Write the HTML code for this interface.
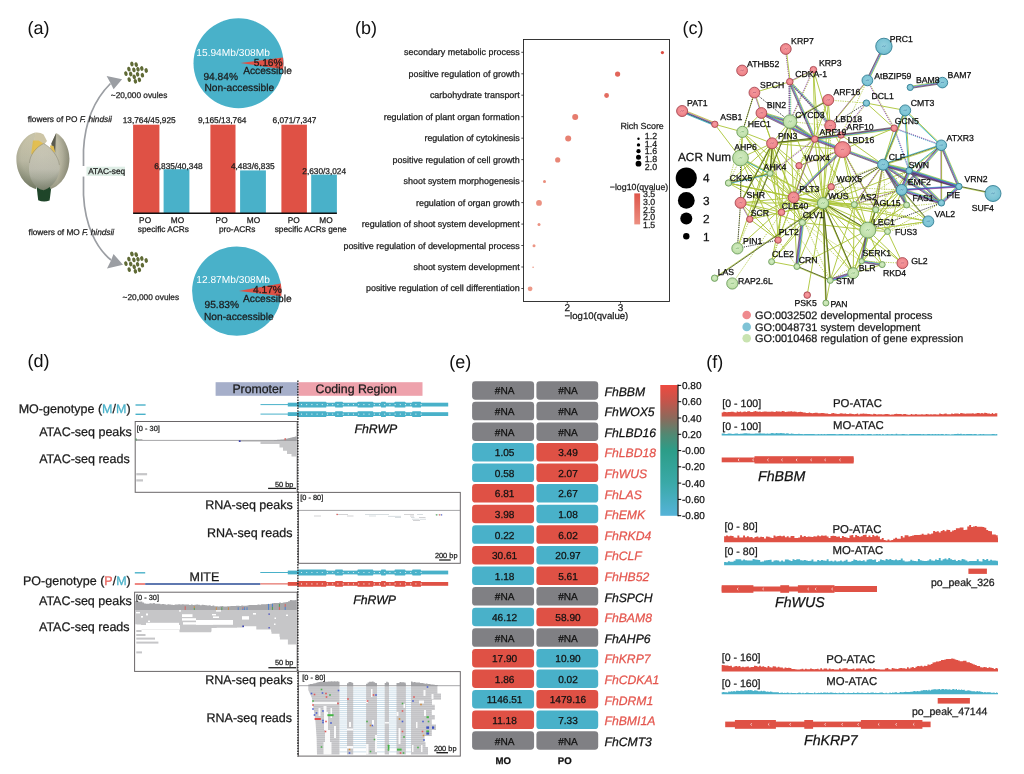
<!DOCTYPE html>
<html lang="en">
<head>
<meta charset="utf-8">
<title>Figure: ATAC-seq accessible chromatin regions</title>
<style>
html,body{margin:0;padding:0;background:#fff;}
body{width:1024px;height:774px;overflow:hidden;}
svg{display:block;will-change:transform;font-family:'Liberation Sans', sans-serif;}
svg text{font-family:"Liberation Sans",sans-serif;text-rendering:geometricPrecision;}
</style>
</head>
<body>
<svg width="1024" height="774" viewBox="0 0 1024 774">
<rect x="0" y="0" width="1024" height="774" fill="#ffffff"/>
<g id="panel-a">
<text x="27.5" y="33.9" font-size="18" fill="#111">(a)</text>
<path d="M110.5 83.5 C96 98 85 120 83.5 150 L83.5 195 C85 225 96 248 111 260" fill="none" stroke="#9b9ea3" stroke-width="1.7"/>
<path d="M122.1 79.3 L106.6 76.1 L110.6 83.2 L113.6 89.2 Z" fill="#9b9ea3"/>
<path d="M123 264.8 L107 268.5 L111 260.5 L113.5 254 Z" fill="#9b9ea3"/>
<ellipse cx="131.9" cy="64.0" rx="1.7" ry="2.4" fill="#5f6a35" transform="rotate(-15 131.9 64.0)"/>
<ellipse cx="136.2" cy="64.6" rx="1.7" ry="2.4" fill="#5f6a35" transform="rotate(-15 136.2 64.6)"/>
<ellipse cx="128.9" cy="69.1" rx="1.7" ry="2.4" fill="#5f6a35" transform="rotate(-15 128.9 69.1)"/>
<ellipse cx="133.9" cy="69.9" rx="1.7" ry="2.4" fill="#5f6a35" transform="rotate(-15 133.9 69.9)"/>
<ellipse cx="138.0" cy="69.3" rx="1.7" ry="2.4" fill="#5f6a35" transform="rotate(-15 138.0 69.3)"/>
<ellipse cx="141.8" cy="68.5" rx="1.7" ry="2.4" fill="#5f6a35" transform="rotate(-15 141.8 68.5)"/>
<ellipse cx="146.2" cy="70.5" rx="1.7" ry="2.4" fill="#5f6a35" transform="rotate(-15 146.2 70.5)"/>
<ellipse cx="125.9" cy="73.6" rx="1.7" ry="2.4" fill="#5f6a35" transform="rotate(-15 125.9 73.6)"/>
<ellipse cx="130.7" cy="74.0" rx="1.7" ry="2.4" fill="#5f6a35" transform="rotate(-15 130.7 74.0)"/>
<ellipse cx="137.6" cy="74.3" rx="1.7" ry="2.4" fill="#5f6a35" transform="rotate(-15 137.6 74.3)"/>
<ellipse cx="142.4" cy="75.2" rx="1.7" ry="2.4" fill="#5f6a35" transform="rotate(-15 142.4 75.2)"/>
<ellipse cx="134.2" cy="76.9" rx="1.7" ry="2.4" fill="#5f6a35" transform="rotate(-15 134.2 76.9)"/>
<ellipse cx="129.2" cy="79.6" rx="1.7" ry="2.4" fill="#5f6a35" transform="rotate(-15 129.2 79.6)"/>
<ellipse cx="139.4" cy="79.8" rx="1.7" ry="2.4" fill="#5f6a35" transform="rotate(-15 139.4 79.8)"/>
<ellipse cx="135.4" cy="81.3" rx="1.7" ry="2.4" fill="#5f6a35" transform="rotate(-15 135.4 81.3)"/>
<ellipse cx="131.9" cy="254.0" rx="1.7" ry="2.4" fill="#5f6a35" transform="rotate(-15 131.9 254.0)"/>
<ellipse cx="136.2" cy="254.6" rx="1.7" ry="2.4" fill="#5f6a35" transform="rotate(-15 136.2 254.6)"/>
<ellipse cx="128.9" cy="259.1" rx="1.7" ry="2.4" fill="#5f6a35" transform="rotate(-15 128.9 259.1)"/>
<ellipse cx="133.9" cy="259.9" rx="1.7" ry="2.4" fill="#5f6a35" transform="rotate(-15 133.9 259.9)"/>
<ellipse cx="138.0" cy="259.3" rx="1.7" ry="2.4" fill="#5f6a35" transform="rotate(-15 138.0 259.3)"/>
<ellipse cx="141.8" cy="258.5" rx="1.7" ry="2.4" fill="#5f6a35" transform="rotate(-15 141.8 258.5)"/>
<ellipse cx="146.2" cy="260.5" rx="1.7" ry="2.4" fill="#5f6a35" transform="rotate(-15 146.2 260.5)"/>
<ellipse cx="125.9" cy="263.6" rx="1.7" ry="2.4" fill="#5f6a35" transform="rotate(-15 125.9 263.6)"/>
<ellipse cx="130.7" cy="264.0" rx="1.7" ry="2.4" fill="#5f6a35" transform="rotate(-15 130.7 264.0)"/>
<ellipse cx="137.6" cy="264.3" rx="1.7" ry="2.4" fill="#5f6a35" transform="rotate(-15 137.6 264.3)"/>
<ellipse cx="142.4" cy="265.2" rx="1.7" ry="2.4" fill="#5f6a35" transform="rotate(-15 142.4 265.2)"/>
<ellipse cx="134.2" cy="266.9" rx="1.7" ry="2.4" fill="#5f6a35" transform="rotate(-15 134.2 266.9)"/>
<ellipse cx="129.2" cy="269.6" rx="1.7" ry="2.4" fill="#5f6a35" transform="rotate(-15 129.2 269.6)"/>
<ellipse cx="139.4" cy="269.8" rx="1.7" ry="2.4" fill="#5f6a35" transform="rotate(-15 139.4 269.8)"/>
<ellipse cx="135.4" cy="271.3" rx="1.7" ry="2.4" fill="#5f6a35" transform="rotate(-15 135.4 271.3)"/>
<text x="110.8" y="97.8" font-size="8.3" fill="#222" stroke="#222" stroke-width="0.25">~20,000 ovules</text>
<text x="122.6" y="300.1" font-size="8.3" fill="#222" stroke="#222" stroke-width="0.25">~20,000 ovules</text>
<text x="27.7" y="121.5" font-size="8.3" fill="#222" stroke="#222" stroke-width="0.25">flowers of PO <tspan font-style="italic">F. hindsii</tspan></text>
<text x="28.6" y="234.5" font-size="8.3" fill="#222" stroke="#222" stroke-width="0.25">flowers of MO <tspan font-style="italic">F. hindsii</tspan></text>
<rect x="81.8" y="166.0" width="44.0" height="10.6" fill="#ffffff"/>
<rect x="86.5" y="166.7" width="38.5" height="9.2" fill="#dfeee6"/>
<text x="88.2" y="174.3" font-size="8.3" fill="#222" stroke="#222" stroke-width="0.25">ATAC-seq</text>
<g id="flower">
<defs><linearGradient id="fl1" x1="0" y1="0" x2="0" y2="1"><stop offset="0" stop-color="#cfcaae"/><stop offset="0.5" stop-color="#bdbba6"/><stop offset="1" stop-color="#838a74"/></linearGradient><linearGradient id="fl2" x1="0" y1="0" x2="0" y2="1"><stop offset="0" stop-color="#cbc8b5"/><stop offset="0.55" stop-color="#c0bfb1"/><stop offset="1" stop-color="#8f9583"/></linearGradient><linearGradient id="fl3" x1="0" y1="0" x2="1" y2="0"><stop offset="0" stop-color="#b2b09c"/><stop offset="0.5" stop-color="#c2bfaa"/><stop offset="1" stop-color="#9c9b88"/></linearGradient></defs>
<path d="M36.6 186.5 L38.2 200.2 Q43.5 202.6 49.6 200.6 L51.4 186.5 Z" fill="#1f4529"/>
<path d="M35.3 132.6 C26 134.5 16.8 146 16.4 158.5 C16.2 173 24 185.5 36 189 L40 170 L34 150 Z" fill="url(#fl1)"/>
<path d="M35.3 132.6 C38.5 132.2 41.5 133 43.6 134.6 L47 141 L43 146 L33 150 Z" fill="#cdc5a6"/>
<path d="M56.3 133.0 C63 136 69.2 147 69.4 158.5 C69.4 173 61.5 185.5 50.5 189 L46 170 L51.3 143.8 Z" fill="url(#fl3)"/>
<path d="M56.0 133.2 L51.3 143.6 L55.2 152.5 C55.4 146 55.8 139 56.0 133.2 Z" fill="#5b5b4f"/>
<path d="M33.0 140.6 L38.6 140.4 L43.0 143.2 L41.0 149.5 L34.5 156.0 L31.2 153.5 Z" fill="#e3bf52"/>
<path d="M49.8 145.4 L53.6 146.0 L55.2 152.6 L51.6 151.2 Z" fill="#e3bf52"/>
<path d="M43.6 143.6 C50 146.5 58.5 156 59.6 167 C60 177 53 187.5 43.6 190.2 C34 188.5 28.4 178 29.0 167 C29.6 156 36.5 147 43.6 143.6 Z" fill="url(#fl2)"/>
<defs><clipPath id="budclip"><path d="M35.3 132.6 C26 134.5 16.8 146 16.4 158.5 C16.2 173 24 185.5 36 189 L40 170 L34 150 Z"/><path d="M56.3 133.0 C63 136 69.2 147 69.4 158.5 C69.4 173 61.5 185.5 50.5 189 L46 170 L51.3 143.8 Z"/><path d="M43.6 143.6 C50 146.5 58.5 156 59.6 167 C60 177 53 187.5 43.6 190.2 C34 188.5 28.4 178 29.0 167 C29.6 156 36.5 147 43.6 143.6 Z"/></clipPath><radialGradient id="budshade" cx="0.48" cy="0.42" r="0.62"><stop offset="0" stop-color="#50553f" stop-opacity="0"/><stop offset="0.6" stop-color="#50553f" stop-opacity="0.04"/><stop offset="0.85" stop-color="#50553f" stop-opacity="0.28"/><stop offset="1" stop-color="#3c4230" stop-opacity="0.6"/></radialGradient></defs>
<ellipse cx="43" cy="161" rx="28" ry="31" fill="url(#budshade)" clip-path="url(#budclip)"/>
<path d="M29.4 163 C30 154 36.5 147 43.6 143.6" fill="none" stroke="#8d8c7a" stroke-width="0.7" stroke-opacity="0.8"/>
<path d="M43.6 143.6 C50 146.5 58.5 156 59.4 165" fill="none" stroke="#8d8c7a" stroke-width="0.7" stroke-opacity="0.8"/>
</g>
<circle cx="238.5" cy="63.2" r="45.0" fill="#49b1c9"/>
<path d="M240.4 62.9 L283.0 57.5 A45 45 0 0 1 283.1 69.2 Z" fill="#df5145"/>
<circle cx="236.8" cy="291.1" r="44.7" fill="#49b1c9"/>
<path d="M239.0 290.9 L280.8 283.4 A44.7 44.7 0 0 1 281.2 296.2 Z" fill="#df5145"/>
<text x="196.3" y="56.3" font-size="10.2" fill="#fff">15.94Mb/308Mb</text>
<text x="253.7" y="65.6" font-size="10.2" fill="#1a1a1a" stroke="#1a1a1a" stroke-width="0.25">5.16%</text>
<text x="243.2" y="74.1" font-size="10.2" fill="#1a1a1a" stroke="#1a1a1a" stroke-width="0.25">Accessible</text>
<text x="203.4" y="79.8" font-size="10.2" fill="#1a1a1a" stroke="#1a1a1a" stroke-width="0.25">94.84%</text>
<text x="204.5" y="90.8" font-size="10.2" fill="#1a1a1a" stroke="#1a1a1a" stroke-width="0.25">Non-accessible</text>
<text x="196.3" y="283.0" font-size="10.2" fill="#fff">12.87Mb/308Mb</text>
<text x="253.0" y="292.5" font-size="10.2" fill="#1a1a1a" stroke="#1a1a1a" stroke-width="0.25">4.17%</text>
<text x="243.0" y="302.0" font-size="10.2" fill="#1a1a1a" stroke="#1a1a1a" stroke-width="0.25">Accessible</text>
<text x="204.5" y="307.6" font-size="10.2" fill="#1a1a1a" stroke="#1a1a1a" stroke-width="0.25">95.83%</text>
<text x="204.0" y="319.5" font-size="10.2" fill="#1a1a1a" stroke="#1a1a1a" stroke-width="0.25">Non-accessible</text>
<rect x="133.1" y="124.7" width="26.3" height="88.3" fill="#df5145"/>
<rect x="163.6" y="169.2" width="25.8" height="43.8" fill="#49b1c9"/>
<rect x="210.4" y="124.7" width="25.1" height="88.3" fill="#df5145"/>
<rect x="240.1" y="170.4" width="25.8" height="42.6" fill="#49b1c9"/>
<rect x="281.4" y="124.7" width="25.5" height="88.3" fill="#df5145"/>
<rect x="311.2" y="174.6" width="25.7" height="38.4" fill="#49b1c9"/>
<line x1="133.1" y1="213.3" x2="336.9" y2="213.3" stroke="#111" stroke-width="1.4"/>
<text x="149.2" y="122.9" font-size="8.3" fill="#1a1a1a" text-anchor="middle" stroke="#1a1a1a" stroke-width="0.25">13,764/45,925</text>
<text x="178.4" y="168.6" font-size="8.3" fill="#1a1a1a" text-anchor="middle" stroke="#1a1a1a" stroke-width="0.25">6,835/40,348</text>
<text x="222.2" y="122.9" font-size="8.3" fill="#1a1a1a" text-anchor="middle" stroke="#1a1a1a" stroke-width="0.25">9,165/13,764</text>
<text x="252.8" y="168.8" font-size="8.3" fill="#1a1a1a" text-anchor="middle" stroke="#1a1a1a" stroke-width="0.25">4,483/6,835</text>
<text x="294.5" y="122.9" font-size="8.3" fill="#1a1a1a" text-anchor="middle" stroke="#1a1a1a" stroke-width="0.25">6,071/7,347</text>
<text x="324.2" y="173.5" font-size="8.3" fill="#1a1a1a" text-anchor="middle" stroke="#1a1a1a" stroke-width="0.25">2,630/3,024</text>
<text x="145.1" y="223.2" font-size="8.3" fill="#1a1a1a" text-anchor="middle" stroke="#1a1a1a" stroke-width="0.25">PO</text>
<text x="177.5" y="223.2" font-size="8.3" fill="#1a1a1a" text-anchor="middle" stroke="#1a1a1a" stroke-width="0.25">MO</text>
<text x="221.6" y="223.2" font-size="8.3" fill="#1a1a1a" text-anchor="middle" stroke="#1a1a1a" stroke-width="0.25">PO</text>
<text x="253.5" y="223.2" font-size="8.3" fill="#1a1a1a" text-anchor="middle" stroke="#1a1a1a" stroke-width="0.25">MO</text>
<text x="293.8" y="223.2" font-size="8.3" fill="#1a1a1a" text-anchor="middle" stroke="#1a1a1a" stroke-width="0.25">PO</text>
<text x="326.0" y="223.2" font-size="8.3" fill="#1a1a1a" text-anchor="middle" stroke="#1a1a1a" stroke-width="0.25">MO</text>
<text x="163.4" y="232.1" font-size="8.3" fill="#1a1a1a" text-anchor="middle" stroke="#1a1a1a" stroke-width="0.25">specific ACRs</text>
<text x="237.1" y="232.1" font-size="8.3" fill="#1a1a1a" text-anchor="middle" stroke="#1a1a1a" stroke-width="0.25">pro-ACRs</text>
<text x="310.7" y="232.1" font-size="8.3" fill="#1a1a1a" text-anchor="middle" stroke="#1a1a1a" stroke-width="0.25">specific ACRs gene</text>
</g>
<g id="panel-b">
<text x="355.0" y="33.9" font-size="18" fill="#111">(b)</text>
<rect x="523.5" y="39.5" width="146" height="262" fill="#fff" stroke="#222" stroke-width="0.9"/>
<text x="519.8" y="55.3" font-size="8.95" fill="#1a1a1a" text-anchor="end" stroke="#1a1a1a" stroke-width="0.25">secondary metabolic process</text>
<line x1="521.3" y1="52.3" x2="523.5" y2="52.3" stroke="#222" stroke-width="0.8"/>
<circle cx="662.4" cy="52.6" r="1.6" fill="#dc4b40"/>
<text x="519.8" y="76.7" font-size="8.95" fill="#1a1a1a" text-anchor="end" stroke="#1a1a1a" stroke-width="0.25">positive regulation of growth</text>
<line x1="521.3" y1="73.8" x2="523.5" y2="73.8" stroke="#222" stroke-width="0.8"/>
<circle cx="617.6" cy="74.1" r="2.6" fill="#e2655a"/>
<text x="519.8" y="98.2" font-size="8.95" fill="#1a1a1a" text-anchor="end" stroke="#1a1a1a" stroke-width="0.25">carbohydrate transport</text>
<line x1="521.3" y1="95.2" x2="523.5" y2="95.2" stroke="#222" stroke-width="0.8"/>
<circle cx="606.6" cy="95.5" r="2.4" fill="#e36c60"/>
<text x="519.8" y="119.7" font-size="8.95" fill="#1a1a1a" text-anchor="end" stroke="#1a1a1a" stroke-width="0.25">regulation of plant organ formation</text>
<line x1="521.3" y1="116.7" x2="523.5" y2="116.7" stroke="#222" stroke-width="0.8"/>
<circle cx="575.2" cy="117.0" r="3.0" fill="#e67c6e"/>
<text x="519.8" y="141.2" font-size="8.95" fill="#1a1a1a" text-anchor="end" stroke="#1a1a1a" stroke-width="0.25">regulation of cytokinesis</text>
<line x1="521.3" y1="138.2" x2="523.5" y2="138.2" stroke="#222" stroke-width="0.8"/>
<circle cx="568.2" cy="138.5" r="3.0" fill="#e78172"/>
<text x="519.8" y="162.6" font-size="8.95" fill="#1a1a1a" text-anchor="end" stroke="#1a1a1a" stroke-width="0.25">positive regulation of cell growth</text>
<line x1="521.3" y1="159.6" x2="523.5" y2="159.6" stroke="#222" stroke-width="0.8"/>
<circle cx="557.7" cy="159.9" r="2.6" fill="#e88676"/>
<text x="519.8" y="184.1" font-size="8.95" fill="#1a1a1a" text-anchor="end" stroke="#1a1a1a" stroke-width="0.25">shoot system morphogenesis</text>
<line x1="521.3" y1="181.1" x2="523.5" y2="181.1" stroke="#222" stroke-width="0.8"/>
<circle cx="544.5" cy="181.4" r="1.5" fill="#ea8d7c"/>
<text x="519.8" y="205.6" font-size="8.95" fill="#1a1a1a" text-anchor="end" stroke="#1a1a1a" stroke-width="0.25">regulation of organ growth</text>
<line x1="521.3" y1="202.6" x2="523.5" y2="202.6" stroke="#222" stroke-width="0.8"/>
<circle cx="539.0" cy="202.9" r="2.9" fill="#eb9181"/>
<text x="519.8" y="227.0" font-size="8.95" fill="#1a1a1a" text-anchor="end" stroke="#1a1a1a" stroke-width="0.25">regulation of shoot system development</text>
<line x1="521.3" y1="224.1" x2="523.5" y2="224.1" stroke="#222" stroke-width="0.8"/>
<circle cx="539.0" cy="224.4" r="1.5" fill="#eb9181"/>
<text x="519.8" y="248.5" font-size="8.95" fill="#1a1a1a" text-anchor="end" stroke="#1a1a1a" stroke-width="0.25">positive regulation of developmental process</text>
<line x1="521.3" y1="245.5" x2="523.5" y2="245.5" stroke="#222" stroke-width="0.8"/>
<circle cx="534.0" cy="245.8" r="1.5" fill="#ec9685"/>
<text x="519.8" y="270.0" font-size="8.95" fill="#1a1a1a" text-anchor="end" stroke="#1a1a1a" stroke-width="0.25">shoot system development</text>
<line x1="521.3" y1="267.0" x2="523.5" y2="267.0" stroke="#222" stroke-width="0.8"/>
<circle cx="533.1" cy="267.3" r="0.8" fill="#ec9685"/>
<text x="519.8" y="291.4" font-size="8.95" fill="#1a1a1a" text-anchor="end" stroke="#1a1a1a" stroke-width="0.25">positive regulation of cell differentiation</text>
<line x1="521.3" y1="288.5" x2="523.5" y2="288.5" stroke="#222" stroke-width="0.8"/>
<circle cx="530.1" cy="288.8" r="2.4" fill="#ed9988"/>
<line x1="567.3" y1="301.5" x2="567.3" y2="303.5" stroke="#222" stroke-width="0.8"/>
<text x="567.3" y="310.8" font-size="10.0" fill="#1a1a1a" text-anchor="middle" stroke="#1a1a1a" stroke-width="0.25">2</text>
<line x1="620.5" y1="301.5" x2="620.5" y2="303.5" stroke="#222" stroke-width="0.8"/>
<text x="620.5" y="310.8" font-size="10.0" fill="#1a1a1a" text-anchor="middle" stroke="#1a1a1a" stroke-width="0.25">3</text>
<text x="596.4" y="319.2" font-size="9.6" fill="#1a1a1a" text-anchor="middle" stroke="#1a1a1a" stroke-width="0.25">−log10(qvalue)</text>
<text x="642.1" y="129.4" font-size="8.9" fill="#1a1a1a" text-anchor="middle" stroke="#1a1a1a" stroke-width="0.25">Rich Score</text>
<circle cx="638.5" cy="138.8" r="1.2" fill="#000"/>
<text x="644.8" y="139.1" font-size="8.8" fill="#1a1a1a" stroke="#1a1a1a" stroke-width="0.25">1.2</text>
<circle cx="638.5" cy="144.9" r="1.7" fill="#000"/>
<text x="644.8" y="146.8" font-size="8.8" fill="#1a1a1a" stroke="#1a1a1a" stroke-width="0.25">1.4</text>
<circle cx="638.5" cy="151.2" r="2.1" fill="#000"/>
<text x="644.8" y="154.3" font-size="8.8" fill="#1a1a1a" stroke="#1a1a1a" stroke-width="0.25">1.6</text>
<circle cx="638.5" cy="157.3" r="2.5" fill="#000"/>
<text x="644.8" y="162.3" font-size="8.8" fill="#1a1a1a" stroke="#1a1a1a" stroke-width="0.25">1.8</text>
<circle cx="638.5" cy="163.7" r="2.9" fill="#000"/>
<text x="644.8" y="170.3" font-size="8.8" fill="#1a1a1a" stroke="#1a1a1a" stroke-width="0.25">2.0</text>
<text x="639.0" y="189.5" font-size="8.8" fill="#1a1a1a" text-anchor="middle" stroke="#1a1a1a" stroke-width="0.25">−log10(qvalue)</text>
<defs><linearGradient id="gb" x1="0" y1="0" x2="0" y2="1"><stop offset="0" stop-color="#de554a"/><stop offset="1" stop-color="#ec8f81"/></linearGradient></defs>
<rect x="634.3" y="193.4" width="5.8" height="31.0" fill="url(#gb)"/>
<text x="643.0" y="197.0" font-size="8.8" fill="#1a1a1a" stroke="#1a1a1a" stroke-width="0.25">3.5</text>
<text x="643.0" y="204.7" font-size="8.8" fill="#1a1a1a" stroke="#1a1a1a" stroke-width="0.25">3.0</text>
<text x="643.0" y="212.5" font-size="8.8" fill="#1a1a1a" stroke="#1a1a1a" stroke-width="0.25">2.5</text>
<text x="643.0" y="220.0" font-size="8.8" fill="#1a1a1a" stroke="#1a1a1a" stroke-width="0.25">2.0</text>
<text x="643.0" y="228.2" font-size="8.8" fill="#1a1a1a" stroke="#1a1a1a" stroke-width="0.25">1.5</text>
</g>
<g id="panel-c">
<text x="682.6" y="33.9" font-size="18" fill="#111">(c)</text>
<line x1="823.0" y1="203.2" x2="772.1" y2="143.3" stroke="#adc63a" stroke-width="1.0" stroke-opacity="0.92"/>
<line x1="823.0" y1="203.2" x2="793.6" y2="197.4" stroke="#adc63a" stroke-width="1.0" stroke-opacity="0.92"/>
<line x1="823.0" y1="203.2" x2="781.5" y2="212.3" stroke="#adc63a" stroke-width="1.0" stroke-opacity="0.92"/>
<line x1="823.0" y1="203.2" x2="802.3" y2="222.6" stroke="#adc63a" stroke-width="1.0" stroke-opacity="0.92"/>
<line x1="823.0" y1="203.2" x2="778.1" y2="240.1" stroke="#adc63a" stroke-width="1.0" stroke-opacity="0.92"/>
<line x1="823.0" y1="203.2" x2="796.9" y2="266.5" stroke="#adc63a" stroke-width="1.0" stroke-opacity="0.92"/>
<line x1="823.0" y1="203.2" x2="830.2" y2="280.4" stroke="#adc63a" stroke-width="1.0" stroke-opacity="0.92"/>
<line x1="823.0" y1="203.2" x2="825.9" y2="303.0" stroke="#adc63a" stroke-width="1.0" stroke-opacity="0.92"/>
<line x1="823.0" y1="203.2" x2="807.2" y2="295.1" stroke="#adc63a" stroke-width="1.0" stroke-opacity="0.92"/>
<line x1="823.0" y1="203.2" x2="853.2" y2="273.2" stroke="#adc63a" stroke-width="1.0" stroke-opacity="0.92"/>
<line x1="823.0" y1="203.2" x2="861.6" y2="261.3" stroke="#adc63a" stroke-width="1.0" stroke-opacity="0.92"/>
<line x1="823.0" y1="203.2" x2="867.8" y2="230.1" stroke="#adc63a" stroke-width="1.0" stroke-opacity="0.92"/>
<line x1="823.0" y1="203.2" x2="875.7" y2="209.7" stroke="#adc63a" stroke-width="1.0" stroke-opacity="0.92"/>
<line x1="823.0" y1="203.2" x2="854.3" y2="204.6" stroke="#adc63a" stroke-width="1.0" stroke-opacity="0.92"/>
<line x1="823.0" y1="203.2" x2="887.5" y2="231.5" stroke="#adc63a" stroke-width="1.0" stroke-opacity="0.92"/>
<line x1="823.0" y1="203.2" x2="831.2" y2="186.8" stroke="#adc63a" stroke-width="1.0" stroke-opacity="0.92"/>
<line x1="823.0" y1="203.2" x2="799.0" y2="165.7" stroke="#adc63a" stroke-width="1.0" stroke-opacity="0.92"/>
<line x1="823.0" y1="203.2" x2="842.5" y2="149.6" stroke="#adc63a" stroke-width="1.0" stroke-opacity="0.92"/>
<line x1="823.0" y1="203.2" x2="814.7" y2="139.1" stroke="#adc63a" stroke-width="1.0" stroke-opacity="0.92"/>
<line x1="823.0" y1="203.2" x2="830.2" y2="125.7" stroke="#adc63a" stroke-width="1.0" stroke-opacity="0.92"/>
<line x1="823.0" y1="203.2" x2="770.1" y2="173.4" stroke="#adc63a" stroke-width="1.0" stroke-opacity="0.92"/>
<line x1="823.0" y1="203.2" x2="740.6" y2="202.8" stroke="#adc63a" stroke-width="1.0" stroke-opacity="0.92"/>
<line x1="823.0" y1="203.2" x2="749.8" y2="219.2" stroke="#adc63a" stroke-width="1.0" stroke-opacity="0.92"/>
<line x1="823.0" y1="203.2" x2="771.6" y2="261.7" stroke="#adc63a" stroke-width="1.0" stroke-opacity="0.92"/>
<line x1="823.0" y1="203.2" x2="882.2" y2="264.6" stroke="#adc63a" stroke-width="1.0" stroke-opacity="0.92"/>
<line x1="823.0" y1="203.2" x2="906.6" y2="205.0" stroke="#adc63a" stroke-width="1.0" stroke-opacity="0.92"/>
<line x1="823.0" y1="203.2" x2="901.7" y2="189.9" stroke="#adc63a" stroke-width="1.0" stroke-opacity="0.92"/>
<line x1="823.0" y1="203.2" x2="883.1" y2="164.7" stroke="#adc63a" stroke-width="1.0" stroke-opacity="0.92"/>
<line x1="823.0" y1="203.2" x2="790.0" y2="121.6" stroke="#adc63a" stroke-width="1.0" stroke-opacity="0.92"/>
<line x1="823.0" y1="203.2" x2="740.5" y2="158.0" stroke="#adc63a" stroke-width="1.0" stroke-opacity="0.92"/>
<line x1="823.0" y1="203.2" x2="841.1" y2="135.0" stroke="#adc63a" stroke-width="1.0" stroke-opacity="0.92"/>
<line x1="823.0" y1="203.2" x2="728.5" y2="183.0" stroke="#adc63a" stroke-width="1.0" stroke-opacity="0.92"/>
<line x1="823.0" y1="203.2" x2="742.4" y2="131.9" stroke="#adc63a" stroke-width="1.0" stroke-opacity="0.92"/>
<line x1="823.0" y1="203.2" x2="928.3" y2="221.4" stroke="#adc63a" stroke-width="1.0" stroke-opacity="0.92"/>
<line x1="823.0" y1="203.2" x2="902.4" y2="263.1" stroke="#adc63a" stroke-width="1.0" stroke-opacity="0.92"/>
<line x1="823.0" y1="203.2" x2="828.2" y2="100.0" stroke="#adc63a" stroke-width="1.0" stroke-opacity="0.92"/>
<line x1="823.0" y1="203.2" x2="813.4" y2="69.7" stroke="#adc63a" stroke-width="1.0" stroke-opacity="0.92"/>
<line x1="823.0" y1="203.2" x2="909.2" y2="170.6" stroke="#adc63a" stroke-width="1.0" stroke-opacity="0.92"/>
<line x1="793.6" y1="197.4" x2="772.1" y2="143.3" stroke="#adc63a" stroke-width="1.0" stroke-opacity="0.92"/>
<line x1="793.6" y1="197.4" x2="781.5" y2="212.3" stroke="#adc63a" stroke-width="1.0" stroke-opacity="0.92"/>
<line x1="793.6" y1="197.4" x2="802.3" y2="222.6" stroke="#adc63a" stroke-width="1.0" stroke-opacity="0.92"/>
<line x1="793.6" y1="197.4" x2="778.1" y2="240.1" stroke="#adc63a" stroke-width="1.0" stroke-opacity="0.92"/>
<line x1="793.6" y1="197.4" x2="740.6" y2="202.8" stroke="#adc63a" stroke-width="1.0" stroke-opacity="0.92"/>
<line x1="793.6" y1="197.4" x2="749.8" y2="219.2" stroke="#adc63a" stroke-width="1.0" stroke-opacity="0.92"/>
<line x1="793.6" y1="197.4" x2="799.0" y2="165.7" stroke="#adc63a" stroke-width="1.0" stroke-opacity="0.92"/>
<line x1="793.6" y1="197.4" x2="770.1" y2="173.4" stroke="#adc63a" stroke-width="1.0" stroke-opacity="0.92"/>
<line x1="793.6" y1="197.4" x2="740.5" y2="158.0" stroke="#adc63a" stroke-width="1.0" stroke-opacity="0.92"/>
<line x1="793.6" y1="197.4" x2="790.0" y2="121.6" stroke="#adc63a" stroke-width="1.0" stroke-opacity="0.92"/>
<line x1="793.6" y1="197.4" x2="742.4" y2="131.9" stroke="#adc63a" stroke-width="1.0" stroke-opacity="0.92"/>
<line x1="793.6" y1="197.4" x2="728.5" y2="183.0" stroke="#adc63a" stroke-width="1.0" stroke-opacity="0.92"/>
<line x1="793.6" y1="197.4" x2="867.8" y2="230.1" stroke="#adc63a" stroke-width="1.0" stroke-opacity="0.92"/>
<line x1="793.6" y1="197.4" x2="854.3" y2="204.6" stroke="#adc63a" stroke-width="1.0" stroke-opacity="0.92"/>
<line x1="793.6" y1="197.4" x2="875.7" y2="209.7" stroke="#adc63a" stroke-width="1.0" stroke-opacity="0.92"/>
<line x1="793.6" y1="197.4" x2="831.2" y2="186.8" stroke="#adc63a" stroke-width="1.0" stroke-opacity="0.92"/>
<line x1="793.6" y1="197.4" x2="814.7" y2="139.1" stroke="#adc63a" stroke-width="1.0" stroke-opacity="0.92"/>
<line x1="793.6" y1="197.4" x2="737.4" y2="248.4" stroke="#adc63a" stroke-width="1.0" stroke-opacity="0.92"/>
<line x1="793.6" y1="197.4" x2="796.9" y2="266.5" stroke="#adc63a" stroke-width="1.0" stroke-opacity="0.92"/>
<line x1="793.6" y1="197.4" x2="853.2" y2="273.2" stroke="#adc63a" stroke-width="1.0" stroke-opacity="0.92"/>
<line x1="867.8" y1="230.1" x2="854.3" y2="204.6" stroke="#adc63a" stroke-width="1.0" stroke-opacity="0.92"/>
<line x1="867.8" y1="230.1" x2="875.7" y2="209.7" stroke="#adc63a" stroke-width="1.0" stroke-opacity="0.92"/>
<line x1="867.8" y1="230.1" x2="887.5" y2="231.5" stroke="#adc63a" stroke-width="1.0" stroke-opacity="0.92"/>
<line x1="867.8" y1="230.1" x2="861.6" y2="261.3" stroke="#adc63a" stroke-width="1.0" stroke-opacity="0.92"/>
<line x1="867.8" y1="230.1" x2="853.2" y2="273.2" stroke="#adc63a" stroke-width="1.0" stroke-opacity="0.92"/>
<line x1="867.8" y1="230.1" x2="882.2" y2="264.6" stroke="#adc63a" stroke-width="1.0" stroke-opacity="0.92"/>
<line x1="867.8" y1="230.1" x2="902.4" y2="263.1" stroke="#adc63a" stroke-width="1.0" stroke-opacity="0.92"/>
<line x1="867.8" y1="230.1" x2="906.6" y2="205.0" stroke="#adc63a" stroke-width="1.0" stroke-opacity="0.92"/>
<line x1="867.8" y1="230.1" x2="901.7" y2="189.9" stroke="#adc63a" stroke-width="1.0" stroke-opacity="0.92"/>
<line x1="867.8" y1="230.1" x2="883.1" y2="164.7" stroke="#adc63a" stroke-width="1.0" stroke-opacity="0.92"/>
<line x1="867.8" y1="230.1" x2="831.2" y2="186.8" stroke="#adc63a" stroke-width="1.0" stroke-opacity="0.92"/>
<line x1="867.8" y1="230.1" x2="842.5" y2="149.6" stroke="#adc63a" stroke-width="1.0" stroke-opacity="0.92"/>
<line x1="867.8" y1="230.1" x2="830.2" y2="280.4" stroke="#adc63a" stroke-width="1.0" stroke-opacity="0.92"/>
<line x1="867.8" y1="230.1" x2="802.3" y2="222.6" stroke="#adc63a" stroke-width="1.0" stroke-opacity="0.92"/>
<line x1="867.8" y1="230.1" x2="793.6" y2="197.4" stroke="#adc63a" stroke-width="1.0" stroke-opacity="0.92"/>
<line x1="867.8" y1="230.1" x2="796.9" y2="266.5" stroke="#adc63a" stroke-width="1.0" stroke-opacity="0.92"/>
<line x1="867.8" y1="230.1" x2="928.3" y2="221.4" stroke="#adc63a" stroke-width="1.0" stroke-opacity="0.92"/>
<line x1="867.8" y1="230.1" x2="909.2" y2="170.6" stroke="#adc63a" stroke-width="1.0" stroke-opacity="0.92"/>
<line x1="867.8" y1="230.1" x2="814.7" y2="139.1" stroke="#adc63a" stroke-width="1.0" stroke-opacity="0.92"/>
<line x1="772.1" y1="143.3" x2="740.5" y2="158.0" stroke="#adc63a" stroke-width="1.0" stroke-opacity="0.92"/>
<line x1="772.1" y1="143.3" x2="770.1" y2="173.4" stroke="#adc63a" stroke-width="1.0" stroke-opacity="0.92"/>
<line x1="772.1" y1="143.3" x2="742.4" y2="131.9" stroke="#adc63a" stroke-width="1.0" stroke-opacity="0.92"/>
<line x1="772.1" y1="143.3" x2="740.6" y2="202.8" stroke="#adc63a" stroke-width="1.0" stroke-opacity="0.92"/>
<line x1="772.1" y1="143.3" x2="749.8" y2="219.2" stroke="#adc63a" stroke-width="1.0" stroke-opacity="0.92"/>
<line x1="772.1" y1="143.3" x2="778.1" y2="240.1" stroke="#adc63a" stroke-width="1.0" stroke-opacity="0.92"/>
<line x1="772.1" y1="143.3" x2="781.5" y2="212.3" stroke="#adc63a" stroke-width="1.0" stroke-opacity="0.92"/>
<line x1="772.1" y1="143.3" x2="802.3" y2="222.6" stroke="#adc63a" stroke-width="1.0" stroke-opacity="0.92"/>
<line x1="772.1" y1="143.3" x2="790.0" y2="121.6" stroke="#adc63a" stroke-width="1.0" stroke-opacity="0.92"/>
<line x1="772.1" y1="143.3" x2="799.0" y2="165.7" stroke="#adc63a" stroke-width="1.0" stroke-opacity="0.92"/>
<line x1="772.1" y1="143.3" x2="761.4" y2="113.0" stroke="#adc63a" stroke-width="1.0" stroke-opacity="0.92"/>
<line x1="772.1" y1="143.3" x2="842.5" y2="149.6" stroke="#adc63a" stroke-width="1.0" stroke-opacity="0.92"/>
<line x1="772.1" y1="143.3" x2="737.4" y2="248.4" stroke="#adc63a" stroke-width="1.0" stroke-opacity="0.92"/>
<line x1="772.1" y1="143.3" x2="728.5" y2="183.0" stroke="#adc63a" stroke-width="1.0" stroke-opacity="0.92"/>
<line x1="740.5" y1="158.0" x2="781.5" y2="212.3" stroke="#adc63a" stroke-width="1.0" stroke-opacity="0.92"/>
<line x1="740.5" y1="158.0" x2="778.1" y2="240.1" stroke="#adc63a" stroke-width="1.0" stroke-opacity="0.92"/>
<line x1="740.5" y1="158.0" x2="802.3" y2="222.6" stroke="#adc63a" stroke-width="1.0" stroke-opacity="0.92"/>
<line x1="770.1" y1="173.4" x2="802.3" y2="222.6" stroke="#adc63a" stroke-width="1.0" stroke-opacity="0.92"/>
<line x1="770.1" y1="173.4" x2="781.5" y2="212.3" stroke="#adc63a" stroke-width="1.0" stroke-opacity="0.92"/>
<line x1="728.5" y1="183.0" x2="781.5" y2="212.3" stroke="#adc63a" stroke-width="1.0" stroke-opacity="0.92"/>
<line x1="728.5" y1="183.0" x2="793.6" y2="197.4" stroke="#adc63a" stroke-width="1.0" stroke-opacity="0.92"/>
<line x1="740.6" y1="202.8" x2="778.1" y2="240.1" stroke="#adc63a" stroke-width="1.0" stroke-opacity="0.92"/>
<line x1="749.8" y1="219.2" x2="778.1" y2="240.1" stroke="#adc63a" stroke-width="1.0" stroke-opacity="0.92"/>
<line x1="740.6" y1="202.8" x2="781.5" y2="212.3" stroke="#adc63a" stroke-width="1.0" stroke-opacity="0.92"/>
<line x1="740.6" y1="202.8" x2="802.3" y2="222.6" stroke="#adc63a" stroke-width="1.0" stroke-opacity="0.92"/>
<line x1="742.4" y1="131.9" x2="740.5" y2="158.0" stroke="#adc63a" stroke-width="1.0" stroke-opacity="0.92"/>
<line x1="742.4" y1="131.9" x2="740.6" y2="202.8" stroke="#adc63a" stroke-width="1.0" stroke-opacity="0.92"/>
<line x1="742.4" y1="131.9" x2="770.1" y2="173.4" stroke="#adc63a" stroke-width="1.0" stroke-opacity="0.92"/>
<line x1="802.3" y1="222.6" x2="771.6" y2="261.7" stroke="#adc63a" stroke-width="1.0" stroke-opacity="0.92"/>
<line x1="771.6" y1="261.7" x2="796.9" y2="266.5" stroke="#adc63a" stroke-width="1.0" stroke-opacity="0.92"/>
<line x1="830.2" y1="280.4" x2="825.9" y2="303.0" stroke="#adc63a" stroke-width="1.0" stroke-opacity="0.92"/>
<line x1="887.5" y1="231.5" x2="902.4" y2="263.1" stroke="#adc63a" stroke-width="1.0" stroke-opacity="0.92"/>
<line x1="887.5" y1="231.5" x2="861.6" y2="261.3" stroke="#adc63a" stroke-width="1.0" stroke-opacity="0.92"/>
<line x1="887.5" y1="231.5" x2="853.2" y2="273.2" stroke="#adc63a" stroke-width="1.0" stroke-opacity="0.92"/>
<line x1="887.5" y1="231.5" x2="875.7" y2="209.7" stroke="#adc63a" stroke-width="1.0" stroke-opacity="0.92"/>
<line x1="875.7" y1="209.7" x2="861.6" y2="261.3" stroke="#adc63a" stroke-width="1.0" stroke-opacity="0.92"/>
<line x1="854.3" y1="204.6" x2="853.2" y2="273.2" stroke="#adc63a" stroke-width="1.0" stroke-opacity="0.92"/>
<line x1="854.3" y1="204.6" x2="830.2" y2="280.4" stroke="#adc63a" stroke-width="1.0" stroke-opacity="0.92"/>
<line x1="714.8" y1="124.3" x2="742.4" y2="131.9" stroke="#adc63a" stroke-width="1.0" stroke-opacity="0.92"/>
<line x1="714.8" y1="124.3" x2="740.5" y2="158.0" stroke="#adc63a" stroke-width="1.0" stroke-opacity="0.92"/>
<line x1="754.4" y1="92.6" x2="789.8" y2="81.7" stroke="#adc63a" stroke-width="1.0" stroke-opacity="0.92"/>
<line x1="828.2" y1="100.0" x2="830.2" y2="125.7" stroke="#adc63a" stroke-width="1.0" stroke-opacity="0.92"/>
<line x1="828.2" y1="100.0" x2="814.7" y2="139.1" stroke="#adc63a" stroke-width="1.0" stroke-opacity="0.92"/>
<line x1="830.2" y1="125.7" x2="842.5" y2="149.6" stroke="#adc63a" stroke-width="1.0" stroke-opacity="0.92"/>
<line x1="814.7" y1="139.1" x2="799.0" y2="165.7" stroke="#adc63a" stroke-width="1.0" stroke-opacity="0.92"/>
<line x1="842.5" y1="149.6" x2="831.2" y2="186.8" stroke="#adc63a" stroke-width="1.0" stroke-opacity="0.92"/>
<line x1="842.5" y1="149.6" x2="799.0" y2="165.7" stroke="#adc63a" stroke-width="1.0" stroke-opacity="0.92"/>
<line x1="790.0" y1="121.6" x2="814.7" y2="139.1" stroke="#adc63a" stroke-width="1.0" stroke-opacity="0.92"/>
<line x1="790.0" y1="121.6" x2="778.1" y2="240.1" stroke="#adc63a" stroke-width="1.0" stroke-opacity="0.92"/>
<line x1="761.4" y1="113.0" x2="742.4" y2="131.9" stroke="#adc63a" stroke-width="1.0" stroke-opacity="0.92"/>
<line x1="761.4" y1="113.0" x2="772.1" y2="143.3" stroke="#adc63a" stroke-width="1.0" stroke-opacity="0.92"/>
<line x1="866.4" y1="103.1" x2="905.2" y2="110.4" stroke="#adc63a" stroke-width="1.0" stroke-opacity="0.92"/>
<line x1="866.4" y1="103.1" x2="894.2" y2="128.2" stroke="#adc63a" stroke-width="1.0" stroke-opacity="0.92"/>
<line x1="894.2" y1="128.2" x2="842.5" y2="149.6" stroke="#adc63a" stroke-width="1.0" stroke-opacity="0.92"/>
<line x1="894.2" y1="128.2" x2="841.1" y2="135.0" stroke="#adc63a" stroke-width="1.0" stroke-opacity="0.92"/>
<line x1="894.2" y1="128.2" x2="883.1" y2="164.7" stroke="#adc63a" stroke-width="1.0" stroke-opacity="0.92"/>
<line x1="883.1" y1="164.7" x2="854.3" y2="204.6" stroke="#adc63a" stroke-width="1.0" stroke-opacity="0.92"/>
<line x1="883.1" y1="164.7" x2="875.7" y2="209.7" stroke="#adc63a" stroke-width="1.0" stroke-opacity="0.92"/>
<line x1="901.7" y1="189.9" x2="875.7" y2="209.7" stroke="#adc63a" stroke-width="1.0" stroke-opacity="0.92"/>
<line x1="901.7" y1="189.9" x2="887.5" y2="231.5" stroke="#adc63a" stroke-width="1.0" stroke-opacity="0.92"/>
<line x1="813.4" y1="69.7" x2="830.2" y2="125.7" stroke="#adc63a" stroke-width="1.0" stroke-opacity="0.92"/>
<line x1="813.4" y1="69.7" x2="814.7" y2="139.1" stroke="#adc63a" stroke-width="1.0" stroke-opacity="0.92"/>
<line x1="861.6" y1="261.3" x2="853.2" y2="273.2" stroke="#adc63a" stroke-width="1.0" stroke-opacity="0.92"/>
<line x1="882.2" y1="264.6" x2="853.2" y2="273.2" stroke="#adc63a" stroke-width="1.0" stroke-opacity="0.92"/>
<line x1="781.5" y1="212.3" x2="771.6" y2="261.7" stroke="#adc63a" stroke-width="1.0" stroke-opacity="0.92"/>
<line x1="814.7" y1="139.1" x2="830.2" y2="125.7" stroke="#adc63a" stroke-width="1.0" stroke-opacity="0.92"/>
<line x1="814.7" y1="139.1" x2="841.1" y2="135.0" stroke="#adc63a" stroke-width="1.0" stroke-opacity="0.92"/>
<line x1="906.6" y1="205.0" x2="883.1" y2="164.7" stroke="#adc63a" stroke-width="1.0" stroke-opacity="0.92"/>
<line x1="906.6" y1="205.0" x2="928.3" y2="221.4" stroke="#adc63a" stroke-width="1.0" stroke-opacity="0.92"/>
<line x1="875.7" y1="209.7" x2="853.2" y2="273.2" stroke="#adc63a" stroke-width="1.0" stroke-opacity="0.92"/>
<line x1="842.5" y1="149.6" x2="854.3" y2="204.6" stroke="#adc63a" stroke-width="1.0" stroke-opacity="0.92"/>
<line x1="842.5" y1="149.6" x2="875.7" y2="209.7" stroke="#adc63a" stroke-width="1.0" stroke-opacity="0.92"/>
<line x1="841.1" y1="135.0" x2="883.1" y2="164.7" stroke="#adc63a" stroke-width="1.0" stroke-opacity="0.92"/>
<line x1="941.3" y1="145.3" x2="941.4" y2="202.9" stroke="#adc63a" stroke-width="1.0" stroke-opacity="0.92"/>
<line x1="749.8" y1="219.2" x2="737.4" y2="248.4" stroke="#adc63a" stroke-width="0.9" stroke-dasharray="1.3 1.1" stroke-opacity="0.9"/>
<line x1="781.5" y1="212.3" x2="778.1" y2="240.1" stroke="#adc63a" stroke-width="0.9" stroke-dasharray="1.3 1.1" stroke-opacity="0.9"/>
<line x1="781.5" y1="212.3" x2="732.3" y2="283.5" stroke="#adc63a" stroke-width="0.9" stroke-dasharray="1.3 1.1" stroke-opacity="0.9"/>
<line x1="778.1" y1="240.1" x2="771.6" y2="261.7" stroke="#adc63a" stroke-width="0.9" stroke-dasharray="1.3 1.1" stroke-opacity="0.9"/>
<line x1="778.1" y1="240.1" x2="796.9" y2="266.5" stroke="#adc63a" stroke-width="0.9" stroke-dasharray="1.3 1.1" stroke-opacity="0.9"/>
<line x1="928.3" y1="221.4" x2="867.8" y2="230.1" stroke="#adc63a" stroke-width="0.9" stroke-dasharray="1.3 1.1" stroke-opacity="0.9"/>
<line x1="928.3" y1="221.4" x2="887.5" y2="231.5" stroke="#adc63a" stroke-width="0.9" stroke-dasharray="1.3 1.1" stroke-opacity="0.9"/>
<line x1="928.3" y1="221.4" x2="875.7" y2="209.7" stroke="#adc63a" stroke-width="0.9" stroke-dasharray="1.3 1.1" stroke-opacity="0.9"/>
<line x1="928.3" y1="221.4" x2="854.3" y2="204.6" stroke="#adc63a" stroke-width="0.9" stroke-dasharray="1.3 1.1" stroke-opacity="0.9"/>
<line x1="941.4" y1="202.9" x2="875.7" y2="209.7" stroke="#adc63a" stroke-width="0.9" stroke-dasharray="1.3 1.1" stroke-opacity="0.9"/>
<line x1="941.4" y1="202.9" x2="887.5" y2="231.5" stroke="#adc63a" stroke-width="0.9" stroke-dasharray="1.3 1.1" stroke-opacity="0.9"/>
<line x1="828.2" y1="100.0" x2="866.4" y2="103.1" stroke="#adc63a" stroke-width="0.9" stroke-dasharray="1.3 1.1" stroke-opacity="0.9"/>
<line x1="867.4" y1="80.4" x2="841.1" y2="135.0" stroke="#adc63a" stroke-width="0.9" stroke-dasharray="1.3 1.1" stroke-opacity="0.9"/>
<line x1="867.4" y1="80.4" x2="830.2" y2="125.7" stroke="#adc63a" stroke-width="0.9" stroke-dasharray="1.3 1.1" stroke-opacity="0.9"/>
<line x1="883.1" y1="164.7" x2="831.2" y2="186.8" stroke="#adc63a" stroke-width="0.9" stroke-dasharray="1.3 1.1" stroke-opacity="0.9"/>
<line x1="883.1" y1="164.7" x2="802.3" y2="222.6" stroke="#adc63a" stroke-width="0.9" stroke-dasharray="1.3 1.1" stroke-opacity="0.9"/>
<line x1="883.1" y1="164.7" x2="793.6" y2="197.4" stroke="#adc63a" stroke-width="0.9" stroke-dasharray="1.3 1.1" stroke-opacity="0.9"/>
<line x1="883.1" y1="164.7" x2="867.8" y2="230.1" stroke="#adc63a" stroke-width="0.9" stroke-dasharray="1.3 1.1" stroke-opacity="0.9"/>
<line x1="883.1" y1="164.7" x2="887.5" y2="231.5" stroke="#adc63a" stroke-width="0.9" stroke-dasharray="1.3 1.1" stroke-opacity="0.9"/>
<line x1="901.7" y1="189.9" x2="854.3" y2="204.6" stroke="#adc63a" stroke-width="0.9" stroke-dasharray="1.3 1.1" stroke-opacity="0.9"/>
<line x1="901.7" y1="189.9" x2="867.8" y2="230.1" stroke="#adc63a" stroke-width="0.9" stroke-dasharray="1.3 1.1" stroke-opacity="0.9"/>
<line x1="901.7" y1="189.9" x2="831.2" y2="186.8" stroke="#adc63a" stroke-width="0.9" stroke-dasharray="1.3 1.1" stroke-opacity="0.9"/>
<line x1="909.2" y1="170.6" x2="854.3" y2="204.6" stroke="#adc63a" stroke-width="0.9" stroke-dasharray="1.3 1.1" stroke-opacity="0.9"/>
<line x1="909.2" y1="170.6" x2="875.7" y2="209.7" stroke="#adc63a" stroke-width="0.9" stroke-dasharray="1.3 1.1" stroke-opacity="0.9"/>
<line x1="909.2" y1="170.6" x2="867.8" y2="230.1" stroke="#adc63a" stroke-width="0.9" stroke-dasharray="1.3 1.1" stroke-opacity="0.9"/>
<line x1="742.4" y1="131.9" x2="728.5" y2="183.0" stroke="#adc63a" stroke-width="0.9" stroke-dasharray="1.3 1.1" stroke-opacity="0.9"/>
<line x1="740.5" y1="158.0" x2="728.5" y2="183.0" stroke="#adc63a" stroke-width="0.9" stroke-dasharray="1.3 1.1" stroke-opacity="0.9"/>
<line x1="740.5" y1="158.0" x2="793.6" y2="197.4" stroke="#adc63a" stroke-width="0.9" stroke-dasharray="1.3 1.1" stroke-opacity="0.9"/>
<line x1="790.0" y1="121.6" x2="830.2" y2="125.7" stroke="#adc63a" stroke-width="0.9" stroke-dasharray="1.3 1.1" stroke-opacity="0.9"/>
<line x1="830.2" y1="125.7" x2="799.0" y2="165.7" stroke="#adc63a" stroke-width="0.9" stroke-dasharray="1.3 1.1" stroke-opacity="0.9"/>
<line x1="740.6" y1="202.8" x2="737.4" y2="248.4" stroke="#adc63a" stroke-width="0.9" stroke-dasharray="1.3 1.1" stroke-opacity="0.9"/>
<line x1="771.6" y1="261.7" x2="793.6" y2="197.4" stroke="#adc63a" stroke-width="0.9" stroke-dasharray="1.3 1.1" stroke-opacity="0.9"/>
<line x1="906.6" y1="205.0" x2="867.8" y2="230.1" stroke="#adc63a" stroke-width="0.9" stroke-dasharray="1.3 1.1" stroke-opacity="0.9"/>
<line x1="906.6" y1="205.0" x2="875.7" y2="209.7" stroke="#adc63a" stroke-width="0.9" stroke-dasharray="1.3 1.1" stroke-opacity="0.9"/>
<line x1="906.6" y1="205.0" x2="887.5" y2="231.5" stroke="#adc63a" stroke-width="0.9" stroke-dasharray="1.3 1.1" stroke-opacity="0.9"/>
<line x1="831.2" y1="186.8" x2="854.3" y2="204.6" stroke="#adc63a" stroke-width="0.9" stroke-dasharray="1.3 1.1" stroke-opacity="0.9"/>
<line x1="831.2" y1="186.8" x2="875.7" y2="209.7" stroke="#adc63a" stroke-width="0.9" stroke-dasharray="1.3 1.1" stroke-opacity="0.9"/>
<line x1="799.0" y1="165.7" x2="781.5" y2="212.3" stroke="#adc63a" stroke-width="0.9" stroke-dasharray="1.3 1.1" stroke-opacity="0.9"/>
<line x1="799.0" y1="165.7" x2="802.3" y2="222.6" stroke="#adc63a" stroke-width="0.9" stroke-dasharray="1.3 1.1" stroke-opacity="0.9"/>
<line x1="828.2" y1="100.0" x2="799.0" y2="165.7" stroke="#adc63a" stroke-width="0.9" stroke-dasharray="1.3 1.1" stroke-opacity="0.9"/>
<line x1="830.2" y1="125.7" x2="831.2" y2="186.8" stroke="#adc63a" stroke-width="0.9" stroke-dasharray="1.3 1.1" stroke-opacity="0.9"/>
<line x1="793.6" y1="197.4" x2="830.2" y2="280.4" stroke="#adc63a" stroke-width="0.9" stroke-dasharray="1.3 1.1" stroke-opacity="0.9"/>
<line x1="781.5" y1="212.3" x2="830.2" y2="280.4" stroke="#adc63a" stroke-width="0.9" stroke-dasharray="1.3 1.1" stroke-opacity="0.9"/>
<line x1="802.3" y1="222.6" x2="853.2" y2="273.2" stroke="#adc63a" stroke-width="0.9" stroke-dasharray="1.3 1.1" stroke-opacity="0.9"/>
<line x1="802.3" y1="222.6" x2="861.6" y2="261.3" stroke="#adc63a" stroke-width="0.9" stroke-dasharray="1.3 1.1" stroke-opacity="0.9"/>
<line x1="861.6" y1="261.3" x2="902.4" y2="263.1" stroke="#adc63a" stroke-width="0.9" stroke-dasharray="1.3 1.1" stroke-opacity="0.9"/>
<line x1="861.6" y1="261.3" x2="830.2" y2="280.4" stroke="#adc63a" stroke-width="0.9" stroke-dasharray="1.3 1.1" stroke-opacity="0.9"/>
<line x1="785.4" y1="49.0" x2="789.4" y2="81.7" stroke="#8436a0" stroke-width="0.95" stroke-dasharray="1.2 1.0"/>
<line x1="786.2" y1="49.0" x2="790.2" y2="81.7" stroke="#adc63a" stroke-width="0.9"/>
<line x1="754.4" y1="92.6" x2="742.4" y2="131.9" stroke="#adc63a" stroke-width="1.0" stroke-opacity="0.92"/>
<line x1="842.2" y1="149.8" x2="875.4" y2="209.9" stroke="#8436a0" stroke-width="0.95" stroke-dasharray="1.2 1.0"/>
<line x1="842.9" y1="149.4" x2="876.1" y2="209.5" stroke="#adc63a" stroke-width="0.7" stroke-dasharray="1.2 1.0"/>
<line x1="813.1" y1="69.6" x2="789.7" y2="121.5" stroke="#8436a0" stroke-width="0.95" stroke-dasharray="1.2 1.0"/>
<line x1="813.8" y1="69.9" x2="790.4" y2="121.8" stroke="#adc63a" stroke-width="0.7" stroke-dasharray="1.2 1.0"/>
<line x1="867.1" y1="80.6" x2="893.9" y2="128.4" stroke="#8436a0" stroke-width="0.95" stroke-dasharray="1.2 1.0"/>
<line x1="867.8" y1="80.2" x2="894.6" y2="128.0" stroke="#adc63a" stroke-width="0.7" stroke-dasharray="1.2 1.0"/>
<line x1="866.1" y1="102.9" x2="840.8" y2="134.8" stroke="#8436a0" stroke-width="0.95" stroke-dasharray="1.2 1.0"/>
<line x1="866.8" y1="103.4" x2="841.5" y2="135.3" stroke="#adc63a" stroke-width="0.7" stroke-dasharray="1.2 1.0"/>
<line x1="901.6" y1="189.6" x2="854.2" y2="204.3" stroke="#8436a0" stroke-width="0.95" stroke-dasharray="1.2 1.0"/>
<line x1="901.8" y1="190.3" x2="854.4" y2="205.0" stroke="#adc63a" stroke-width="0.7" stroke-dasharray="1.2 1.0"/>
<line x1="882.8" y1="164.6" x2="875.4" y2="209.6" stroke="#8436a0" stroke-width="0.95" stroke-dasharray="1.2 1.0"/>
<line x1="883.5" y1="164.8" x2="876.1" y2="209.8" stroke="#adc63a" stroke-width="0.7" stroke-dasharray="1.2 1.0"/>
<line x1="799.1" y1="166.0" x2="842.6" y2="149.9" stroke="#8436a0" stroke-width="0.95" stroke-dasharray="1.2 1.0"/>
<line x1="798.8" y1="165.3" x2="842.3" y2="149.2" stroke="#adc63a" stroke-width="0.7" stroke-dasharray="1.2 1.0"/>
<line x1="770.3" y1="173.7" x2="814.9" y2="139.4" stroke="#8436a0" stroke-width="0.95" stroke-dasharray="1.2 1.0"/>
<line x1="769.8" y1="173.0" x2="814.4" y2="138.7" stroke="#adc63a" stroke-width="0.7" stroke-dasharray="1.2 1.0"/>
<line x1="882.8" y1="164.5" x2="854.0" y2="204.4" stroke="#8436a0" stroke-width="0.95" stroke-dasharray="1.2 1.0"/>
<line x1="883.5" y1="165.0" x2="854.7" y2="204.9" stroke="#adc63a" stroke-width="0.7" stroke-dasharray="1.2 1.0"/>
<line x1="813.3" y1="69.4" x2="789.7" y2="81.4" stroke="#8436a0" stroke-width="0.7"/>
<line x1="813.5" y1="70.0" x2="789.9" y2="82.0" stroke="#adc63a" stroke-width="0.7"/>
<line x1="754.1" y1="92.7" x2="761.1" y2="113.1" stroke="#8436a0" stroke-width="0.7"/>
<line x1="754.7" y1="92.5" x2="761.7" y2="112.9" stroke="#adc63a" stroke-width="0.7"/>
<line x1="740.3" y1="202.9" x2="749.5" y2="219.3" stroke="#8436a0" stroke-width="0.7"/>
<line x1="740.9" y1="202.7" x2="750.1" y2="219.1" stroke="#adc63a" stroke-width="0.7"/>
<line x1="867.2" y1="80.2" x2="830.0" y2="125.5" stroke="#8436a0" stroke-width="0.7"/>
<line x1="867.6" y1="80.6" x2="830.4" y2="125.9" stroke="#adc63a" stroke-width="0.7"/>
<line x1="793.9" y1="197.5" x2="815.0" y2="139.2" stroke="#8436a0" stroke-width="0.7"/>
<line x1="793.3" y1="197.3" x2="814.4" y2="139.0" stroke="#adc63a" stroke-width="0.7"/>
<line x1="740.3" y1="158.4" x2="769.9" y2="173.8" stroke="#2aa9c2" stroke-width="0.9"/>
<line x1="740.7" y1="157.6" x2="770.3" y2="173.0" stroke="#adc63a" stroke-width="0.9"/>
<line x1="904.9" y1="110.8" x2="941.0" y2="145.7" stroke="#2aa9c2" stroke-width="0.9"/>
<line x1="905.5" y1="110.1" x2="941.6" y2="145.0" stroke="#adc63a" stroke-width="0.9"/>
<line x1="904.7" y1="110.4" x2="908.7" y2="170.6" stroke="#2aa9c2" stroke-width="0.9"/>
<line x1="905.6" y1="110.4" x2="909.6" y2="170.6" stroke="#adc63a" stroke-width="0.9"/>
<line x1="941.0" y1="144.9" x2="908.9" y2="170.2" stroke="#2aa9c2" stroke-width="0.9"/>
<line x1="941.5" y1="145.6" x2="909.4" y2="170.9" stroke="#adc63a" stroke-width="0.9"/>
<line x1="942.3" y1="144.9" x2="959.9" y2="186.1" stroke="#adc63a" stroke-width="0.8"/>
<line x1="941.7" y1="145.1" x2="959.3" y2="186.3" stroke="#2aa9c2" stroke-width="0.8"/>
<line x1="941.0" y1="145.4" x2="958.6" y2="186.6" stroke="#8436a0" stroke-width="0.8"/>
<line x1="940.3" y1="145.7" x2="957.9" y2="186.9" stroke="#2e2e30" stroke-width="0.6"/>
<line x1="942.1" y1="146.0" x2="902.5" y2="190.6" stroke="#adc63a" stroke-width="0.8"/>
<line x1="941.6" y1="145.6" x2="902.0" y2="190.2" stroke="#2aa9c2" stroke-width="0.8"/>
<line x1="941.0" y1="145.1" x2="901.4" y2="189.7" stroke="#8436a0" stroke-width="0.8"/>
<line x1="940.5" y1="144.6" x2="900.9" y2="189.2" stroke="#2e2e30" stroke-width="0.6"/>
<line x1="894.1" y1="128.5" x2="941.2" y2="145.6" stroke="#2aa9c2" stroke-width="0.9" stroke-dasharray="1.2 1.0"/>
<line x1="894.3" y1="127.9" x2="941.4" y2="145.0" stroke="#8436a0" stroke-width="0.8" stroke-dasharray="1.2 1.0"/>
<line x1="893.9" y1="128.3" x2="908.9" y2="170.7" stroke="#2aa9c2" stroke-width="0.9" stroke-dasharray="1.2 1.0"/>
<line x1="894.5" y1="128.1" x2="909.5" y2="170.5" stroke="#8436a0" stroke-width="0.8" stroke-dasharray="1.2 1.0"/>
<line x1="728.7" y1="183.7" x2="770.3" y2="174.1" stroke="#2aa9c2" stroke-width="0.8"/>
<line x1="728.5" y1="183.0" x2="770.1" y2="173.4" stroke="#4f5d22" stroke-width="0.8"/>
<line x1="728.3" y1="182.3" x2="769.9" y2="172.7" stroke="#adc63a" stroke-width="0.8"/>
<line x1="904.6" y1="110.1" x2="882.5" y2="164.4" stroke="#2aa9c2" stroke-width="0.8"/>
<line x1="905.2" y1="110.4" x2="883.1" y2="164.7" stroke="#4f5d22" stroke-width="0.8"/>
<line x1="905.8" y1="110.7" x2="883.7" y2="165.0" stroke="#adc63a" stroke-width="0.8"/>
<line x1="941.1" y1="144.6" x2="882.9" y2="164.0" stroke="#2aa9c2" stroke-width="0.8"/>
<line x1="941.3" y1="145.3" x2="883.1" y2="164.7" stroke="#4f5d22" stroke-width="0.8"/>
<line x1="941.5" y1="146.0" x2="883.3" y2="165.4" stroke="#adc63a" stroke-width="0.8"/>
<line x1="941.0" y1="145.3" x2="941.1" y2="202.9" stroke="#8436a0" stroke-width="0.7"/>
<line x1="941.6" y1="145.3" x2="941.7" y2="202.9" stroke="#adc63a" stroke-width="0.7"/>
<line x1="754.4" y1="92.6" x2="742.4" y2="131.9" stroke="#3c3c3c" stroke-width="1.0" stroke-dasharray="1.2 1.0"/>
<line x1="740.5" y1="158.0" x2="740.6" y2="202.8" stroke="#3c3c3c" stroke-width="1.0" stroke-dasharray="1.2 1.0"/>
<line x1="740.6" y1="202.8" x2="737.4" y2="248.4" stroke="#3c3c3c" stroke-width="1.0" stroke-dasharray="1.2 1.0"/>
<line x1="737.4" y1="248.4" x2="778.1" y2="240.1" stroke="#3c3c3c" stroke-width="1.0" stroke-dasharray="1.2 1.0"/>
<line x1="867.8" y1="230.1" x2="941.4" y2="202.9" stroke="#3c3c3c" stroke-width="1.0" stroke-dasharray="1.2 1.0"/>
<line x1="754.4" y1="92.6" x2="790.0" y2="121.6" stroke="#3c3c3c" stroke-width="1.0" stroke-dasharray="1.2 1.0"/>
<line x1="831.2" y1="186.8" x2="883.1" y2="164.7" stroke="#3c3c3c" stroke-width="1.0" stroke-dasharray="1.2 1.0"/>
<line x1="823.0" y1="203.2" x2="883.1" y2="164.7" stroke="#3c3c3c" stroke-width="1.0" stroke-dasharray="1.2 1.0"/>
<line x1="866.4" y1="103.1" x2="830.2" y2="125.7" stroke="#3c3c3c" stroke-width="1.0" stroke-dasharray="1.2 1.0"/>
<line x1="790.7" y1="81.7" x2="790.9" y2="121.6" stroke="#adc63a" stroke-width="0.8" stroke-dasharray="1.2 1.0"/>
<line x1="790.1" y1="81.7" x2="790.3" y2="121.6" stroke="#2aa9c2" stroke-width="0.9" stroke-dasharray="1.2 1.0"/>
<line x1="789.4" y1="81.7" x2="789.6" y2="121.6" stroke="#8436a0" stroke-width="0.9" stroke-dasharray="1.2 1.0"/>
<line x1="788.8" y1="81.7" x2="789.0" y2="121.6" stroke="#2e2e30" stroke-width="0.6" stroke-dasharray="1.2 1.0"/>
<line x1="790.5" y1="81.1" x2="830.9" y2="125.1" stroke="#adc63a" stroke-width="0.8" stroke-dasharray="1.2 1.0"/>
<line x1="790.0" y1="81.5" x2="830.4" y2="125.5" stroke="#2aa9c2" stroke-width="0.9" stroke-dasharray="1.2 1.0"/>
<line x1="789.5" y1="82.0" x2="829.9" y2="126.0" stroke="#8436a0" stroke-width="0.9" stroke-dasharray="1.2 1.0"/>
<line x1="789.1" y1="82.4" x2="829.5" y2="126.4" stroke="#2e2e30" stroke-width="0.6" stroke-dasharray="1.2 1.0"/>
<line x1="790.4" y1="81.1" x2="841.7" y2="134.4" stroke="#adc63a" stroke-width="0.8" stroke-dasharray="1.2 1.0"/>
<line x1="790.0" y1="81.5" x2="841.3" y2="134.8" stroke="#2aa9c2" stroke-width="0.9" stroke-dasharray="1.2 1.0"/>
<line x1="789.5" y1="82.0" x2="840.8" y2="135.3" stroke="#8436a0" stroke-width="0.9" stroke-dasharray="1.2 1.0"/>
<line x1="789.1" y1="82.4" x2="840.4" y2="135.7" stroke="#2e2e30" stroke-width="0.6" stroke-dasharray="1.2 1.0"/>
<line x1="771.8" y1="143.1" x2="740.3" y2="202.6" stroke="#adc63a" stroke-width="0.8"/>
<line x1="772.4" y1="143.5" x2="740.9" y2="203.0" stroke="#4f5d22" stroke-width="0.9"/>
<line x1="789.7" y1="121.5" x2="749.5" y2="219.1" stroke="#adc63a" stroke-width="0.8"/>
<line x1="790.3" y1="121.7" x2="750.1" y2="219.3" stroke="#4f5d22" stroke-width="0.9"/>
<line x1="828.0" y1="99.7" x2="789.8" y2="121.3" stroke="#adc63a" stroke-width="0.8"/>
<line x1="828.4" y1="100.3" x2="790.2" y2="121.9" stroke="#4f5d22" stroke-width="0.9"/>
<line x1="822.8" y1="202.9" x2="714.4" y2="277.9" stroke="#adc63a" stroke-width="0.8"/>
<line x1="823.2" y1="203.5" x2="714.8" y2="278.5" stroke="#4f5d22" stroke-width="0.9"/>
<line x1="822.8" y1="203.5" x2="867.6" y2="230.4" stroke="#adc63a" stroke-width="0.8"/>
<line x1="823.2" y1="202.9" x2="868.0" y2="229.8" stroke="#4f5d22" stroke-width="0.9"/>
<line x1="822.7" y1="203.3" x2="852.9" y2="273.3" stroke="#adc63a" stroke-width="0.8"/>
<line x1="823.3" y1="203.1" x2="853.5" y2="273.1" stroke="#4f5d22" stroke-width="0.9"/>
<line x1="822.7" y1="203.2" x2="829.9" y2="280.4" stroke="#adc63a" stroke-width="0.8"/>
<line x1="823.3" y1="203.2" x2="830.5" y2="280.4" stroke="#4f5d22" stroke-width="0.9"/>
<line x1="822.7" y1="203.2" x2="825.6" y2="303.0" stroke="#adc63a" stroke-width="0.8"/>
<line x1="823.3" y1="203.2" x2="826.2" y2="303.0" stroke="#4f5d22" stroke-width="0.9"/>
<line x1="823.3" y1="203.4" x2="831.5" y2="187.0" stroke="#adc63a" stroke-width="0.8"/>
<line x1="822.7" y1="203.0" x2="830.9" y2="186.6" stroke="#4f5d22" stroke-width="0.9"/>
<line x1="796.8" y1="266.8" x2="830.1" y2="280.7" stroke="#adc63a" stroke-width="0.8"/>
<line x1="797.0" y1="266.2" x2="830.3" y2="280.1" stroke="#4f5d22" stroke-width="0.9"/>
<line x1="901.4" y1="190.1" x2="928.0" y2="221.6" stroke="#adc63a" stroke-width="0.8"/>
<line x1="902.0" y1="189.7" x2="928.6" y2="221.2" stroke="#4f5d22" stroke-width="0.9"/>
<line x1="958.8" y1="186.8" x2="992.9" y2="193.8" stroke="#adc63a" stroke-width="0.8"/>
<line x1="959.0" y1="186.2" x2="993.1" y2="193.2" stroke="#4f5d22" stroke-width="0.9"/>
<line x1="875.4" y1="209.6" x2="867.5" y2="230.0" stroke="#adc63a" stroke-width="0.8"/>
<line x1="876.0" y1="209.8" x2="868.1" y2="230.2" stroke="#4f5d22" stroke-width="0.9"/>
<line x1="771.8" y1="143.3" x2="769.8" y2="173.4" stroke="#adc63a" stroke-width="0.8"/>
<line x1="772.4" y1="143.3" x2="770.4" y2="173.4" stroke="#4f5d22" stroke-width="0.9"/>
<line x1="822.8" y1="202.9" x2="802.1" y2="222.3" stroke="#adc63a" stroke-width="0.8"/>
<line x1="823.2" y1="203.5" x2="802.5" y2="222.9" stroke="#4f5d22" stroke-width="0.9"/>
<line x1="772.1" y1="143.8" x2="814.7" y2="139.6" stroke="#adc63a" stroke-width="0.8"/>
<line x1="772.1" y1="143.0" x2="814.7" y2="138.8" stroke="#4f5d22" stroke-width="1.2"/>
<line x1="772.1" y1="143.6" x2="841.1" y2="135.3" stroke="#adc63a" stroke-width="0.8"/>
<line x1="772.1" y1="143.0" x2="841.1" y2="134.7" stroke="#4f5d22" stroke-width="0.9"/>
<line x1="842.9" y1="148.6" x2="883.5" y2="163.7" stroke="#adc63a" stroke-width="0.8"/>
<line x1="842.6" y1="149.2" x2="883.2" y2="164.3" stroke="#2aa9c2" stroke-width="0.8"/>
<line x1="842.4" y1="149.9" x2="883.0" y2="165.0" stroke="#8436a0" stroke-width="0.8"/>
<line x1="842.1" y1="150.6" x2="882.7" y2="165.7" stroke="#2e2e30" stroke-width="0.6"/>
<line x1="884.9" y1="46.9" x2="868.4" y2="80.9" stroke="#adc63a" stroke-width="0.8"/>
<line x1="884.3" y1="46.6" x2="867.8" y2="80.6" stroke="#2aa9c2" stroke-width="0.8"/>
<line x1="883.6" y1="46.2" x2="867.1" y2="80.2" stroke="#8436a0" stroke-width="0.8"/>
<line x1="883.0" y1="45.9" x2="866.5" y2="79.9" stroke="#2e2e30" stroke-width="0.6"/>
<line x1="910.0" y1="86.3" x2="942.2" y2="81.5" stroke="#adc63a" stroke-width="0.8"/>
<line x1="910.1" y1="87.0" x2="942.3" y2="82.2" stroke="#2aa9c2" stroke-width="0.8"/>
<line x1="910.3" y1="87.7" x2="942.5" y2="82.9" stroke="#8436a0" stroke-width="0.8"/>
<line x1="910.4" y1="88.4" x2="942.6" y2="83.6" stroke="#2e2e30" stroke-width="0.6"/>
<line x1="790.8" y1="81.3" x2="815.7" y2="138.7" stroke="#adc63a" stroke-width="0.8"/>
<line x1="790.2" y1="81.5" x2="815.1" y2="138.9" stroke="#2aa9c2" stroke-width="0.8"/>
<line x1="789.5" y1="81.8" x2="814.4" y2="139.2" stroke="#8436a0" stroke-width="0.8"/>
<line x1="788.8" y1="82.1" x2="813.7" y2="139.5" stroke="#2e2e30" stroke-width="0.6"/>
<line x1="761.7" y1="111.9" x2="790.3" y2="120.5" stroke="#adc63a" stroke-width="0.8"/>
<line x1="761.5" y1="112.6" x2="790.1" y2="121.2" stroke="#2aa9c2" stroke-width="0.8"/>
<line x1="761.3" y1="113.3" x2="789.9" y2="121.9" stroke="#8436a0" stroke-width="0.8"/>
<line x1="761.1" y1="114.0" x2="789.7" y2="122.6" stroke="#2e2e30" stroke-width="0.6"/>
<line x1="894.3" y1="129.3" x2="814.8" y2="140.2" stroke="#adc63a" stroke-width="0.8"/>
<line x1="894.3" y1="128.6" x2="814.8" y2="139.5" stroke="#2aa9c2" stroke-width="0.8"/>
<line x1="894.2" y1="127.9" x2="814.7" y2="138.8" stroke="#8436a0" stroke-width="0.8"/>
<line x1="894.1" y1="127.2" x2="814.6" y2="138.1" stroke="#2e2e30" stroke-width="0.6"/>
<line x1="792.8" y1="196.6" x2="841.7" y2="148.8" stroke="#adc63a" stroke-width="0.8"/>
<line x1="793.3" y1="197.1" x2="842.2" y2="149.3" stroke="#2aa9c2" stroke-width="0.8"/>
<line x1="793.8" y1="197.7" x2="842.7" y2="149.9" stroke="#8436a0" stroke-width="0.8"/>
<line x1="794.3" y1="198.2" x2="843.2" y2="150.4" stroke="#2e2e30" stroke-width="0.6"/>
<line x1="868.9" y1="230.3" x2="862.7" y2="261.5" stroke="#adc63a" stroke-width="0.8"/>
<line x1="868.2" y1="230.2" x2="862.0" y2="261.4" stroke="#2aa9c2" stroke-width="0.8"/>
<line x1="867.5" y1="230.0" x2="861.3" y2="261.2" stroke="#8436a0" stroke-width="0.8"/>
<line x1="866.8" y1="229.9" x2="860.6" y2="261.1" stroke="#2e2e30" stroke-width="0.6"/>
<line x1="861.8" y1="260.2" x2="882.4" y2="263.5" stroke="#adc63a" stroke-width="0.8"/>
<line x1="861.7" y1="260.9" x2="882.3" y2="264.2" stroke="#2aa9c2" stroke-width="0.8"/>
<line x1="861.5" y1="261.6" x2="882.1" y2="264.9" stroke="#8436a0" stroke-width="0.8"/>
<line x1="861.4" y1="262.3" x2="882.0" y2="265.6" stroke="#2e2e30" stroke-width="0.6"/>
<line x1="883.7" y1="163.8" x2="942.0" y2="202.0" stroke="#adc63a" stroke-width="0.8"/>
<line x1="883.3" y1="164.4" x2="941.6" y2="202.6" stroke="#2aa9c2" stroke-width="0.8"/>
<line x1="882.9" y1="165.0" x2="941.2" y2="203.2" stroke="#8436a0" stroke-width="0.8"/>
<line x1="882.5" y1="165.6" x2="940.8" y2="203.8" stroke="#2e2e30" stroke-width="0.6"/>
<line x1="910.0" y1="169.8" x2="942.2" y2="202.1" stroke="#adc63a" stroke-width="0.8"/>
<line x1="909.5" y1="170.3" x2="941.7" y2="202.6" stroke="#2aa9c2" stroke-width="0.8"/>
<line x1="909.0" y1="170.8" x2="941.2" y2="203.1" stroke="#8436a0" stroke-width="0.8"/>
<line x1="908.5" y1="171.3" x2="940.7" y2="203.6" stroke="#2e2e30" stroke-width="0.6"/>
<line x1="902.7" y1="189.6" x2="907.6" y2="204.7" stroke="#adc63a" stroke-width="0.8"/>
<line x1="902.1" y1="189.8" x2="907.0" y2="204.9" stroke="#2aa9c2" stroke-width="0.8"/>
<line x1="901.4" y1="190.0" x2="906.3" y2="205.1" stroke="#8436a0" stroke-width="0.8"/>
<line x1="900.7" y1="190.2" x2="905.6" y2="205.3" stroke="#2e2e30" stroke-width="0.6"/>
<line x1="884.1" y1="164.1" x2="907.6" y2="204.4" stroke="#adc63a" stroke-width="0.8"/>
<line x1="883.4" y1="164.5" x2="906.9" y2="204.8" stroke="#2aa9c2" stroke-width="0.8"/>
<line x1="882.8" y1="164.9" x2="906.3" y2="205.2" stroke="#8436a0" stroke-width="0.8"/>
<line x1="882.2" y1="165.2" x2="905.7" y2="205.5" stroke="#2e2e30" stroke-width="0.6"/>
<line x1="790.6" y1="120.7" x2="815.3" y2="138.2" stroke="#adc63a" stroke-width="0.8"/>
<line x1="790.2" y1="121.3" x2="814.9" y2="138.8" stroke="#2aa9c2" stroke-width="0.8"/>
<line x1="789.8" y1="121.9" x2="814.5" y2="139.4" stroke="#8436a0" stroke-width="0.8"/>
<line x1="789.4" y1="122.5" x2="814.1" y2="140.0" stroke="#2e2e30" stroke-width="0.6"/>
<line x1="762.0" y1="111.7" x2="815.3" y2="137.8" stroke="#adc63a" stroke-width="0.8"/>
<line x1="761.7" y1="112.4" x2="815.0" y2="138.5" stroke="#2aa9c2" stroke-width="0.8"/>
<line x1="761.4" y1="113.0" x2="814.7" y2="139.1" stroke="#4a56b5" stroke-width="0.8"/>
<line x1="761.1" y1="113.6" x2="814.4" y2="139.7" stroke="#8436a0" stroke-width="0.8"/>
<line x1="760.8" y1="114.2" x2="814.1" y2="140.3" stroke="#2e2e30" stroke-width="0.55"/>
<line x1="815.2" y1="137.8" x2="843.0" y2="148.3" stroke="#adc63a" stroke-width="0.8"/>
<line x1="814.9" y1="138.4" x2="842.7" y2="148.9" stroke="#2aa9c2" stroke-width="0.8"/>
<line x1="814.7" y1="139.1" x2="842.5" y2="149.6" stroke="#4a56b5" stroke-width="0.8"/>
<line x1="814.5" y1="139.8" x2="842.3" y2="150.3" stroke="#8436a0" stroke-width="0.8"/>
<line x1="814.2" y1="140.4" x2="842.0" y2="150.9" stroke="#2e2e30" stroke-width="0.55"/>
<line x1="883.4" y1="163.3" x2="909.5" y2="169.2" stroke="#adc63a" stroke-width="0.8"/>
<line x1="883.3" y1="164.0" x2="909.4" y2="169.9" stroke="#2aa9c2" stroke-width="0.8"/>
<line x1="883.1" y1="164.7" x2="909.2" y2="170.6" stroke="#4a56b5" stroke-width="0.8"/>
<line x1="882.9" y1="165.4" x2="909.0" y2="171.3" stroke="#8436a0" stroke-width="0.8"/>
<line x1="882.8" y1="166.0" x2="908.9" y2="171.9" stroke="#2e2e30" stroke-width="0.55"/>
<line x1="883.5" y1="163.4" x2="959.3" y2="185.2" stroke="#adc63a" stroke-width="0.8"/>
<line x1="883.3" y1="164.0" x2="959.1" y2="185.8" stroke="#2aa9c2" stroke-width="0.8"/>
<line x1="883.1" y1="164.7" x2="958.9" y2="186.5" stroke="#4a56b5" stroke-width="0.8"/>
<line x1="882.9" y1="165.4" x2="958.7" y2="187.2" stroke="#8436a0" stroke-width="0.8"/>
<line x1="882.7" y1="166.0" x2="958.5" y2="187.8" stroke="#2e2e30" stroke-width="0.55"/>
<line x1="909.6" y1="169.3" x2="959.3" y2="185.2" stroke="#adc63a" stroke-width="0.8"/>
<line x1="909.4" y1="169.9" x2="959.1" y2="185.8" stroke="#2aa9c2" stroke-width="0.8"/>
<line x1="909.2" y1="170.6" x2="958.9" y2="186.5" stroke="#4a56b5" stroke-width="0.8"/>
<line x1="909.0" y1="171.3" x2="958.7" y2="187.2" stroke="#8436a0" stroke-width="0.8"/>
<line x1="908.8" y1="171.9" x2="958.5" y2="187.8" stroke="#2e2e30" stroke-width="0.55"/>
<line x1="884.2" y1="163.9" x2="902.8" y2="189.1" stroke="#adc63a" stroke-width="0.8"/>
<line x1="883.7" y1="164.3" x2="902.3" y2="189.5" stroke="#2aa9c2" stroke-width="0.8"/>
<line x1="883.1" y1="164.7" x2="901.7" y2="189.9" stroke="#4a56b5" stroke-width="0.8"/>
<line x1="882.5" y1="165.1" x2="901.1" y2="190.3" stroke="#8436a0" stroke-width="0.8"/>
<line x1="882.0" y1="165.5" x2="900.6" y2="190.7" stroke="#2e2e30" stroke-width="0.55"/>
<line x1="910.5" y1="171.1" x2="903.0" y2="190.4" stroke="#adc63a" stroke-width="0.8"/>
<line x1="909.9" y1="170.9" x2="902.4" y2="190.2" stroke="#2aa9c2" stroke-width="0.8"/>
<line x1="909.2" y1="170.6" x2="901.7" y2="189.9" stroke="#4a56b5" stroke-width="0.8"/>
<line x1="908.5" y1="170.3" x2="901.0" y2="189.6" stroke="#8436a0" stroke-width="0.8"/>
<line x1="907.9" y1="170.1" x2="900.4" y2="189.4" stroke="#2e2e30" stroke-width="0.55"/>
<line x1="902.1" y1="188.6" x2="941.8" y2="201.6" stroke="#adc63a" stroke-width="0.8"/>
<line x1="901.9" y1="189.2" x2="941.6" y2="202.2" stroke="#2aa9c2" stroke-width="0.8"/>
<line x1="901.7" y1="189.9" x2="941.4" y2="202.9" stroke="#4a56b5" stroke-width="0.8"/>
<line x1="901.5" y1="190.6" x2="941.2" y2="203.6" stroke="#8436a0" stroke-width="0.8"/>
<line x1="901.3" y1="191.2" x2="941.0" y2="204.2" stroke="#2e2e30" stroke-width="0.55"/>
<line x1="940.4" y1="201.9" x2="957.9" y2="185.5" stroke="#adc63a" stroke-width="0.8"/>
<line x1="940.9" y1="202.4" x2="958.4" y2="186.0" stroke="#2aa9c2" stroke-width="0.8"/>
<line x1="941.4" y1="202.9" x2="958.9" y2="186.5" stroke="#4a56b5" stroke-width="0.8"/>
<line x1="941.9" y1="203.4" x2="959.4" y2="187.0" stroke="#8436a0" stroke-width="0.8"/>
<line x1="942.3" y1="203.9" x2="959.8" y2="187.5" stroke="#2e2e30" stroke-width="0.55"/>
<line x1="803.7" y1="222.8" x2="798.3" y2="266.7" stroke="#adc63a" stroke-width="0.8"/>
<line x1="803.0" y1="222.7" x2="797.6" y2="266.6" stroke="#2aa9c2" stroke-width="0.8"/>
<line x1="802.3" y1="222.6" x2="796.9" y2="266.5" stroke="#4a56b5" stroke-width="0.8"/>
<line x1="801.6" y1="222.5" x2="796.2" y2="266.4" stroke="#8436a0" stroke-width="0.8"/>
<line x1="801.0" y1="222.4" x2="795.6" y2="266.3" stroke="#2e2e30" stroke-width="0.55"/>
<line x1="853.6" y1="274.5" x2="830.6" y2="281.7" stroke="#adc63a" stroke-width="0.8"/>
<line x1="853.4" y1="273.9" x2="830.4" y2="281.1" stroke="#2aa9c2" stroke-width="0.8"/>
<line x1="853.2" y1="273.2" x2="830.2" y2="280.4" stroke="#4a56b5" stroke-width="0.8"/>
<line x1="853.0" y1="272.5" x2="830.0" y2="279.7" stroke="#8436a0" stroke-width="0.8"/>
<line x1="852.8" y1="271.9" x2="829.8" y2="279.1" stroke="#2e2e30" stroke-width="0.55"/>
<line x1="901.7" y1="189.3" x2="958.9" y2="185.9" stroke="#2aa9c2" stroke-width="0.7"/>
<line x1="901.7" y1="189.9" x2="958.9" y2="186.5" stroke="#4a56b5" stroke-width="1.1"/>
<line x1="901.7" y1="190.5" x2="958.9" y2="187.1" stroke="#8436a0" stroke-width="0.7"/>
<line x1="682.7" y1="109.6" x2="715.4" y2="122.9" stroke="#adc63a" stroke-width="0.8"/>
<line x1="682.4" y1="110.3" x2="715.1" y2="123.6" stroke="#d9534a" stroke-width="0.6"/>
<line x1="682.1" y1="110.9" x2="714.8" y2="124.2" stroke="#4a56b5" stroke-width="0.9"/>
<line x1="681.9" y1="111.6" x2="714.6" y2="124.9" stroke="#2e2e30" stroke-width="0.8"/>
<line x1="681.6" y1="112.2" x2="714.3" y2="125.5" stroke="#2aa9c2" stroke-width="0.8"/>
<defs><radialGradient id="nr" cx="0.5" cy="0.45" r="0.6"><stop offset="0" stop-color="#f59ea2"/><stop offset="0.7" stop-color="#ef858a"/><stop offset="1" stop-color="#e06e76"/></radialGradient><radialGradient id="ng" cx="0.5" cy="0.45" r="0.6"><stop offset="0" stop-color="#d4ecc4"/><stop offset="0.7" stop-color="#c0e0aa"/><stop offset="1" stop-color="#a6d090"/></radialGradient><radialGradient id="nb" cx="0.5" cy="0.45" r="0.6"><stop offset="0" stop-color="#93d0de"/><stop offset="0.7" stop-color="#7bc3d4"/><stop offset="1" stop-color="#5fb0c4"/></radialGradient></defs>
<circle cx="785.8" cy="49.0" r="5.4" fill="url(#nr)" stroke="#a84a54" stroke-width="0.9"/>
<path d="M784.2 49.6 l1.2 -1.2 l1 0.8 l1.2 -0.9" fill="none" stroke="#b0506a" stroke-width="0.6"/>
<circle cx="742.1" cy="70.5" r="5.4" fill="url(#nr)" stroke="#a84a54" stroke-width="0.9"/>
<path d="M740.5 71.1 l1.2 -1.2 l1 0.8 l1.2 -0.9" fill="none" stroke="#b0506a" stroke-width="0.6"/>
<circle cx="813.4" cy="69.7" r="3.3" fill="url(#nr)" stroke="#a84a54" stroke-width="0.9"/>
<circle cx="789.8" cy="81.7" r="3.3" fill="url(#nr)" stroke="#a84a54" stroke-width="0.9"/>
<circle cx="754.4" cy="92.6" r="5.4" fill="url(#nr)" stroke="#a84a54" stroke-width="0.9"/>
<path d="M752.8 93.2 l1.2 -1.2 l1 0.8 l1.2 -0.9" fill="none" stroke="#b0506a" stroke-width="0.6"/>
<circle cx="828.2" cy="100.0" r="5.5" fill="url(#nr)" stroke="#a84a54" stroke-width="0.9"/>
<path d="M826.6 100.6 l1.2 -1.2 l1 0.8 l1.2 -0.9" fill="none" stroke="#b0506a" stroke-width="0.6"/>
<circle cx="682.1" cy="111.0" r="5.5" fill="url(#nr)" stroke="#a84a54" stroke-width="0.9"/>
<path d="M680.5 111.6 l1.2 -1.2 l1 0.8 l1.2 -0.9" fill="none" stroke="#b0506a" stroke-width="0.6"/>
<circle cx="761.4" cy="113.0" r="5.4" fill="url(#nr)" stroke="#a84a54" stroke-width="0.9"/>
<path d="M759.8 113.6 l1.2 -1.2 l1 0.8 l1.2 -0.9" fill="none" stroke="#b0506a" stroke-width="0.6"/>
<circle cx="714.8" cy="124.3" r="3.2" fill="url(#nr)" stroke="#a84a54" stroke-width="0.9"/>
<circle cx="790.0" cy="121.6" r="6.8" fill="url(#ng)" stroke="#6f9e60" stroke-width="0.9"/>
<path d="M788.4 122.2 l1.2 -1.2 l1 0.8 l1.2 -0.9" fill="none" stroke="#6aa860" stroke-width="0.6"/>
<circle cx="742.4" cy="131.9" r="5.6" fill="url(#ng)" stroke="#6f9e60" stroke-width="0.9"/>
<path d="M740.8 132.5 l1.2 -1.2 l1 0.8 l1.2 -0.9" fill="none" stroke="#6aa860" stroke-width="0.6"/>
<circle cx="830.2" cy="125.7" r="5.5" fill="url(#nr)" stroke="#a84a54" stroke-width="0.9"/>
<path d="M828.6 126.3 l1.2 -1.2 l1 0.8 l1.2 -0.9" fill="none" stroke="#b0506a" stroke-width="0.6"/>
<circle cx="841.1" cy="135.0" r="3.2" fill="url(#nr)" stroke="#a84a54" stroke-width="0.9"/>
<circle cx="772.1" cy="143.3" r="5.5" fill="url(#nr)" stroke="#a84a54" stroke-width="0.9"/>
<path d="M770.5 143.9 l1.2 -1.2 l1 0.8 l1.2 -0.9" fill="none" stroke="#b0506a" stroke-width="0.6"/>
<circle cx="814.7" cy="139.1" r="3.3" fill="url(#nr)" stroke="#a84a54" stroke-width="0.9"/>
<circle cx="842.5" cy="149.6" r="8.0" fill="url(#nr)" stroke="#a84a54" stroke-width="0.9"/>
<path d="M840.9 150.2 l1.2 -1.2 l1 0.8 l1.2 -0.9" fill="none" stroke="#b0506a" stroke-width="0.6"/>
<circle cx="740.5" cy="158.0" r="7.9" fill="url(#ng)" stroke="#6f9e60" stroke-width="0.9"/>
<path d="M738.9 158.6 l1.2 -1.2 l1 0.8 l1.2 -0.9" fill="none" stroke="#6aa860" stroke-width="0.6"/>
<circle cx="799.0" cy="165.7" r="3.2" fill="url(#nr)" stroke="#a84a54" stroke-width="0.9"/>
<circle cx="770.1" cy="173.4" r="3.0" fill="url(#ng)" stroke="#6f9e60" stroke-width="0.9"/>
<circle cx="883.9" cy="46.4" r="8.2" fill="url(#nb)" stroke="#357f94" stroke-width="0.9"/>
<path d="M882.3 47.0 l1.2 -1.2 l1 0.8 l1.2 -0.9" fill="none" stroke="#3f7fa8" stroke-width="0.6"/>
<circle cx="867.4" cy="80.4" r="5.4" fill="url(#nb)" stroke="#357f94" stroke-width="0.9"/>
<path d="M865.8 81.0 l1.2 -1.2 l1 0.8 l1.2 -0.9" fill="none" stroke="#3f7fa8" stroke-width="0.6"/>
<circle cx="910.2" cy="87.4" r="3.1" fill="url(#nb)" stroke="#357f94" stroke-width="0.9"/>
<circle cx="942.4" cy="82.6" r="5.3" fill="url(#nb)" stroke="#357f94" stroke-width="0.9"/>
<path d="M940.8 83.2 l1.2 -1.2 l1 0.8 l1.2 -0.9" fill="none" stroke="#3f7fa8" stroke-width="0.6"/>
<circle cx="866.4" cy="103.1" r="3.2" fill="url(#nb)" stroke="#357f94" stroke-width="0.9"/>
<circle cx="905.2" cy="110.4" r="5.5" fill="url(#nb)" stroke="#357f94" stroke-width="0.9"/>
<path d="M903.6 111.0 l1.2 -1.2 l1 0.8 l1.2 -0.9" fill="none" stroke="#3f7fa8" stroke-width="0.6"/>
<circle cx="894.2" cy="128.2" r="3.3" fill="url(#nr)" stroke="#a84a54" stroke-width="0.9"/>
<circle cx="941.3" cy="145.3" r="5.3" fill="url(#nb)" stroke="#357f94" stroke-width="0.9"/>
<path d="M939.7 145.9 l1.2 -1.2 l1 0.8 l1.2 -0.9" fill="none" stroke="#3f7fa8" stroke-width="0.6"/>
<circle cx="883.1" cy="164.7" r="5.5" fill="url(#nb)" stroke="#357f94" stroke-width="0.9"/>
<path d="M881.5 165.3 l1.2 -1.2 l1 0.8 l1.2 -0.9" fill="none" stroke="#3f7fa8" stroke-width="0.6"/>
<circle cx="909.2" cy="170.6" r="3.3" fill="url(#nb)" stroke="#357f94" stroke-width="0.9"/>
<circle cx="728.5" cy="183.0" r="3.2" fill="url(#ng)" stroke="#6f9e60" stroke-width="0.9"/>
<circle cx="831.2" cy="186.8" r="3.2" fill="url(#nr)" stroke="#a84a54" stroke-width="0.9"/>
<circle cx="793.6" cy="197.4" r="5.5" fill="url(#nr)" stroke="#a84a54" stroke-width="0.9"/>
<path d="M792.0 198.0 l1.2 -1.2 l1 0.8 l1.2 -0.9" fill="none" stroke="#b0506a" stroke-width="0.6"/>
<circle cx="740.6" cy="202.8" r="5.5" fill="url(#nr)" stroke="#a84a54" stroke-width="0.9"/>
<path d="M739.0 203.4 l1.2 -1.2 l1 0.8 l1.2 -0.9" fill="none" stroke="#b0506a" stroke-width="0.6"/>
<circle cx="823.0" cy="203.2" r="5.6" fill="url(#ng)" stroke="#6f9e60" stroke-width="0.9"/>
<path d="M821.4 203.8 l1.2 -1.2 l1 0.8 l1.2 -0.9" fill="none" stroke="#6aa860" stroke-width="0.6"/>
<circle cx="781.5" cy="212.3" r="3.3" fill="url(#nr)" stroke="#a84a54" stroke-width="0.9"/>
<circle cx="749.8" cy="219.2" r="3.2" fill="url(#nr)" stroke="#a84a54" stroke-width="0.9"/>
<circle cx="802.3" cy="222.6" r="3.2" fill="url(#ng)" stroke="#6f9e60" stroke-width="0.9"/>
<circle cx="778.1" cy="240.1" r="3.2" fill="url(#nr)" stroke="#a84a54" stroke-width="0.9"/>
<circle cx="737.4" cy="248.4" r="5.6" fill="url(#ng)" stroke="#6f9e60" stroke-width="0.9"/>
<path d="M735.8 249.0 l1.2 -1.2 l1 0.8 l1.2 -0.9" fill="none" stroke="#6aa860" stroke-width="0.6"/>
<circle cx="771.6" cy="261.7" r="3.0" fill="url(#ng)" stroke="#6f9e60" stroke-width="0.9"/>
<circle cx="796.9" cy="266.5" r="3.0" fill="url(#ng)" stroke="#6f9e60" stroke-width="0.9"/>
<circle cx="714.6" cy="278.2" r="3.2" fill="url(#ng)" stroke="#6f9e60" stroke-width="0.9"/>
<circle cx="732.3" cy="283.5" r="5.6" fill="url(#ng)" stroke="#6f9e60" stroke-width="0.9"/>
<path d="M730.7 284.1 l1.2 -1.2 l1 0.8 l1.2 -0.9" fill="none" stroke="#6aa860" stroke-width="0.6"/>
<circle cx="830.2" cy="280.4" r="3.0" fill="url(#ng)" stroke="#6f9e60" stroke-width="0.9"/>
<circle cx="807.2" cy="295.1" r="3.3" fill="url(#nr)" stroke="#a84a54" stroke-width="0.9"/>
<circle cx="825.9" cy="303.0" r="3.0" fill="url(#ng)" stroke="#6f9e60" stroke-width="0.9"/>
<circle cx="901.7" cy="189.9" r="5.5" fill="url(#nb)" stroke="#357f94" stroke-width="0.9"/>
<path d="M900.1 190.5 l1.2 -1.2 l1 0.8 l1.2 -0.9" fill="none" stroke="#3f7fa8" stroke-width="0.6"/>
<circle cx="958.9" cy="186.5" r="3.2" fill="url(#nb)" stroke="#357f94" stroke-width="0.9"/>
<circle cx="993.0" cy="193.5" r="8.0" fill="url(#nb)" stroke="#357f94" stroke-width="0.9"/>
<path d="M991.4 194.1 l1.2 -1.2 l1 0.8 l1.2 -0.9" fill="none" stroke="#3f7fa8" stroke-width="0.6"/>
<circle cx="941.4" cy="202.9" r="3.2" fill="url(#nb)" stroke="#357f94" stroke-width="0.9"/>
<circle cx="906.6" cy="205.0" r="3.0" fill="url(#ng)" stroke="#6f9e60" stroke-width="0.9"/>
<circle cx="854.3" cy="204.6" r="3.0" fill="url(#ng)" stroke="#6f9e60" stroke-width="0.9"/>
<circle cx="875.7" cy="209.7" r="3.0" fill="url(#ng)" stroke="#6f9e60" stroke-width="0.9"/>
<circle cx="928.3" cy="221.4" r="5.5" fill="url(#nb)" stroke="#357f94" stroke-width="0.9"/>
<path d="M926.7 222.0 l1.2 -1.2 l1 0.8 l1.2 -0.9" fill="none" stroke="#3f7fa8" stroke-width="0.6"/>
<circle cx="867.8" cy="230.1" r="8.0" fill="url(#ng)" stroke="#6f9e60" stroke-width="0.9"/>
<path d="M866.2 230.7 l1.2 -1.2 l1 0.8 l1.2 -0.9" fill="none" stroke="#6aa860" stroke-width="0.6"/>
<circle cx="887.5" cy="231.5" r="3.0" fill="url(#ng)" stroke="#6f9e60" stroke-width="0.9"/>
<circle cx="861.6" cy="261.3" r="2.7" fill="url(#ng)" stroke="#6f9e60" stroke-width="0.9"/>
<circle cx="882.2" cy="264.6" r="3.0" fill="url(#ng)" stroke="#6f9e60" stroke-width="0.9"/>
<circle cx="902.4" cy="263.1" r="5.5" fill="url(#nr)" stroke="#a84a54" stroke-width="0.9"/>
<path d="M900.8 263.7 l1.2 -1.2 l1 0.8 l1.2 -0.9" fill="none" stroke="#b0506a" stroke-width="0.6"/>
<circle cx="853.2" cy="273.2" r="5.5" fill="url(#ng)" stroke="#6f9e60" stroke-width="0.9"/>
<path d="M851.6 273.8 l1.2 -1.2 l1 0.8 l1.2 -0.9" fill="none" stroke="#6aa860" stroke-width="0.6"/>
<text x="791.1" y="44.2" font-size="8.7" fill="#0c0c0c" stroke="#0c0c0c" stroke-width="0.25">KRP7</text>
<text x="747.1" y="66.5" font-size="8.7" fill="#0c0c0c" stroke="#0c0c0c" stroke-width="0.25">ATHB52</text>
<text x="819.0" y="65.5" font-size="8.7" fill="#0c0c0c" stroke="#0c0c0c" stroke-width="0.25">KRP3</text>
<text x="795.2" y="76.8" font-size="8.7" fill="#0c0c0c" stroke="#0c0c0c" stroke-width="0.25">CDKA-1</text>
<text x="760.1" y="88.2" font-size="8.7" fill="#0c0c0c" stroke="#0c0c0c" stroke-width="0.25">SPCH</text>
<text x="833.4" y="95.4" font-size="8.7" fill="#0c0c0c" stroke="#0c0c0c" stroke-width="0.25">ARF16</text>
<text x="687.1" y="106.4" font-size="8.7" fill="#0c0c0c" stroke="#0c0c0c" stroke-width="0.25">PAT1</text>
<text x="766.7" y="108.2" font-size="8.7" fill="#0c0c0c" stroke="#0c0c0c" stroke-width="0.25">BIN2</text>
<text x="720.2" y="119.8" font-size="8.7" fill="#0c0c0c" stroke="#0c0c0c" stroke-width="0.25">ASB1</text>
<text x="795.2" y="118.1" font-size="8.7" fill="#0c0c0c" stroke="#0c0c0c" stroke-width="0.25">CYCD3</text>
<text x="747.7" y="127.4" font-size="8.7" fill="#0c0c0c" stroke="#0c0c0c" stroke-width="0.25">HEC1</text>
<text x="835.5" y="121.9" font-size="8.7" fill="#0c0c0c" stroke="#0c0c0c" stroke-width="0.25">LBD18</text>
<text x="846.6" y="129.5" font-size="8.7" fill="#0c0c0c" stroke="#0c0c0c" stroke-width="0.25">ARF10</text>
<text x="778.0" y="138.8" font-size="8.7" fill="#0c0c0c" stroke="#0c0c0c" stroke-width="0.25">PIN3</text>
<text x="819.4" y="134.7" font-size="8.7" fill="#0c0c0c" stroke="#0c0c0c" stroke-width="0.25">ARF19</text>
<text x="847.7" y="143.3" font-size="8.7" fill="#0c0c0c" stroke="#0c0c0c" stroke-width="0.25">LBD16</text>
<text x="734.2" y="149.8" font-size="8.7" fill="#0c0c0c" stroke="#0c0c0c" stroke-width="0.25">AHP6</text>
<text x="804.5" y="160.5" font-size="8.7" fill="#0c0c0c" stroke="#0c0c0c" stroke-width="0.25">WOX4</text>
<text x="763.6" y="170.2" font-size="8.7" fill="#0c0c0c" stroke="#0c0c0c" stroke-width="0.25">AHK4</text>
<text x="889.7" y="41.7" font-size="8.7" fill="#0c0c0c" stroke="#0c0c0c" stroke-width="0.25">PRC1</text>
<text x="874.2" y="78.9" font-size="8.7" fill="#0c0c0c" stroke="#0c0c0c" stroke-width="0.25">AtBZIP59</text>
<text x="915.9" y="83.0" font-size="8.7" fill="#0c0c0c" stroke="#0c0c0c" stroke-width="0.25">BAM8</text>
<text x="947.6" y="78.3" font-size="8.7" fill="#0c0c0c" stroke="#0c0c0c" stroke-width="0.25">BAM7</text>
<text x="871.5" y="98.5" font-size="8.7" fill="#0c0c0c" stroke="#0c0c0c" stroke-width="0.25">DCL1</text>
<text x="910.8" y="105.7" font-size="8.7" fill="#0c0c0c" stroke="#0c0c0c" stroke-width="0.25">CMT3</text>
<text x="894.7" y="124.3" font-size="8.7" fill="#0c0c0c" stroke="#0c0c0c" stroke-width="0.25">GCN5</text>
<text x="946.5" y="140.9" font-size="8.7" fill="#0c0c0c" stroke="#0c0c0c" stroke-width="0.25">ATXR3</text>
<text x="888.7" y="159.9" font-size="8.7" fill="#0c0c0c" stroke="#0c0c0c" stroke-width="0.25">CLF</text>
<text x="908.7" y="167.7" font-size="8.7" fill="#0c0c0c" stroke="#0c0c0c" stroke-width="0.25">SWN</text>
<text x="729.7" y="180.6" font-size="8.7" fill="#0c0c0c" stroke="#0c0c0c" stroke-width="0.25">CKX5</text>
<text x="836.5" y="182.0" font-size="8.7" fill="#0c0c0c" stroke="#0c0c0c" stroke-width="0.25">WOX5</text>
<text x="799.3" y="192.4" font-size="8.7" fill="#0c0c0c" stroke="#0c0c0c" stroke-width="0.25">PLT3</text>
<text x="746.6" y="198.1" font-size="8.7" fill="#0c0c0c" stroke="#0c0c0c" stroke-width="0.25">SHR</text>
<text x="828.3" y="198.6" font-size="8.7" fill="#0c0c0c" stroke="#0c0c0c" stroke-width="0.25">WUS</text>
<text x="781.8" y="208.5" font-size="8.7" fill="#0c0c0c" stroke="#0c0c0c" stroke-width="0.25">CLE40</text>
<text x="750.8" y="216.1" font-size="8.7" fill="#0c0c0c" stroke="#0c0c0c" stroke-width="0.25">SCR</text>
<text x="802.8" y="218.2" font-size="8.7" fill="#0c0c0c" stroke="#0c0c0c" stroke-width="0.25">CLV1</text>
<text x="778.7" y="235.1" font-size="8.7" fill="#0c0c0c" stroke="#0c0c0c" stroke-width="0.25">PLT2</text>
<text x="743.1" y="243.6" font-size="8.7" fill="#0c0c0c" stroke="#0c0c0c" stroke-width="0.25">PIN1</text>
<text x="772.1" y="256.8" font-size="8.7" fill="#0c0c0c" stroke="#0c0c0c" stroke-width="0.25">CLE2</text>
<text x="798.7" y="263.0" font-size="8.7" fill="#0c0c0c" stroke="#0c0c0c" stroke-width="0.25">CRN</text>
<text x="717.7" y="275.4" font-size="8.7" fill="#0c0c0c" stroke="#0c0c0c" stroke-width="0.25">LAS</text>
<text x="738.0" y="283.7" font-size="8.7" fill="#0c0c0c" stroke="#0c0c0c" stroke-width="0.25">RAP2.6L</text>
<text x="835.9" y="283.7" font-size="8.7" fill="#0c0c0c" stroke="#0c0c0c" stroke-width="0.25">STM</text>
<text x="794.5" y="306.2" font-size="8.7" fill="#0c0c0c" stroke="#0c0c0c" stroke-width="0.25">PSK5</text>
<text x="830.4" y="306.7" font-size="8.7" fill="#0c0c0c" stroke="#0c0c0c" stroke-width="0.25">PAN</text>
<text x="907.7" y="185.1" font-size="8.7" fill="#0c0c0c" stroke="#0c0c0c" stroke-width="0.25">EMF2</text>
<text x="964.5" y="181.7" font-size="8.7" fill="#0c0c0c" stroke="#0c0c0c" stroke-width="0.25">VRN2</text>
<text x="971.7" y="210.5" font-size="8.7" fill="#0c0c0c" stroke="#0c0c0c" stroke-width="0.25">SUF4</text>
<text x="946.5" y="197.5" font-size="8.7" fill="#0c0c0c" stroke="#0c0c0c" stroke-width="0.25">FIE</text>
<text x="912.4" y="200.6" font-size="8.7" fill="#0c0c0c" stroke="#0c0c0c" stroke-width="0.25">FAS1</text>
<text x="860.2" y="199.6" font-size="8.7" fill="#0c0c0c" stroke="#0c0c0c" stroke-width="0.25">AS2</text>
<text x="873.6" y="206.4" font-size="8.7" fill="#0c0c0c" stroke="#0c0c0c" stroke-width="0.25">AGL15</text>
<text x="934.5" y="217.1" font-size="8.7" fill="#0c0c0c" stroke="#0c0c0c" stroke-width="0.25">VAL2</text>
<text x="873.0" y="224.8" font-size="8.7" fill="#0c0c0c" stroke="#0c0c0c" stroke-width="0.25">LEC1</text>
<text x="894.9" y="234.7" font-size="8.7" fill="#0c0c0c" stroke="#0c0c0c" stroke-width="0.25">FUS3</text>
<text x="862.6" y="256.4" font-size="8.7" fill="#0c0c0c" stroke="#0c0c0c" stroke-width="0.25">SERK1</text>
<text x="882.9" y="275.6" font-size="8.7" fill="#0c0c0c" stroke="#0c0c0c" stroke-width="0.25">RKD4</text>
<text x="911.2" y="263.6" font-size="8.7" fill="#0c0c0c" stroke="#0c0c0c" stroke-width="0.25">GL2</text>
<text x="858.7" y="271.3" font-size="8.7" fill="#0c0c0c" stroke="#0c0c0c" stroke-width="0.25">BLR</text>
<text x="678.0" y="161.4" font-size="11.8" fill="#111" stroke="#111" stroke-width="0.25">ACR Num</text>
<circle cx="686.3" cy="178.0" r="10.6" fill="#000"/>
<text x="703.0" y="182.4" font-size="11.8" fill="#111" stroke="#111" stroke-width="0.25">4</text>
<circle cx="686.3" cy="200.4" r="8.4" fill="#000"/>
<text x="703.0" y="204.7" font-size="11.8" fill="#111" stroke="#111" stroke-width="0.25">3</text>
<circle cx="686.3" cy="218.4" r="6.0" fill="#000"/>
<text x="703.0" y="223.2" font-size="11.8" fill="#111" stroke="#111" stroke-width="0.25">2</text>
<circle cx="686.3" cy="236.3" r="3.2" fill="#000"/>
<text x="703.0" y="240.5" font-size="11.8" fill="#111" stroke="#111" stroke-width="0.25">1</text>
<circle cx="746.7" cy="315.0" r="4.3" fill="#ef8a8e"/>
<text x="755.0" y="318.9" font-size="10.9" fill="#1a1a1a" stroke="#1a1a1a" stroke-width="0.25">GO:0032502 developmental process</text>
<circle cx="746.7" cy="326.9" r="4.3" fill="#7fc3d6"/>
<text x="755.0" y="330.8" font-size="10.9" fill="#1a1a1a" stroke="#1a1a1a" stroke-width="0.25">GO:0048731 system development</text>
<circle cx="746.7" cy="338.2" r="4.3" fill="#c9e3b0"/>
<text x="755.0" y="342.1" font-size="10.9" fill="#1a1a1a" stroke="#1a1a1a" stroke-width="0.25">GO:0010468 regulation of gene expression</text>
</g>
<g id="panel-d">
<text x="27.5" y="367.3" font-size="18" fill="#111">(d)</text>
<rect x="215.6" y="382.2" width="82.6" height="13.6" fill="#a6afca"/>
<rect x="298.4" y="382.2" width="124.1" height="13.6" fill="#eea2ac"/>
<text x="257.7" y="393.3" font-size="12.3" fill="#1a1a1a" text-anchor="middle" stroke="#1a1a1a" stroke-width="0.25">Promoter</text>
<text x="356.2" y="393.3" font-size="12.3" fill="#1a1a1a" text-anchor="middle" stroke="#1a1a1a" stroke-width="0.25">Coding Region</text>
<text x="18.7" y="412.7" font-size="12.5" fill="#1a1a1a" stroke="#1a1a1a" stroke-width="0.25">MO-genotype (<tspan fill="#49b1c9" stroke="#49b1c9">M</tspan>/<tspan fill="#49b1c9" stroke="#49b1c9">M</tspan>)</text>
<line x1="135.5" y1="405.0" x2="145.6" y2="405.0" stroke="#49b1c9" stroke-width="1.4"/>
<line x1="135.5" y1="414.3" x2="145.6" y2="414.3" stroke="#49b1c9" stroke-width="1.4"/>
<line x1="260.5" y1="404.6" x2="288.0" y2="404.6" stroke="#49b1c9" stroke-width="1.0"/>
<rect x="287.8" y="402.7" width="160.4" height="3.8" fill="#49b1c9"/>
<rect x="298.0" y="401.7" width="28.3" height="5.8" fill="#49b1c9" rx="0.6"/>
<rect x="335.1" y="401.7" width="7.8" height="5.8" fill="#49b1c9" rx="0.6"/>
<rect x="357.5" y="401.7" width="15.7" height="5.8" fill="#49b1c9" rx="0.6"/>
<rect x="381.0" y="401.7" width="4.9" height="5.8" fill="#49b1c9" rx="0.6"/>
<rect x="394.6" y="401.7" width="10.8" height="5.8" fill="#49b1c9" rx="0.6"/>
<rect x="412.2" y="401.7" width="8.8" height="5.8" fill="#49b1c9" rx="0.6"/>
<circle cx="301.5" cy="404.6" r="0.6" fill="#e8f6fa"/>
<circle cx="306.7" cy="404.6" r="0.6" fill="#e8f6fa"/>
<circle cx="311.9" cy="404.6" r="0.6" fill="#e8f6fa"/>
<circle cx="317.1" cy="404.6" r="0.6" fill="#e8f6fa"/>
<circle cx="322.3" cy="404.6" r="0.6" fill="#e8f6fa"/>
<circle cx="327.5" cy="404.6" r="0.6" fill="#e8f6fa"/>
<circle cx="332.7" cy="404.6" r="0.6" fill="#e8f6fa"/>
<circle cx="337.9" cy="404.6" r="0.6" fill="#e8f6fa"/>
<circle cx="343.1" cy="404.6" r="0.6" fill="#e8f6fa"/>
<circle cx="348.3" cy="404.6" r="0.6" fill="#e8f6fa"/>
<circle cx="353.5" cy="404.6" r="0.6" fill="#e8f6fa"/>
<circle cx="358.7" cy="404.6" r="0.6" fill="#e8f6fa"/>
<circle cx="363.9" cy="404.6" r="0.6" fill="#e8f6fa"/>
<circle cx="369.1" cy="404.6" r="0.6" fill="#e8f6fa"/>
<circle cx="374.3" cy="404.6" r="0.6" fill="#e8f6fa"/>
<circle cx="379.5" cy="404.6" r="0.6" fill="#e8f6fa"/>
<circle cx="384.7" cy="404.6" r="0.6" fill="#e8f6fa"/>
<circle cx="389.9" cy="404.6" r="0.6" fill="#e8f6fa"/>
<circle cx="395.1" cy="404.6" r="0.6" fill="#e8f6fa"/>
<circle cx="400.3" cy="404.6" r="0.6" fill="#e8f6fa"/>
<circle cx="405.5" cy="404.6" r="0.6" fill="#e8f6fa"/>
<circle cx="410.7" cy="404.6" r="0.6" fill="#e8f6fa"/>
<circle cx="415.9" cy="404.6" r="0.6" fill="#e8f6fa"/>
<circle cx="421.1" cy="404.6" r="0.6" fill="#e8f6fa"/>
<line x1="260.5" y1="414.1" x2="288.0" y2="414.1" stroke="#49b1c9" stroke-width="1.0"/>
<rect x="287.8" y="412.2" width="160.4" height="3.8" fill="#49b1c9"/>
<rect x="298.0" y="411.2" width="28.3" height="5.8" fill="#49b1c9" rx="0.6"/>
<rect x="335.1" y="411.2" width="7.8" height="5.8" fill="#49b1c9" rx="0.6"/>
<rect x="357.5" y="411.2" width="15.7" height="5.8" fill="#49b1c9" rx="0.6"/>
<rect x="381.0" y="411.2" width="4.9" height="5.8" fill="#49b1c9" rx="0.6"/>
<rect x="394.6" y="411.2" width="10.8" height="5.8" fill="#49b1c9" rx="0.6"/>
<rect x="412.2" y="411.2" width="8.8" height="5.8" fill="#49b1c9" rx="0.6"/>
<circle cx="301.5" cy="414.1" r="0.6" fill="#e8f6fa"/>
<circle cx="306.7" cy="414.1" r="0.6" fill="#e8f6fa"/>
<circle cx="311.9" cy="414.1" r="0.6" fill="#e8f6fa"/>
<circle cx="317.1" cy="414.1" r="0.6" fill="#e8f6fa"/>
<circle cx="322.3" cy="414.1" r="0.6" fill="#e8f6fa"/>
<circle cx="327.5" cy="414.1" r="0.6" fill="#e8f6fa"/>
<circle cx="332.7" cy="414.1" r="0.6" fill="#e8f6fa"/>
<circle cx="337.9" cy="414.1" r="0.6" fill="#e8f6fa"/>
<circle cx="343.1" cy="414.1" r="0.6" fill="#e8f6fa"/>
<circle cx="348.3" cy="414.1" r="0.6" fill="#e8f6fa"/>
<circle cx="353.5" cy="414.1" r="0.6" fill="#e8f6fa"/>
<circle cx="358.7" cy="414.1" r="0.6" fill="#e8f6fa"/>
<circle cx="363.9" cy="414.1" r="0.6" fill="#e8f6fa"/>
<circle cx="369.1" cy="414.1" r="0.6" fill="#e8f6fa"/>
<circle cx="374.3" cy="414.1" r="0.6" fill="#e8f6fa"/>
<circle cx="379.5" cy="414.1" r="0.6" fill="#e8f6fa"/>
<circle cx="384.7" cy="414.1" r="0.6" fill="#e8f6fa"/>
<circle cx="389.9" cy="414.1" r="0.6" fill="#e8f6fa"/>
<circle cx="395.1" cy="414.1" r="0.6" fill="#e8f6fa"/>
<circle cx="400.3" cy="414.1" r="0.6" fill="#e8f6fa"/>
<circle cx="405.5" cy="414.1" r="0.6" fill="#e8f6fa"/>
<circle cx="410.7" cy="414.1" r="0.6" fill="#e8f6fa"/>
<circle cx="415.9" cy="414.1" r="0.6" fill="#e8f6fa"/>
<circle cx="421.1" cy="414.1" r="0.6" fill="#e8f6fa"/>
<text x="375.9" y="433.4" font-size="12.3" fill="#111" font-style="italic" text-anchor="middle" stroke="#111" stroke-width="0.25">FhRWP</text>
<rect x="135.2" y="421.5" width="162.0" height="70.8" fill="#fff" stroke="#6a6668" stroke-width="1.0"/>
<text x="136.8" y="431.3" font-size="7.4" fill="#222" stroke="#222" stroke-width="0.25">[0 - 30]</text>
<text x="39.2" y="436.3" font-size="12.5" fill="#1a1a1a" stroke="#1a1a1a" stroke-width="0.25">ATAC-seq peaks</text>
<text x="39.2" y="462.5" font-size="12.5" fill="#1a1a1a" stroke="#1a1a1a" stroke-width="0.25">ATAC-seq reads</text>
<path d="M274.0 440.4 L274.0 440.1 L275.6 440.1 L275.6 439.9 L277.2 439.9 L277.2 439.7 L278.8 439.7 L278.8 439.7 L280.4 439.7 L280.4 439.5 L282.0 439.5 L282.0 439.4 L283.6 439.4 L283.6 439.2 L285.2 439.2 L285.2 438.8 L286.8 438.8 L286.8 438.4 L288.4 438.4 L288.4 438.0 L290.0 438.0 L290.0 437.8 L291.6 437.8 L291.6 437.2 L293.2 437.2 L293.2 437.0 L294.8 437.0 L294.8 436.5 L296.4 436.5 L296.4 436.4 L296.8 436.4 L296.8 440.4 Z" fill="#a7a7aa"/>
<path d="M239 440.4 L296.8 440.4 L296.8 456.6 L291.5 456.6 L291.5 454 L287 454 L287 450.8 L283 450.8 L283 447.4 L279.5 447.4 L279.5 444.1 L260.5 444.1 L260.5 441.7 L239 441.7 Z" fill="#c6c6c8"/>
<line x1="135.6" y1="440.4" x2="296.8" y2="440.4" stroke="#8f8f92" stroke-width="0.8"/>
<rect x="238.8" y="440.3" width="1.8" height="1.7" fill="#3a3fb0"/>
<rect x="284.6" y="438.0" width="1.1" height="2.2" fill="#d9605c"/>
<rect x="135.6" y="438.6" width="1.2" height="1.8" fill="#2f8f3f"/>
<rect x="136.4" y="439.2" width="6.0" height="1.0" fill="#a7a7aa"/>
<rect x="136.3" y="473.1" width="10.8" height="2.2" fill="#c6c6c8"/>
<rect x="136.3" y="479.3" width="6.7" height="2.2" fill="#c6c6c8"/>
<line x1="268.1" y1="488.4" x2="296.0" y2="488.4" stroke="#222" stroke-width="1.3"/>
<text x="284.2" y="486.9" font-size="7.4" fill="#222" text-anchor="middle" stroke="#222" stroke-width="0.25">50 bp</text>
<rect x="298.3" y="492.4" width="162.0" height="70.9" fill="#fff" stroke="#6a6668" stroke-width="1.0"/>
<text x="300.2" y="500.2" font-size="7.4" fill="#222" stroke="#222" stroke-width="0.25">[0 - 80]</text>
<text x="292.7" y="509.3" font-size="12.5" fill="#1a1a1a" text-anchor="end" stroke="#1a1a1a" stroke-width="0.25">RNA-seq peaks</text>
<text x="292.4" y="537.4" font-size="12.5" fill="#1a1a1a" text-anchor="end" stroke="#1a1a1a" stroke-width="0.25">RNA-seq reads</text>
<line x1="298.8" y1="510.4" x2="460.0" y2="510.4" stroke="#8f8f92" stroke-width="0.8"/>
<rect x="314.0" y="515.6" width="7.0" height="0.8" fill="#c9c9cb"/>
<rect x="336.0" y="513.8" width="2.0" height="0.8" fill="#c9c9cb"/>
<rect x="338.0" y="514.2" width="10.0" height="0.8" fill="#c9c9cb"/>
<rect x="347.0" y="515.6" width="6.5" height="0.8" fill="#c9c9cb"/>
<rect x="365.0" y="514.1" width="11.0" height="0.8" fill="#cfd6da"/>
<rect x="369.0" y="515.6" width="7.0" height="0.8" fill="#cfd6da"/>
<rect x="376.0" y="514.2" width="13.0" height="0.8" fill="#cfd6da"/>
<rect x="388.0" y="515.9" width="13.0" height="0.8" fill="#cfd6da"/>
<rect x="395.0" y="517.2" width="6.0" height="0.8" fill="#cfd6da"/>
<rect x="404.0" y="514.1" width="10.0" height="0.8" fill="#c9c9cb"/>
<rect x="410.0" y="515.6" width="4.0" height="0.8" fill="#c9c9cb"/>
<rect x="411.0" y="517.1" width="3.5" height="0.8" fill="#cfd6da"/>
<rect x="412.0" y="518.8" width="7.5" height="0.8" fill="#cfd6da"/>
<rect x="413.0" y="520.2" width="7.0" height="0.8" fill="#c9c9cb"/>
<rect x="417.0" y="514.1" width="6.0" height="0.8" fill="#cfd6da"/>
<rect x="419.0" y="517.2" width="6.5" height="0.8" fill="#c9c9cb"/>
<rect x="420.0" y="518.8" width="6.0" height="0.8" fill="#cfd6da"/>
<rect x="435.0" y="514.4" width="7.0" height="0.8" fill="#cfd6da"/>
<rect x="336.5" y="513.9" width="1.5" height="1.2" fill="#e06a6a"/>
<rect x="436.0" y="514.3" width="1.3" height="1.2" fill="#5fae5f"/>
<rect x="439.0" y="514.3" width="1.3" height="1.2" fill="#e06a6a"/>
<rect x="441.0" y="514.3" width="1.2" height="1.2" fill="#5a6ad0"/>
<line x1="439.1" y1="560.0" x2="450.7" y2="560.0" stroke="#222" stroke-width="1.3"/>
<text x="446.2" y="558.1" font-size="7.4" fill="#222" text-anchor="middle" stroke="#222" stroke-width="0.25">200 bp</text>
<text x="23.0" y="584.9" font-size="12.5" fill="#1a1a1a" stroke="#1a1a1a" stroke-width="0.25">PO-genotype (<tspan fill="#e8605a" stroke="#e8605a">P</tspan>/<tspan fill="#49b1c9" stroke="#49b1c9">M</tspan>)</text>
<line x1="134.8" y1="572.8" x2="145.2" y2="572.8" stroke="#49b1c9" stroke-width="1.4"/>
<line x1="134.8" y1="584.0" x2="145.4" y2="584.0" stroke="#e8605a" stroke-width="1.5"/>
<line x1="145.2" y1="584.0" x2="260.3" y2="584.0" stroke="#5f78b0" stroke-width="1.9"/>
<text x="204.4" y="581.4" font-size="12.5" fill="#1a1a1a" text-anchor="middle" stroke="#1a1a1a" stroke-width="0.25">MITE</text>
<line x1="260.3" y1="572.5" x2="288.0" y2="572.5" stroke="#49b1c9" stroke-width="1.0"/>
<rect x="287.8" y="570.6" width="160.4" height="3.8" fill="#49b1c9"/>
<rect x="298.0" y="569.6" width="28.3" height="5.8" fill="#49b1c9" rx="0.6"/>
<rect x="335.1" y="569.6" width="7.8" height="5.8" fill="#49b1c9" rx="0.6"/>
<rect x="357.5" y="569.6" width="15.7" height="5.8" fill="#49b1c9" rx="0.6"/>
<rect x="381.0" y="569.6" width="4.9" height="5.8" fill="#49b1c9" rx="0.6"/>
<rect x="394.6" y="569.6" width="10.8" height="5.8" fill="#49b1c9" rx="0.6"/>
<rect x="412.2" y="569.6" width="8.8" height="5.8" fill="#49b1c9" rx="0.6"/>
<circle cx="301.5" cy="572.5" r="0.6" fill="#e8f6fa"/>
<circle cx="306.7" cy="572.5" r="0.6" fill="#e8f6fa"/>
<circle cx="311.9" cy="572.5" r="0.6" fill="#e8f6fa"/>
<circle cx="317.1" cy="572.5" r="0.6" fill="#e8f6fa"/>
<circle cx="322.3" cy="572.5" r="0.6" fill="#e8f6fa"/>
<circle cx="327.5" cy="572.5" r="0.6" fill="#e8f6fa"/>
<circle cx="332.7" cy="572.5" r="0.6" fill="#e8f6fa"/>
<circle cx="337.9" cy="572.5" r="0.6" fill="#e8f6fa"/>
<circle cx="343.1" cy="572.5" r="0.6" fill="#e8f6fa"/>
<circle cx="348.3" cy="572.5" r="0.6" fill="#e8f6fa"/>
<circle cx="353.5" cy="572.5" r="0.6" fill="#e8f6fa"/>
<circle cx="358.7" cy="572.5" r="0.6" fill="#e8f6fa"/>
<circle cx="363.9" cy="572.5" r="0.6" fill="#e8f6fa"/>
<circle cx="369.1" cy="572.5" r="0.6" fill="#e8f6fa"/>
<circle cx="374.3" cy="572.5" r="0.6" fill="#e8f6fa"/>
<circle cx="379.5" cy="572.5" r="0.6" fill="#e8f6fa"/>
<circle cx="384.7" cy="572.5" r="0.6" fill="#e8f6fa"/>
<circle cx="389.9" cy="572.5" r="0.6" fill="#e8f6fa"/>
<circle cx="395.1" cy="572.5" r="0.6" fill="#e8f6fa"/>
<circle cx="400.3" cy="572.5" r="0.6" fill="#e8f6fa"/>
<circle cx="405.5" cy="572.5" r="0.6" fill="#e8f6fa"/>
<circle cx="410.7" cy="572.5" r="0.6" fill="#e8f6fa"/>
<circle cx="415.9" cy="572.5" r="0.6" fill="#e8f6fa"/>
<circle cx="421.1" cy="572.5" r="0.6" fill="#e8f6fa"/>
<line x1="260.3" y1="583.9" x2="288.0" y2="583.9" stroke="#df5145" stroke-width="1.0"/>
<rect x="287.8" y="582.0" width="160.4" height="3.8" fill="#df5145"/>
<rect x="298.0" y="581.0" width="28.3" height="5.8" fill="#df5145" rx="0.6"/>
<rect x="335.1" y="581.0" width="7.8" height="5.8" fill="#df5145" rx="0.6"/>
<rect x="357.5" y="581.0" width="15.7" height="5.8" fill="#df5145" rx="0.6"/>
<rect x="381.0" y="581.0" width="4.9" height="5.8" fill="#df5145" rx="0.6"/>
<rect x="394.6" y="581.0" width="10.8" height="5.8" fill="#df5145" rx="0.6"/>
<rect x="412.2" y="581.0" width="8.8" height="5.8" fill="#df5145" rx="0.6"/>
<circle cx="301.5" cy="583.9" r="0.6" fill="#fbe5e2"/>
<circle cx="306.7" cy="583.9" r="0.6" fill="#fbe5e2"/>
<circle cx="311.9" cy="583.9" r="0.6" fill="#fbe5e2"/>
<circle cx="317.1" cy="583.9" r="0.6" fill="#fbe5e2"/>
<circle cx="322.3" cy="583.9" r="0.6" fill="#fbe5e2"/>
<circle cx="327.5" cy="583.9" r="0.6" fill="#fbe5e2"/>
<circle cx="332.7" cy="583.9" r="0.6" fill="#fbe5e2"/>
<circle cx="337.9" cy="583.9" r="0.6" fill="#fbe5e2"/>
<circle cx="343.1" cy="583.9" r="0.6" fill="#fbe5e2"/>
<circle cx="348.3" cy="583.9" r="0.6" fill="#fbe5e2"/>
<circle cx="353.5" cy="583.9" r="0.6" fill="#fbe5e2"/>
<circle cx="358.7" cy="583.9" r="0.6" fill="#fbe5e2"/>
<circle cx="363.9" cy="583.9" r="0.6" fill="#fbe5e2"/>
<circle cx="369.1" cy="583.9" r="0.6" fill="#fbe5e2"/>
<circle cx="374.3" cy="583.9" r="0.6" fill="#fbe5e2"/>
<circle cx="379.5" cy="583.9" r="0.6" fill="#fbe5e2"/>
<circle cx="384.7" cy="583.9" r="0.6" fill="#fbe5e2"/>
<circle cx="389.9" cy="583.9" r="0.6" fill="#fbe5e2"/>
<circle cx="395.1" cy="583.9" r="0.6" fill="#fbe5e2"/>
<circle cx="400.3" cy="583.9" r="0.6" fill="#fbe5e2"/>
<circle cx="405.5" cy="583.9" r="0.6" fill="#fbe5e2"/>
<circle cx="410.7" cy="583.9" r="0.6" fill="#fbe5e2"/>
<circle cx="415.9" cy="583.9" r="0.6" fill="#fbe5e2"/>
<circle cx="421.1" cy="583.9" r="0.6" fill="#fbe5e2"/>
<text x="374.6" y="603.8" font-size="12.3" fill="#111" font-style="italic" text-anchor="middle" stroke="#111" stroke-width="0.25">FhRWP</text>
<rect x="134.6" y="592.2" width="162.6" height="79.2" fill="#fff" stroke="#6a6668" stroke-width="1.0"/>
<text x="39.0" y="605.3" font-size="12.5" fill="#1a1a1a" stroke="#1a1a1a" stroke-width="0.25">ATAC-seq peaks</text>
<text x="39.0" y="631.1" font-size="12.5" fill="#1a1a1a" stroke="#1a1a1a" stroke-width="0.25">ATAC-seq reads</text>
<path d="M135.1 609.7 L135.1 624.3 L135.5 624.3 L135.5 624.3 L135.9 624.3 L135.9 624.3 L136.3 624.3 L136.3 624.3 L136.7 624.3 L136.7 624.4 L137.1 624.4 L137.1 624.4 L137.5 624.4 L137.5 624.4 L137.9 624.4 L137.9 624.4 L138.3 624.4 L138.3 624.4 L138.7 624.4 L138.7 624.4 L139.1 624.4 L139.1 624.4 L139.5 624.4 L139.5 624.5 L139.9 624.5 L139.9 624.5 L140.3 624.5 L140.3 624.5 L140.7 624.5 L140.7 624.5 L141.1 624.5 L141.1 625.5 L141.5 625.5 L141.5 629.7 L141.9 629.7 L141.9 629.7 L142.3 629.7 L142.3 629.7 L142.7 629.7 L142.7 629.7 L143.1 629.7 L143.1 629.7 L143.5 629.7 L143.5 629.7 L143.9 629.7 L143.9 629.7 L144.3 629.7 L144.3 629.7 L144.7 629.7 L144.7 629.7 L145.1 629.7 L145.1 629.7 L145.5 629.7 L145.5 629.7 L145.9 629.7 L145.9 629.7 L146.3 629.7 L146.3 629.7 L146.7 629.7 L146.7 629.7 L147.1 629.7 L147.1 629.7 L147.5 629.7 L147.5 629.7 L147.9 629.7 L147.9 629.7 L148.3 629.7 L148.3 629.7 L148.7 629.7 L148.7 629.7 L149.1 629.7 L149.1 629.7 L149.5 629.7 L149.5 629.7 L149.9 629.7 L149.9 629.7 L150.3 629.7 L150.3 629.7 L150.7 629.7 L150.7 629.7 L151.1 629.7 L151.1 629.7 L151.5 629.7 L151.5 629.7 L151.9 629.7 L151.9 629.7 L152.3 629.7 L152.3 629.7 L152.7 629.7 L152.7 629.7 L153.1 629.7 L153.1 629.7 L153.5 629.7 L153.5 629.7 L153.9 629.7 L153.9 629.7 L154.3 629.7 L154.3 629.7 L154.7 629.7 L154.7 629.7 L155.1 629.7 L155.1 629.7 L155.5 629.7 L155.5 629.7 L155.9 629.7 L155.9 629.7 L156.3 629.7 L156.3 629.7 L156.7 629.7 L156.7 629.7 L157.1 629.7 L157.1 629.7 L157.5 629.7 L157.5 629.7 L157.9 629.7 L157.9 629.7 L158.3 629.7 L158.3 629.7 L158.7 629.7 L158.7 629.7 L159.1 629.7 L159.1 629.7 L159.5 629.7 L159.5 629.7 L159.9 629.7 L159.9 629.7 L160.3 629.7 L160.3 629.7 L160.7 629.7 L160.7 629.7 L161.1 629.7 L161.1 629.7 L161.5 629.7 L161.5 629.7 L161.9 629.7 L161.9 629.7 L162.3 629.7 L162.3 629.7 L162.7 629.7 L162.7 629.7 L163.1 629.7 L163.1 629.7 L163.5 629.7 L163.5 629.7 L163.9 629.7 L163.9 629.7 L164.3 629.7 L164.3 629.7 L164.7 629.7 L164.7 629.7 L165.1 629.7 L165.1 629.7 L165.5 629.7 L165.5 629.7 L165.9 629.7 L165.9 629.7 L166.3 629.7 L166.3 629.7 L166.7 629.7 L166.7 629.7 L167.1 629.7 L167.1 629.7 L167.5 629.7 L167.5 629.7 L167.9 629.7 L167.9 629.7 L168.3 629.7 L168.3 629.7 L168.7 629.7 L168.7 629.7 L169.1 629.7 L169.1 629.7 L169.5 629.7 L169.5 629.7 L169.9 629.7 L169.9 629.7 L170.3 629.7 L170.3 629.7 L170.7 629.7 L170.7 629.7 L171.1 629.7 L171.1 629.7 L171.5 629.7 L171.5 629.7 L171.9 629.7 L171.9 629.7 L172.3 629.7 L172.3 629.7 L172.7 629.7 L172.7 629.7 L173.1 629.7 L173.1 629.7 L173.5 629.7 L173.5 629.7 L173.9 629.7 L173.9 629.7 L174.3 629.7 L174.3 629.7 L174.7 629.7 L174.7 629.7 L175.1 629.7 L175.1 629.7 L175.5 629.7 L175.5 629.7 L175.9 629.7 L175.9 629.7 L176.3 629.7 L176.3 629.7 L176.7 629.7 L176.7 629.7 L177.1 629.7 L177.1 629.7 L177.5 629.7 L177.5 629.7 L177.9 629.7 L177.9 629.7 L178.3 629.7 L178.3 629.7 L178.7 629.7 L178.7 629.7 L179.1 629.7 L179.1 630.2 L179.5 630.2 L179.5 632.3 L179.9 632.3 L179.9 632.3 L180.3 632.3 L180.3 632.3 L180.7 632.3 L180.7 632.3 L181.1 632.3 L181.1 632.3 L181.5 632.3 L181.5 632.3 L181.9 632.3 L181.9 632.3 L182.3 632.3 L182.3 632.3 L182.7 632.3 L182.7 632.3 L183.1 632.3 L183.1 632.3 L183.5 632.3 L183.5 632.3 L183.9 632.3 L183.9 632.3 L184.3 632.3 L184.3 632.3 L184.7 632.3 L184.7 632.3 L185.1 632.3 L185.1 632.3 L185.5 632.3 L185.5 632.3 L185.9 632.3 L185.9 632.3 L186.3 632.3 L186.3 632.3 L186.7 632.3 L186.7 632.3 L187.1 632.3 L187.1 632.3 L187.5 632.3 L187.5 632.3 L187.9 632.3 L187.9 632.3 L188.3 632.3 L188.3 632.3 L188.7 632.3 L188.7 632.3 L189.1 632.3 L189.1 632.3 L189.5 632.3 L189.5 632.3 L189.9 632.3 L189.9 632.3 L190.3 632.3 L190.3 632.3 L190.7 632.3 L190.7 632.3 L191.1 632.3 L191.1 632.3 L191.5 632.3 L191.5 632.3 L191.9 632.3 L191.9 632.3 L192.3 632.3 L192.3 632.3 L192.7 632.3 L192.7 632.3 L193.1 632.3 L193.1 632.3 L193.5 632.3 L193.5 632.3 L193.9 632.3 L193.9 632.3 L194.3 632.3 L194.3 632.3 L194.7 632.3 L194.7 632.3 L195.1 632.3 L195.1 632.3 L195.5 632.3 L195.5 632.3 L195.9 632.3 L195.9 632.3 L196.3 632.3 L196.3 632.3 L196.7 632.3 L196.7 632.3 L197.1 632.3 L197.1 632.3 L197.5 632.3 L197.5 632.3 L197.9 632.3 L197.9 632.3 L198.3 632.3 L198.3 632.3 L198.7 632.3 L198.7 632.3 L199.1 632.3 L199.1 632.3 L199.5 632.3 L199.5 632.3 L199.9 632.3 L199.9 632.3 L200.3 632.3 L200.3 632.3 L200.7 632.3 L200.7 632.3 L201.1 632.3 L201.1 632.3 L201.5 632.3 L201.5 632.3 L201.9 632.3 L201.9 632.3 L202.3 632.3 L202.3 632.3 L202.7 632.3 L202.7 632.3 L203.1 632.3 L203.1 632.3 L203.5 632.3 L203.5 632.3 L203.9 632.3 L203.9 632.3 L204.3 632.3 L204.3 632.3 L204.7 632.3 L204.7 632.3 L205.1 632.3 L205.1 632.3 L205.5 632.3 L205.5 632.3 L205.9 632.3 L205.9 632.3 L206.3 632.3 L206.3 632.3 L206.7 632.3 L206.7 632.3 L207.1 632.3 L207.1 632.3 L207.5 632.3 L207.5 632.3 L207.9 632.3 L207.9 632.3 L208.3 632.3 L208.3 632.3 L208.7 632.3 L208.7 632.3 L209.1 632.3 L209.1 632.3 L209.5 632.3 L209.5 632.3 L209.9 632.3 L209.9 632.3 L210.3 632.3 L210.3 632.3 L210.7 632.3 L210.7 632.3 L211.1 632.3 L211.1 631.4 L211.5 631.4 L211.5 627.9 L211.9 627.9 L211.9 627.9 L212.3 627.9 L212.3 627.9 L212.7 627.9 L212.7 627.9 L213.1 627.9 L213.1 627.9 L213.5 627.9 L213.5 627.9 L213.9 627.9 L213.9 627.9 L214.3 627.9 L214.3 627.9 L214.7 627.9 L214.7 627.9 L215.1 627.9 L215.1 627.9 L215.5 627.9 L215.5 627.9 L215.9 627.9 L215.9 627.9 L216.3 627.9 L216.3 627.9 L216.7 627.9 L216.7 627.8 L217.1 627.8 L217.1 627.8 L217.5 627.8 L217.5 627.8 L217.9 627.8 L217.9 627.8 L218.3 627.8 L218.3 627.8 L218.7 627.8 L218.7 627.8 L219.1 627.8 L219.1 627.8 L219.5 627.8 L219.5 627.8 L219.9 627.8 L219.9 627.8 L220.3 627.8 L220.3 627.8 L220.7 627.8 L220.7 627.8 L221.1 627.8 L221.1 627.8 L221.5 627.8 L221.5 627.8 L221.9 627.8 L221.9 627.8 L222.3 627.8 L222.3 627.8 L222.7 627.8 L222.7 627.8 L223.1 627.8 L223.1 627.8 L223.5 627.8 L223.5 627.8 L223.9 627.8 L223.9 627.8 L224.3 627.8 L224.3 627.8 L224.7 627.8 L224.7 627.8 L225.1 627.8 L225.1 627.8 L225.5 627.8 L225.5 627.8 L225.9 627.8 L225.9 627.8 L226.3 627.8 L226.3 627.8 L226.7 627.8 L226.7 627.8 L227.1 627.8 L227.1 627.7 L227.5 627.7 L227.5 627.7 L227.9 627.7 L227.9 627.7 L228.3 627.7 L228.3 627.7 L228.7 627.7 L228.7 627.7 L229.1 627.7 L229.1 627.7 L229.5 627.7 L229.5 627.7 L229.9 627.7 L229.9 627.7 L230.3 627.7 L230.3 627.7 L230.7 627.7 L230.7 627.7 L231.1 627.7 L231.1 627.7 L231.5 627.7 L231.5 627.7 L231.9 627.7 L231.9 627.7 L232.3 627.7 L232.3 627.7 L232.7 627.7 L232.7 627.7 L233.1 627.7 L233.1 627.7 L233.5 627.7 L233.5 627.7 L233.9 627.7 L233.9 627.7 L234.3 627.7 L234.3 627.7 L234.7 627.7 L234.7 627.7 L235.1 627.7 L235.1 627.7 L235.5 627.7 L235.5 627.7 L235.9 627.7 L235.9 627.7 L236.3 627.7 L236.3 627.7 L236.7 627.7 L236.7 627.7 L237.1 627.7 L237.1 627.6 L237.5 627.6 L237.5 627.6 L237.9 627.6 L237.9 627.6 L238.3 627.6 L238.3 627.6 L238.7 627.6 L238.7 627.6 L239.1 627.6 L239.1 627.6 L239.5 627.6 L239.5 627.6 L239.9 627.6 L239.9 627.6 L240.3 627.6 L240.3 627.6 L240.7 627.6 L240.7 627.6 L241.1 627.6 L241.1 627.6 L241.5 627.6 L241.5 627.6 L241.9 627.6 L241.9 627.6 L242.3 627.6 L242.3 627.2 L242.7 627.2 L242.7 626.7 L243.1 626.7 L243.1 626.3 L243.5 626.3 L243.5 626.3 L243.9 626.3 L243.9 626.3 L244.3 626.3 L244.3 626.3 L244.7 626.3 L244.7 626.3 L245.1 626.3 L245.1 626.3 L245.5 626.3 L245.5 626.3 L245.9 626.3 L245.9 626.3 L246.3 626.3 L246.3 626.3 L246.7 626.3 L246.7 626.3 L247.1 626.3 L247.1 626.3 L247.5 626.3 L247.5 626.3 L247.9 626.3 L247.9 626.3 L248.3 626.3 L248.3 626.3 L248.7 626.3 L248.7 626.3 L249.1 626.3 L249.1 626.3 L249.5 626.3 L249.5 626.3 L249.9 626.3 L249.9 626.3 L250.3 626.3 L250.3 626.3 L250.7 626.3 L250.7 626.3 L251.1 626.3 L251.1 626.3 L251.5 626.3 L251.5 626.3 L251.9 626.3 L251.9 626.3 L252.3 626.3 L252.3 626.3 L252.7 626.3 L252.7 626.3 L253.1 626.3 L253.1 626.3 L253.5 626.3 L253.5 626.3 L253.9 626.3 L253.9 626.3 L254.3 626.3 L254.3 626.3 L254.7 626.3 L254.7 626.3 L255.1 626.3 L255.1 626.3 L255.5 626.3 L255.5 626.3 L255.9 626.3 L255.9 626.3 L256.3 626.3 L256.3 629.6 L256.7 629.6 L256.7 629.6 L257.1 629.6 L257.1 629.6 L257.5 629.6 L257.5 629.6 L257.9 629.6 L257.9 629.6 L258.3 629.6 L258.3 629.6 L258.7 629.6 L258.7 629.6 L259.1 629.6 L259.1 629.6 L259.5 629.6 L259.5 629.6 L259.9 629.6 L259.9 629.6 L260.3 629.6 L260.3 629.6 L260.7 629.6 L260.7 629.6 L261.1 629.6 L261.1 629.6 L261.5 629.6 L261.5 629.6 L261.9 629.6 L261.9 629.6 L262.3 629.6 L262.3 629.6 L262.7 629.6 L262.7 629.6 L263.1 629.6 L263.1 629.6 L263.5 629.6 L263.5 629.6 L263.9 629.6 L263.9 629.6 L264.3 629.6 L264.3 629.6 L264.7 629.6 L264.7 629.6 L265.1 629.6 L265.1 629.6 L265.5 629.6 L265.5 629.6 L265.9 629.6 L265.9 629.6 L266.3 629.6 L266.3 629.6 L266.7 629.6 L266.7 629.6 L267.1 629.6 L267.1 629.6 L267.5 629.6 L267.5 629.6 L267.9 629.6 L267.9 629.6 L268.3 629.6 L268.3 629.6 L268.7 629.6 L268.7 629.6 L269.1 629.6 L269.1 629.6 L269.5 629.6 L269.5 629.6 L269.9 629.6 L269.9 629.6 L270.3 629.6 L270.3 629.6 L270.7 629.6 L270.7 629.6 L271.1 629.6 L271.1 631.7 L271.5 631.7 L271.5 633.8 L271.9 633.8 L271.9 633.8 L272.3 633.8 L272.3 633.8 L272.7 633.8 L272.7 633.8 L273.1 633.8 L273.1 633.8 L273.5 633.8 L273.5 633.8 L273.9 633.8 L273.9 633.8 L274.3 633.8 L274.3 633.8 L274.7 633.8 L274.7 633.8 L275.1 633.8 L275.1 633.8 L275.5 633.8 L275.5 633.8 L275.9 633.8 L275.9 633.8 L276.3 633.8 L276.3 633.8 L276.7 633.8 L276.7 633.8 L277.1 633.8 L277.1 633.8 L277.5 633.8 L277.5 633.8 L277.9 633.8 L277.9 633.8 L278.3 633.8 L278.3 633.8 L278.7 633.8 L278.7 633.8 L279.1 633.8 L279.1 633.8 L279.5 633.8 L279.5 636.7 L279.9 636.7 L279.9 639.6 L280.3 639.6 L280.3 639.6 L280.7 639.6 L280.7 639.6 L281.1 639.6 L281.1 639.6 L281.5 639.6 L281.5 639.6 L281.9 639.6 L281.9 639.6 L282.3 639.6 L282.3 639.6 L282.7 639.6 L282.7 639.6 L283.1 639.6 L283.1 639.6 L283.5 639.6 L283.5 639.6 L283.9 639.6 L283.9 639.6 L284.3 639.6 L284.3 639.6 L284.7 639.6 L284.7 639.6 L285.1 639.6 L285.1 639.6 L285.5 639.6 L285.5 639.6 L285.9 639.6 L285.9 639.6 L286.3 639.6 L286.3 639.6 L286.7 639.6 L286.7 639.6 L287.1 639.6 L287.1 639.6 L287.5 639.6 L287.5 639.6 L287.9 639.6 L287.9 644.6 L288.3 644.6 L288.3 644.6 L288.7 644.6 L288.7 644.6 L289.1 644.6 L289.1 644.6 L289.5 644.6 L289.5 644.6 L289.9 644.6 L289.9 644.6 L290.3 644.6 L290.3 644.6 L290.7 644.6 L290.7 644.6 L291.1 644.6 L291.1 644.6 L291.5 644.6 L291.5 644.6 L291.9 644.6 L291.9 644.6 L292.3 644.6 L292.3 644.6 L292.7 644.6 L292.7 644.6 L293.1 644.6 L293.1 644.6 L293.5 644.6 L293.5 644.6 L293.9 644.6 L293.9 644.6 L294.3 644.6 L294.3 644.6 L294.7 644.6 L294.7 644.6 L295.1 644.6 L295.1 644.6 L295.5 644.6 L295.5 644.6 L295.9 644.6 L295.9 644.6 L296.3 644.6 L296.3 644.6 L296.7 644.6 L296.7 644.6 L296.8 644.6 L296.8 609.7 Z" fill="#c6c6c8"/>
<rect x="182.0" y="614.2" width="10.5" height="2.8" fill="#fff"/>
<rect x="182.0" y="618.2" width="14.0" height="2.4" fill="#fff"/>
<rect x="183.0" y="622.2" width="30.0" height="2.4" fill="#fff"/>
<rect x="196.0" y="620.0" width="37.0" height="4.8" fill="#fff"/>
<rect x="140.0" y="625.0" width="40.0" height="4.6" fill="#fff"/>
<rect x="146.0" y="622.8" width="33.0" height="2.4" fill="#fff"/>
<rect x="212.0" y="614.0" width="4.0" height="1.4" fill="#fff"/>
<rect x="216.0" y="610.2" width="5.0" height="1.4" fill="#fff"/>
<rect x="213.0" y="616.4" width="6.0" height="1.6" fill="#fff"/>
<rect x="242.0" y="616.2" width="7.0" height="3.4" fill="#fff"/>
<rect x="179.0" y="610.2" width="2.0" height="1.4" fill="#fff"/>
<rect x="146.0" y="613.5" width="2.0" height="1.9" fill="#fff"/>
<rect x="141.0" y="616.0" width="2.0" height="1.6" fill="#fff"/>
<rect x="148.0" y="620.6" width="2.0" height="1.4" fill="#fff"/>
<rect x="253.0" y="613.0" width="3.0" height="1.6" fill="#fff"/>
<rect x="286.0" y="614.6" width="2.0" height="1.4" fill="#fff"/>
<rect x="274.5" y="617.5" width="1.5" height="1.5" fill="#fff"/>
<rect x="274.0" y="623.5" width="1.5" height="1.5" fill="#fff"/>
<rect x="136.0" y="612.0" width="4.0" height="1.4" fill="#fff"/>
<rect x="136.3" y="630.0" width="5.2" height="2.0" fill="#c6c6c8"/>
<rect x="136.3" y="634.0" width="9.2" height="2.0" fill="#c6c6c8"/>
<rect x="136.3" y="637.6" width="18.7" height="2.0" fill="#c6c6c8"/>
<rect x="136.3" y="641.6" width="22.1" height="2.0" fill="#c6c6c8"/>
<rect x="136.3" y="651.4" width="5.7" height="2.0" fill="#c6c6c8"/>
<path d="M135.1 609.9 L135.1 601.0 L136.9 601.0 L136.9 601.6 L138.7 601.6 L138.7 601.8 L140.5 601.8 L140.5 601.4 L142.3 601.4 L142.3 602.6 L144.1 602.6 L144.1 603.4 L145.9 603.4 L145.9 603.8 L147.7 603.8 L147.7 603.8 L149.5 603.8 L149.5 603.3 L151.3 603.3 L151.3 603.6 L153.1 603.6 L153.1 603.1 L154.9 603.1 L154.9 603.8 L156.7 603.8 L156.7 603.8 L158.5 603.8 L158.5 603.8 L160.3 603.8 L160.3 604.2 L162.1 604.2 L162.1 604.1 L163.9 604.1 L163.9 604.3 L165.7 604.3 L165.7 604.8 L167.5 604.8 L167.5 604.2 L169.3 604.2 L169.3 604.5 L171.1 604.5 L171.1 604.7 L172.9 604.7 L172.9 604.9 L174.7 604.9 L174.7 604.4 L176.5 604.4 L176.5 604.6 L178.3 604.6 L178.3 604.3 L180.1 604.3 L180.1 604.4 L181.9 604.4 L181.9 604.2 L183.7 604.2 L183.7 604.5 L185.5 604.5 L185.5 604.5 L187.3 604.5 L187.3 604.6 L189.1 604.6 L189.1 604.9 L190.9 604.9 L190.9 604.5 L192.7 604.5 L192.7 605.0 L194.5 605.0 L194.5 604.7 L196.3 604.7 L196.3 604.6 L198.1 604.6 L198.1 604.8 L199.9 604.8 L199.9 605.2 L201.7 605.2 L201.7 604.8 L203.5 604.8 L203.5 604.9 L205.3 604.9 L205.3 605.3 L207.1 605.3 L207.1 605.4 L208.9 605.4 L208.9 605.2 L210.7 605.2 L210.7 605.9 L212.5 605.9 L212.5 605.6 L214.3 605.6 L214.3 606.2 L216.1 606.2 L216.1 606.3 L217.9 606.3 L217.9 606.4 L219.7 606.4 L219.7 606.2 L221.5 606.2 L221.5 606.0 L223.3 606.0 L223.3 606.4 L225.1 606.4 L225.1 606.4 L226.9 606.4 L226.9 606.2 L228.7 606.2 L228.7 606.3 L230.5 606.3 L230.5 606.0 L232.3 606.0 L232.3 606.0 L234.1 606.0 L234.1 606.0 L235.9 606.0 L235.9 605.8 L237.7 605.8 L237.7 605.8 L239.5 605.8 L239.5 606.1 L241.3 606.1 L241.3 605.4 L243.1 605.4 L243.1 605.8 L244.9 605.8 L244.9 605.7 L246.7 605.7 L246.7 605.6 L248.5 605.6 L248.5 605.1 L250.3 605.1 L250.3 604.9 L252.1 604.9 L252.1 605.1 L253.9 605.1 L253.9 605.0 L255.7 605.0 L255.7 605.1 L257.5 605.1 L257.5 604.4 L259.3 604.4 L259.3 604.7 L261.1 604.7 L261.1 604.3 L262.9 604.3 L262.9 604.3 L264.7 604.3 L264.7 604.2 L266.5 604.2 L266.5 603.9 L268.3 603.9 L268.3 603.9 L270.1 603.9 L270.1 603.8 L271.9 603.8 L271.9 603.3 L273.7 603.3 L273.7 603.0 L275.5 603.0 L275.5 603.0 L277.3 603.0 L277.3 603.1 L279.1 603.1 L279.1 602.6 L280.9 602.6 L280.9 603.0 L282.7 603.0 L282.7 602.6 L284.5 602.6 L284.5 602.2 L286.3 602.2 L286.3 601.9 L288.1 601.9 L288.1 601.3 L289.9 601.3 L289.9 600.1 L291.7 600.1 L291.7 600.3 L293.5 600.3 L293.5 600.2 L295.3 600.2 L295.3 600.1 L296.8 600.1 L296.8 609.9 Z" fill="#a7a7aa"/>
<rect x="184.7" y="606.3" width="1.0" height="1.8" fill="#d9605c"/>
<rect x="184.7" y="608.1" width="1.0" height="1.8" fill="#d9605c"/>
<rect x="193.8" y="606.3" width="1.0" height="1.8" fill="#d08a3a"/>
<rect x="193.8" y="608.1" width="1.0" height="1.8" fill="#4f9f4f"/>
<rect x="215.8" y="607.3" width="1.0" height="1.3" fill="#d08a3a"/>
<rect x="215.8" y="608.6" width="1.0" height="1.3" fill="#d08a3a"/>
<rect x="221.3" y="607.3" width="1.0" height="1.3" fill="#4f9f4f"/>
<rect x="221.3" y="608.6" width="1.0" height="1.3" fill="#4f9f4f"/>
<rect x="227.9" y="607.3" width="1.0" height="1.3" fill="#d08a3a"/>
<rect x="227.9" y="608.6" width="1.0" height="1.3" fill="#d08a3a"/>
<rect x="237.7" y="607.3" width="1.0" height="1.3" fill="#4a7fd0"/>
<rect x="237.7" y="608.6" width="1.0" height="1.3" fill="#4a7fd0"/>
<rect x="242.4" y="607.3" width="1.0" height="1.3" fill="#d9605c"/>
<rect x="242.4" y="608.6" width="1.0" height="1.3" fill="#4a7fd0"/>
<rect x="244.1" y="607.3" width="1.0" height="1.3" fill="#4a7fd0"/>
<rect x="244.1" y="608.6" width="1.0" height="1.3" fill="#4a7fd0"/>
<rect x="246.5" y="607.3" width="1.0" height="1.3" fill="#4a7fd0"/>
<rect x="246.5" y="608.6" width="1.0" height="1.3" fill="#4a7fd0"/>
<rect x="268.1" y="603.9" width="1.0" height="3.0" fill="#4a7fd0"/>
<rect x="268.1" y="606.9" width="1.0" height="3.0" fill="#4a7fd0"/>
<rect x="271.9" y="603.9" width="1.0" height="3.0" fill="#4a7fd0"/>
<rect x="271.9" y="606.9" width="1.0" height="3.0" fill="#4f9f4f"/>
<rect x="278.9" y="603.9" width="1.0" height="3.0" fill="#4f9f4f"/>
<rect x="278.9" y="606.9" width="1.0" height="3.0" fill="#d9605c"/>
<rect x="284.7" y="603.9" width="1.0" height="3.0" fill="#d9605c"/>
<rect x="284.7" y="606.9" width="1.0" height="3.0" fill="#4a7fd0"/>
<rect x="242.3" y="625.5" width="1.7" height="1.7" fill="#3a3fb0"/>
<rect x="268.4" y="613.4" width="1.5" height="1.5" fill="#5a5fc0"/>
<rect x="268.4" y="627.0" width="1.5" height="1.5" fill="#5a5fc0"/>
<text x="136.0" y="599.8" font-size="7.4" fill="#222" stroke="#222" stroke-width="0.25">[0 - 30]</text>
<line x1="268.4" y1="667.7" x2="296.2" y2="667.7" stroke="#333" stroke-width="1.4"/>
<text x="284.2" y="665.4" font-size="7.4" fill="#222" text-anchor="middle" stroke="#222" stroke-width="0.25">50 bp</text>
<rect x="298.3" y="671.6" width="162.0" height="84.5" fill="#fff" stroke="#6a6668" stroke-width="1.0"/>
<text x="292.7" y="684.4" font-size="12.5" fill="#1a1a1a" text-anchor="end" stroke="#1a1a1a" stroke-width="0.25">RNA-seq peaks</text>
<text x="292.0" y="722.1" font-size="12.5" fill="#1a1a1a" text-anchor="end" stroke="#1a1a1a" stroke-width="0.25">RNA-seq reads</text>
<line x1="339.5" y1="688.0" x2="411.0" y2="688.0" stroke="#a3c3d6" stroke-width="0.6"/>
<line x1="339.5" y1="690.1" x2="411.0" y2="690.1" stroke="#a3c3d6" stroke-width="0.6"/>
<line x1="339.5" y1="692.1" x2="411.0" y2="692.1" stroke="#a3c3d6" stroke-width="0.6"/>
<line x1="339.5" y1="694.2" x2="411.0" y2="694.2" stroke="#a3c3d6" stroke-width="0.6"/>
<line x1="339.5" y1="696.2" x2="411.0" y2="696.2" stroke="#a3c3d6" stroke-width="0.6"/>
<line x1="339.5" y1="698.3" x2="411.0" y2="698.3" stroke="#a3c3d6" stroke-width="0.6"/>
<line x1="339.5" y1="700.4" x2="411.0" y2="700.4" stroke="#a3c3d6" stroke-width="0.6"/>
<line x1="339.5" y1="702.4" x2="411.0" y2="702.4" stroke="#a3c3d6" stroke-width="0.6"/>
<line x1="339.5" y1="704.5" x2="411.0" y2="704.5" stroke="#a3c3d6" stroke-width="0.6"/>
<line x1="339.5" y1="706.5" x2="411.0" y2="706.5" stroke="#a3c3d6" stroke-width="0.6"/>
<line x1="339.5" y1="708.6" x2="411.0" y2="708.6" stroke="#a3c3d6" stroke-width="0.6"/>
<line x1="339.5" y1="710.7" x2="411.0" y2="710.7" stroke="#a3c3d6" stroke-width="0.6"/>
<line x1="339.5" y1="712.7" x2="411.0" y2="712.7" stroke="#a3c3d6" stroke-width="0.6"/>
<line x1="339.5" y1="714.8" x2="411.0" y2="714.8" stroke="#a3c3d6" stroke-width="0.6"/>
<line x1="339.5" y1="716.8" x2="411.0" y2="716.8" stroke="#a3c3d6" stroke-width="0.6"/>
<line x1="339.5" y1="718.9" x2="411.0" y2="718.9" stroke="#a3c3d6" stroke-width="0.6"/>
<line x1="339.5" y1="721.0" x2="411.0" y2="721.0" stroke="#a3c3d6" stroke-width="0.6"/>
<line x1="339.5" y1="723.0" x2="411.0" y2="723.0" stroke="#a3c3d6" stroke-width="0.6"/>
<line x1="339.5" y1="725.1" x2="411.0" y2="725.1" stroke="#a3c3d6" stroke-width="0.6"/>
<line x1="339.5" y1="727.1" x2="411.0" y2="727.1" stroke="#a3c3d6" stroke-width="0.6"/>
<line x1="339.5" y1="729.2" x2="411.0" y2="729.2" stroke="#a3c3d6" stroke-width="0.6"/>
<line x1="339.5" y1="731.3" x2="411.0" y2="731.3" stroke="#a3c3d6" stroke-width="0.6"/>
<line x1="339.5" y1="733.3" x2="411.0" y2="733.3" stroke="#a3c3d6" stroke-width="0.6"/>
<line x1="339.5" y1="735.4" x2="411.0" y2="735.4" stroke="#a3c3d6" stroke-width="0.6"/>
<line x1="339.5" y1="737.4" x2="411.0" y2="737.4" stroke="#a3c3d6" stroke-width="0.6"/>
<line x1="339.5" y1="739.5" x2="411.0" y2="739.5" stroke="#a3c3d6" stroke-width="0.6"/>
<line x1="339.5" y1="741.6" x2="411.0" y2="741.6" stroke="#a3c3d6" stroke-width="0.6"/>
<line x1="339.5" y1="743.6" x2="411.0" y2="743.6" stroke="#a3c3d6" stroke-width="0.6"/>
<line x1="339.5" y1="745.7" x2="411.0" y2="745.7" stroke="#a3c3d6" stroke-width="0.6"/>
<line x1="339.5" y1="747.7" x2="411.0" y2="747.7" stroke="#a3c3d6" stroke-width="0.6"/>
<line x1="339.5" y1="751.9" x2="411.0" y2="751.9" stroke="#a3c3d6" stroke-width="0.6"/>
<path d="M308.3 685.7 L339.5 685.7 L339.5 754.4 L317 754.4 L316.6 738 L315.5 722 L313.8 710 L311.9 698 L308.3 690 Z" fill="#c1c1c4"/>
<path d="M347 685.7 L353.2 685.7 L353.2 754.4 L347 754.4 Z" fill="#c1c1c4"/>
<path d="M366.1 685.7 L377 685.7 L377 754.4 L366.1 754.4 Z" fill="#c1c1c4"/>
<path d="M384.7 685.7 L389 685.7 L389 754.4 L384.7 754.4 Z" fill="#c1c1c4"/>
<path d="M396.5 685.7 L405.9 685.7 L405.9 754.4 L396.5 754.4 Z" fill="#c1c1c4"/>
<path d="M411 685.7 L437.4 685.7 L437.4 693.5 L441 693.5 L441 699.8 L432 699.8 L432 704.8 L434.8 704.8 L434.8 710 L431.8 710 L431.8 715 L434.8 715 L434.8 719.5 L431.8 719.5 L431.8 724.5 L436 724.5 L436 730 L431.8 730 L431.8 736 L424.5 736 L424.5 742 L425.5 742 L425.5 747 L428 747 L428 754.4 L411 754.4 Z" fill="#c1c1c4"/>
<line x1="308.3" y1="687.0" x2="441.0" y2="687.0" stroke="#ffffff" stroke-width="0.45" stroke-opacity="0.55"/>
<line x1="308.3" y1="689.1" x2="441.0" y2="689.1" stroke="#ffffff" stroke-width="0.45" stroke-opacity="0.55"/>
<line x1="308.3" y1="691.1" x2="441.0" y2="691.1" stroke="#ffffff" stroke-width="0.45" stroke-opacity="0.55"/>
<line x1="308.3" y1="693.2" x2="441.0" y2="693.2" stroke="#ffffff" stroke-width="0.45" stroke-opacity="0.55"/>
<line x1="308.3" y1="695.2" x2="441.0" y2="695.2" stroke="#ffffff" stroke-width="0.45" stroke-opacity="0.55"/>
<line x1="308.3" y1="697.3" x2="441.0" y2="697.3" stroke="#ffffff" stroke-width="0.45" stroke-opacity="0.55"/>
<line x1="308.3" y1="699.4" x2="441.0" y2="699.4" stroke="#ffffff" stroke-width="0.45" stroke-opacity="0.55"/>
<line x1="308.3" y1="701.4" x2="441.0" y2="701.4" stroke="#ffffff" stroke-width="0.45" stroke-opacity="0.55"/>
<line x1="308.3" y1="703.5" x2="441.0" y2="703.5" stroke="#ffffff" stroke-width="0.45" stroke-opacity="0.55"/>
<line x1="308.3" y1="705.5" x2="441.0" y2="705.5" stroke="#ffffff" stroke-width="0.45" stroke-opacity="0.55"/>
<line x1="308.3" y1="707.6" x2="441.0" y2="707.6" stroke="#ffffff" stroke-width="0.45" stroke-opacity="0.55"/>
<line x1="308.3" y1="709.7" x2="441.0" y2="709.7" stroke="#ffffff" stroke-width="0.45" stroke-opacity="0.55"/>
<line x1="308.3" y1="711.7" x2="441.0" y2="711.7" stroke="#ffffff" stroke-width="0.45" stroke-opacity="0.55"/>
<line x1="308.3" y1="713.8" x2="441.0" y2="713.8" stroke="#ffffff" stroke-width="0.45" stroke-opacity="0.55"/>
<line x1="308.3" y1="715.8" x2="441.0" y2="715.8" stroke="#ffffff" stroke-width="0.45" stroke-opacity="0.55"/>
<line x1="308.3" y1="717.9" x2="441.0" y2="717.9" stroke="#ffffff" stroke-width="0.45" stroke-opacity="0.55"/>
<line x1="308.3" y1="720.0" x2="441.0" y2="720.0" stroke="#ffffff" stroke-width="0.45" stroke-opacity="0.55"/>
<line x1="308.3" y1="722.0" x2="441.0" y2="722.0" stroke="#ffffff" stroke-width="0.45" stroke-opacity="0.55"/>
<line x1="308.3" y1="724.1" x2="441.0" y2="724.1" stroke="#ffffff" stroke-width="0.45" stroke-opacity="0.55"/>
<line x1="308.3" y1="726.1" x2="441.0" y2="726.1" stroke="#ffffff" stroke-width="0.45" stroke-opacity="0.55"/>
<line x1="308.3" y1="728.2" x2="441.0" y2="728.2" stroke="#ffffff" stroke-width="0.45" stroke-opacity="0.55"/>
<line x1="308.3" y1="730.3" x2="441.0" y2="730.3" stroke="#ffffff" stroke-width="0.45" stroke-opacity="0.55"/>
<line x1="308.3" y1="732.3" x2="441.0" y2="732.3" stroke="#ffffff" stroke-width="0.45" stroke-opacity="0.55"/>
<line x1="308.3" y1="734.4" x2="441.0" y2="734.4" stroke="#ffffff" stroke-width="0.45" stroke-opacity="0.55"/>
<line x1="308.3" y1="736.4" x2="441.0" y2="736.4" stroke="#ffffff" stroke-width="0.45" stroke-opacity="0.55"/>
<line x1="308.3" y1="738.5" x2="441.0" y2="738.5" stroke="#ffffff" stroke-width="0.45" stroke-opacity="0.55"/>
<line x1="308.3" y1="740.6" x2="441.0" y2="740.6" stroke="#ffffff" stroke-width="0.45" stroke-opacity="0.55"/>
<line x1="308.3" y1="742.6" x2="441.0" y2="742.6" stroke="#ffffff" stroke-width="0.45" stroke-opacity="0.55"/>
<line x1="308.3" y1="744.7" x2="441.0" y2="744.7" stroke="#ffffff" stroke-width="0.45" stroke-opacity="0.55"/>
<line x1="308.3" y1="746.7" x2="441.0" y2="746.7" stroke="#ffffff" stroke-width="0.45" stroke-opacity="0.55"/>
<line x1="308.3" y1="748.8" x2="441.0" y2="748.8" stroke="#ffffff" stroke-width="0.45" stroke-opacity="0.55"/>
<line x1="308.3" y1="750.9" x2="441.0" y2="750.9" stroke="#ffffff" stroke-width="0.45" stroke-opacity="0.55"/>
<line x1="308.3" y1="752.9" x2="441.0" y2="752.9" stroke="#ffffff" stroke-width="0.45" stroke-opacity="0.55"/>
<rect x="313.0" y="702.0" width="24.0" height="2.2" fill="#fff" opacity="0.9"/>
<rect x="323.5" y="706.0" width="3.0" height="6.0" fill="#fff" opacity="0.9"/>
<rect x="324.0" y="712.0" width="4.0" height="18.0" fill="#fff" opacity="0.9"/>
<rect x="325.0" y="730.0" width="5.0" height="12.0" fill="#fff" opacity="0.9"/>
<rect x="323.5" y="742.0" width="8.0" height="12.4" fill="#fff" opacity="0.9"/>
<rect x="318.5" y="708.0" width="2.0" height="8.0" fill="#fff" opacity="0.9"/>
<rect x="330.5" y="708.0" width="1.5" height="10.0" fill="#fff" opacity="0.9"/>
<rect x="334.0" y="726.0" width="2.0" height="12.0" fill="#fff" opacity="0.9"/>
<rect x="347.0" y="728.5" width="6.2" height="2.0" fill="#fff" opacity="0.9"/>
<rect x="347.0" y="746.0" width="6.2" height="2.5" fill="#fff" opacity="0.9"/>
<rect x="349.0" y="722.0" width="2.0" height="5.0" fill="#fff" opacity="0.9"/>
<rect x="371.0" y="689.0" width="1.5" height="8.0" fill="#fff" opacity="0.9"/>
<rect x="366.1" y="700.0" width="1.9" height="3.0" fill="#fff" opacity="0.9"/>
<rect x="372.0" y="720.0" width="2.0" height="6.0" fill="#fff" opacity="0.9"/>
<rect x="375.0" y="735.0" width="2.0" height="17.0" fill="#fff" opacity="0.9"/>
<rect x="366.1" y="744.0" width="2.4" height="10.4" fill="#fff" opacity="0.9"/>
<rect x="384.7" y="722.0" width="4.3" height="1.5" fill="#fff" opacity="0.9"/>
<rect x="398.5" y="728.0" width="2.0" height="16.0" fill="#fff" opacity="0.9"/>
<rect x="396.5" y="712.0" width="2.0" height="4.0" fill="#fff" opacity="0.9"/>
<rect x="403.5" y="704.0" width="1.5" height="4.0" fill="#fff" opacity="0.9"/>
<rect x="419.0" y="700.5" width="5.0" height="3.0" fill="#fff" opacity="0.9"/>
<rect x="423.5" y="690.0" width="2.0" height="6.0" fill="#fff" opacity="0.9"/>
<rect x="424.0" y="710.0" width="2.0" height="6.0" fill="#fff" opacity="0.9"/>
<rect x="416.0" y="722.0" width="1.5" height="6.0" fill="#fff" opacity="0.9"/>
<rect x="412.0" y="745.0" width="1.5" height="7.0" fill="#fff" opacity="0.9"/>
<rect x="421.0" y="745.0" width="1.5" height="7.0" fill="#fff" opacity="0.9"/>
<rect x="431.5" y="694.0" width="2.0" height="5.0" fill="#fff" opacity="0.9"/>
<path d="M308.3 685.7 L308.3 684.6 L309.8 684.6 L309.8 684.0 L311.3 684.0 L311.3 683.9 L312.8 683.9 L312.8 683.5 L314.3 683.5 L314.3 683.2 L315.8 683.2 L315.8 682.7 L317.3 682.7 L317.3 682.3 L318.8 682.3 L318.8 682.1 L320.3 682.1 L320.3 681.8 L321.8 681.8 L321.8 681.8 L323.3 681.8 L323.3 681.3 L324.8 681.3 L324.8 681.7 L326.3 681.7 L326.3 681.8 L327.8 681.8 L327.8 681.5 L329.3 681.5 L329.3 681.4 L330.8 681.4 L330.8 681.3 L332.3 681.3 L332.3 681.4 L333.8 681.4 L333.8 681.3 L335.3 681.3 L335.3 681.5 L336.8 681.5 L336.8 681.3 L338.3 681.3 L338.3 681.7 L339.5 681.7 L339.5 685.7 Z" fill="#a6a6a9"/>
<path d="M347.0 685.7 L347.0 683.3 L348.5 683.3 L348.5 682.0 L350.0 682.0 L350.0 681.9 L351.5 681.9 L351.5 682.8 L353.0 682.8 L353.0 682.9 L353.2 682.9 L353.2 685.7 Z" fill="#a6a6a9"/>
<path d="M366.1 685.7 L366.1 683.7 L367.6 683.7 L367.6 682.4 L369.1 682.4 L369.1 681.8 L370.6 681.8 L370.6 681.7 L372.1 681.7 L372.1 681.6 L373.6 681.6 L373.6 682.3 L375.1 682.3 L375.1 683.1 L376.6 683.1 L376.6 683.3 L377.0 683.3 L377.0 685.7 Z" fill="#a6a6a9"/>
<path d="M384.7 685.7 L384.7 683.1 L386.2 683.1 L386.2 681.8 L387.7 681.8 L387.7 682.5 L389.0 682.5 L389.0 685.7 Z" fill="#a6a6a9"/>
<path d="M396.5 685.7 L396.5 682.9 L398.0 682.9 L398.0 682.9 L399.5 682.9 L399.5 682.1 L401.0 682.1 L401.0 682.3 L402.5 682.3 L402.5 682.3 L404.0 682.3 L404.0 682.4 L405.5 682.4 L405.5 683.6 L405.9 683.6 L405.9 685.7 Z" fill="#a6a6a9"/>
<path d="M411.0 685.7 L411.0 681.6 L412.5 681.6 L412.5 682.2 L414.0 682.2 L414.0 682.1 L415.5 682.1 L415.5 682.5 L417.0 682.5 L417.0 682.4 L418.5 682.4 L418.5 682.6 L420.0 682.6 L420.0 682.9 L421.5 682.9 L421.5 683.1 L423.0 683.1 L423.0 683.2 L424.5 683.2 L424.5 683.7 L426.0 683.7 L426.0 683.5 L427.5 683.5 L427.5 683.9 L429.0 683.9 L429.0 683.9 L430.5 683.9 L430.5 684.4 L432.0 684.4 L432.0 684.6 L433.5 684.6 L433.5 684.8 L435.0 684.8 L435.0 685.0 L436.5 685.0 L436.5 685.1 L437.8 685.1 L437.8 685.7 Z" fill="#a6a6a9"/>
<line x1="298.8" y1="685.7" x2="460.0" y2="685.7" stroke="#8f8f92" stroke-width="0.8"/>
<rect x="310.7" y="692.7" width="1.6" height="1.6" fill="#4a5fd0"/>
<rect x="313.7" y="693.7" width="1.6" height="1.6" fill="#e05a5a"/>
<rect x="321.7" y="692.2" width="1.6" height="1.6" fill="#4a5fd0"/>
<rect x="325.2" y="692.7" width="1.6" height="1.6" fill="#e05a5a"/>
<rect x="329.2" y="694.2" width="1.6" height="1.6" fill="#4fae4f"/>
<rect x="325.7" y="696.2" width="1.6" height="1.6" fill="#e05a5a"/>
<rect x="320.7" y="688.7" width="1.6" height="1.6" fill="#4fae4f"/>
<rect x="312.2" y="700.2" width="1.6" height="1.6" fill="#4fae4f"/>
<rect x="312.2" y="704.2" width="1.6" height="1.6" fill="#e05a5a"/>
<rect x="337.2" y="702.7" width="1.6" height="1.6" fill="#e05a5a"/>
<rect x="337.7" y="689.7" width="1.6" height="1.6" fill="#4a5fd0"/>
<rect x="312.2" y="708.2" width="1.6" height="1.6" fill="#4a5fd0"/>
<rect x="315.7" y="712.2" width="1.6" height="1.6" fill="#4a5fd0"/>
<rect x="322.2" y="710.2" width="1.6" height="1.6" fill="#4a5fd0"/>
<rect x="313.7" y="714.2" width="1.6" height="1.6" fill="#4a5fd0"/>
<rect x="322.2" y="719.7" width="1.6" height="1.6" fill="#4a5fd0"/>
<rect x="322.2" y="721.7" width="1.6" height="1.6" fill="#4a5fd0"/>
<rect x="325.2" y="720.7" width="1.6" height="1.6" fill="#e05a5a"/>
<rect x="330.2" y="722.2" width="1.6" height="1.6" fill="#4a5fd0"/>
<rect x="324.7" y="730.7" width="1.6" height="1.6" fill="#e05a5a"/>
<rect x="320.7" y="746.2" width="1.6" height="1.6" fill="#4fae4f"/>
<rect x="347.2" y="698.2" width="1.6" height="1.6" fill="#e05a5a"/>
<rect x="348.7" y="748.7" width="1.6" height="1.6" fill="#d08a3a"/>
<rect x="348.7" y="752.2" width="1.6" height="1.6" fill="#4a5fd0"/>
<rect x="372.7" y="694.2" width="1.6" height="1.6" fill="#e05a5a"/>
<rect x="375.2" y="694.2" width="1.6" height="1.6" fill="#4a5fd0"/>
<rect x="366.7" y="700.2" width="1.6" height="1.6" fill="#e05a5a"/>
<rect x="366.2" y="720.7" width="1.6" height="1.6" fill="#4fae4f"/>
<rect x="369.7" y="724.7" width="1.6" height="1.6" fill="#d08a3a"/>
<rect x="371.7" y="724.7" width="1.6" height="1.6" fill="#4a5fd0"/>
<rect x="373.7" y="738.7" width="1.6" height="1.6" fill="#4fae4f"/>
<rect x="369.7" y="750.7" width="1.6" height="1.6" fill="#4fae4f"/>
<rect x="387.7" y="744.7" width="1.6" height="1.6" fill="#4fae4f"/>
<rect x="387.7" y="749.2" width="1.6" height="1.6" fill="#4fae4f"/>
<rect x="401.7" y="710.2" width="1.6" height="1.6" fill="#e05a5a"/>
<rect x="398.7" y="718.2" width="1.6" height="1.6" fill="#d08a3a"/>
<rect x="401.7" y="720.7" width="1.6" height="1.6" fill="#4a5fd0"/>
<rect x="401.7" y="730.7" width="1.6" height="1.6" fill="#e05a5a"/>
<rect x="401.7" y="702.7" width="1.6" height="1.6" fill="#4fae4f"/>
<rect x="403.2" y="736.2" width="1.6" height="1.6" fill="#4fae4f"/>
<rect x="399.7" y="752.2" width="1.6" height="1.6" fill="#e05a5a"/>
<rect x="402.7" y="752.2" width="1.6" height="1.6" fill="#4fae4f"/>
<rect x="413.2" y="696.2" width="1.6" height="1.6" fill="#e05a5a"/>
<rect x="412.2" y="700.2" width="1.6" height="1.6" fill="#4a5fd0"/>
<rect x="420.2" y="703.7" width="1.6" height="1.6" fill="#d08a3a"/>
<rect x="427.7" y="720.7" width="1.6" height="1.6" fill="#4fae4f"/>
<rect x="422.2" y="720.7" width="1.6" height="1.6" fill="#4a5fd0"/>
<rect x="421.7" y="730.7" width="1.6" height="1.6" fill="#e05a5a"/>
<rect x="422.7" y="734.7" width="1.6" height="1.6" fill="#d08a3a"/>
<rect x="423.2" y="739.2" width="1.6" height="1.6" fill="#4a5fd0"/>
<rect x="417.2" y="746.7" width="1.6" height="1.6" fill="#4fae4f"/>
<rect x="426.7" y="686.2" width="1.6" height="1.6" fill="#4a5fd0"/>
<rect x="327.4" y="714.2" width="6.2" height="2.0" fill="#45b545"/>
<rect x="314.6" y="718.0" width="6.2" height="2.0" fill="#e04a4a"/>
<rect x="426.3" y="726.4" width="2.8" height="2.4" fill="#3a4fc0"/>
<rect x="432.0" y="726.4" width="2.2" height="2.4" fill="#3a4fc0"/>
<rect x="426.3" y="730.4" width="2.8" height="2.0" fill="#45b545"/>
<rect x="426.3" y="732.4" width="2.8" height="2.2" fill="#3a4fc0"/>
<rect x="426.5" y="716.2" width="2.4" height="2.0" fill="#45b545"/>
<rect x="397.0" y="748.6" width="4.6" height="2.0" fill="#45b545"/>
<rect x="387.8" y="745.0" width="1.6" height="4.5" fill="#45b545"/>
<text x="302.3" y="680.1" font-size="7.4" fill="#222" stroke="#222" stroke-width="0.25">[0 - 80]</text>
<line x1="436.4" y1="752.7" x2="448.0" y2="752.7" stroke="#222" stroke-width="1.4"/>
<text x="445.2" y="750.6" font-size="7.4" fill="#222" text-anchor="middle" stroke="#222" stroke-width="0.25">200 bp</text>
<line x1="297.9" y1="380.5" x2="297.9" y2="756.5" stroke="#111" stroke-width="1.2" stroke-dasharray="1.6 1.1"/>
</g>
<g id="panel-e">
<text x="449.2" y="367.6" font-size="18" fill="#111">(e)</text>
<rect x="472.1" y="381.2" width="62.0" height="18.5" fill="#808084" rx="3.4"/>
<rect x="536.4" y="381.2" width="61.8" height="18.5" fill="#808084" rx="3.4"/>
<text x="504.6" y="394.4" font-size="10.1" fill="#111" text-anchor="middle" stroke="#111" stroke-width="0.25">#NA</text>
<text x="568.0" y="394.4" font-size="10.1" fill="#111" text-anchor="middle" stroke="#111" stroke-width="0.25">#NA</text>
<text x="604.5" y="395.6" font-size="12.2" fill="#111" font-style="italic" stroke="#111" stroke-width="0.25">FhBBM</text>
<rect x="472.1" y="401.8" width="62.0" height="18.5" fill="#808084" rx="3.4"/>
<rect x="536.4" y="401.8" width="61.8" height="18.5" fill="#808084" rx="3.4"/>
<text x="504.6" y="415.0" font-size="10.1" fill="#111" text-anchor="middle" stroke="#111" stroke-width="0.25">#NA</text>
<text x="568.0" y="415.0" font-size="10.1" fill="#111" text-anchor="middle" stroke="#111" stroke-width="0.25">#NA</text>
<text x="604.5" y="416.2" font-size="12.2" fill="#111" font-style="italic" stroke="#111" stroke-width="0.25">FhWOX5</text>
<rect x="472.1" y="422.4" width="62.0" height="18.5" fill="#808084" rx="3.4"/>
<rect x="536.4" y="422.4" width="61.8" height="18.5" fill="#808084" rx="3.4"/>
<text x="504.6" y="435.6" font-size="10.1" fill="#111" text-anchor="middle" stroke="#111" stroke-width="0.25">#NA</text>
<text x="568.0" y="435.6" font-size="10.1" fill="#111" text-anchor="middle" stroke="#111" stroke-width="0.25">#NA</text>
<text x="604.5" y="436.8" font-size="12.2" fill="#111" font-style="italic" stroke="#111" stroke-width="0.25">FhLBD16</text>
<rect x="472.1" y="443.0" width="62.0" height="18.5" fill="#49b1c9" rx="3.4"/>
<rect x="536.4" y="443.0" width="61.8" height="18.5" fill="#df5145" rx="3.4"/>
<text x="504.6" y="456.2" font-size="10.1" fill="#111" text-anchor="middle" stroke="#111" stroke-width="0.25">1.05</text>
<text x="568.0" y="456.2" font-size="10.1" fill="#111" text-anchor="middle" stroke="#111" stroke-width="0.25">3.49</text>
<text x="604.5" y="457.4" font-size="12.2" fill="#e4564e" font-style="italic" stroke="#e4564e" stroke-width="0.25">FhLBD18</text>
<rect x="472.1" y="463.6" width="62.0" height="18.5" fill="#49b1c9" rx="3.4"/>
<rect x="536.4" y="463.6" width="61.8" height="18.5" fill="#df5145" rx="3.4"/>
<text x="504.6" y="476.8" font-size="10.1" fill="#111" text-anchor="middle" stroke="#111" stroke-width="0.25">0.58</text>
<text x="568.0" y="476.8" font-size="10.1" fill="#111" text-anchor="middle" stroke="#111" stroke-width="0.25">2.07</text>
<text x="604.5" y="478.0" font-size="12.2" fill="#e4564e" font-style="italic" stroke="#e4564e" stroke-width="0.25">FhWUS</text>
<rect x="472.1" y="484.1" width="62.0" height="18.5" fill="#df5145" rx="3.4"/>
<rect x="536.4" y="484.1" width="61.8" height="18.5" fill="#49b1c9" rx="3.4"/>
<text x="504.6" y="497.4" font-size="10.1" fill="#111" text-anchor="middle" stroke="#111" stroke-width="0.25">6.81</text>
<text x="568.0" y="497.4" font-size="10.1" fill="#111" text-anchor="middle" stroke="#111" stroke-width="0.25">2.67</text>
<text x="604.5" y="498.6" font-size="12.2" fill="#e4564e" font-style="italic" stroke="#e4564e" stroke-width="0.25">FhLAS</text>
<rect x="472.1" y="504.7" width="62.0" height="18.5" fill="#df5145" rx="3.4"/>
<rect x="536.4" y="504.7" width="61.8" height="18.5" fill="#49b1c9" rx="3.4"/>
<text x="504.6" y="518.0" font-size="10.1" fill="#111" text-anchor="middle" stroke="#111" stroke-width="0.25">3.98</text>
<text x="568.0" y="518.0" font-size="10.1" fill="#111" text-anchor="middle" stroke="#111" stroke-width="0.25">1.08</text>
<text x="604.5" y="519.2" font-size="12.2" fill="#e4564e" font-style="italic" stroke="#e4564e" stroke-width="0.25">FhEMK</text>
<rect x="472.1" y="525.3" width="62.0" height="18.5" fill="#49b1c9" rx="3.4"/>
<rect x="536.4" y="525.3" width="61.8" height="18.5" fill="#df5145" rx="3.4"/>
<text x="504.6" y="538.6" font-size="10.1" fill="#111" text-anchor="middle" stroke="#111" stroke-width="0.25">0.22</text>
<text x="568.0" y="538.6" font-size="10.1" fill="#111" text-anchor="middle" stroke="#111" stroke-width="0.25">6.02</text>
<text x="604.5" y="539.8" font-size="12.2" fill="#e4564e" font-style="italic" stroke="#e4564e" stroke-width="0.25">FhRKD4</text>
<rect x="472.1" y="545.9" width="62.0" height="18.5" fill="#df5145" rx="3.4"/>
<rect x="536.4" y="545.9" width="61.8" height="18.5" fill="#49b1c9" rx="3.4"/>
<text x="504.6" y="559.2" font-size="10.1" fill="#111" text-anchor="middle" stroke="#111" stroke-width="0.25">30.61</text>
<text x="568.0" y="559.2" font-size="10.1" fill="#111" text-anchor="middle" stroke="#111" stroke-width="0.25">20.97</text>
<text x="604.5" y="560.4" font-size="12.2" fill="#e4564e" font-style="italic" stroke="#e4564e" stroke-width="0.25">FhCLF</text>
<rect x="472.1" y="566.5" width="62.0" height="18.5" fill="#49b1c9" rx="3.4"/>
<rect x="536.4" y="566.5" width="61.8" height="18.5" fill="#df5145" rx="3.4"/>
<text x="504.6" y="579.7" font-size="10.1" fill="#111" text-anchor="middle" stroke="#111" stroke-width="0.25">1.18</text>
<text x="568.0" y="579.7" font-size="10.1" fill="#111" text-anchor="middle" stroke="#111" stroke-width="0.25">5.61</text>
<text x="604.5" y="580.9" font-size="12.2" fill="#e4564e" font-style="italic" stroke="#e4564e" stroke-width="0.25">FhHB52</text>
<rect x="472.1" y="587.1" width="62.0" height="18.5" fill="#808084" rx="3.4"/>
<rect x="536.4" y="587.1" width="61.8" height="18.5" fill="#808084" rx="3.4"/>
<text x="504.6" y="600.3" font-size="10.1" fill="#111" text-anchor="middle" stroke="#111" stroke-width="0.25">#NA</text>
<text x="568.0" y="600.3" font-size="10.1" fill="#111" text-anchor="middle" stroke="#111" stroke-width="0.25">#NA</text>
<text x="604.5" y="601.5" font-size="12.2" fill="#111" font-style="italic" stroke="#111" stroke-width="0.25">FhSPCH</text>
<rect x="472.1" y="607.7" width="62.0" height="18.5" fill="#49b1c9" rx="3.4"/>
<rect x="536.4" y="607.7" width="61.8" height="18.5" fill="#df5145" rx="3.4"/>
<text x="504.6" y="620.9" font-size="10.1" fill="#111" text-anchor="middle" stroke="#111" stroke-width="0.25">46.12</text>
<text x="568.0" y="620.9" font-size="10.1" fill="#111" text-anchor="middle" stroke="#111" stroke-width="0.25">58.90</text>
<text x="604.5" y="622.1" font-size="12.2" fill="#e4564e" font-style="italic" stroke="#e4564e" stroke-width="0.25">FhBAM8</text>
<rect x="472.1" y="628.3" width="62.0" height="18.5" fill="#808084" rx="3.4"/>
<rect x="536.4" y="628.3" width="61.8" height="18.5" fill="#808084" rx="3.4"/>
<text x="504.6" y="641.5" font-size="10.1" fill="#111" text-anchor="middle" stroke="#111" stroke-width="0.25">#NA</text>
<text x="568.0" y="641.5" font-size="10.1" fill="#111" text-anchor="middle" stroke="#111" stroke-width="0.25">#NA</text>
<text x="604.5" y="642.7" font-size="12.2" fill="#111" font-style="italic" stroke="#111" stroke-width="0.25">FhAHP6</text>
<rect x="472.1" y="648.9" width="62.0" height="18.5" fill="#df5145" rx="3.4"/>
<rect x="536.4" y="648.9" width="61.8" height="18.5" fill="#49b1c9" rx="3.4"/>
<text x="504.6" y="662.1" font-size="10.1" fill="#111" text-anchor="middle" stroke="#111" stroke-width="0.25">17.90</text>
<text x="568.0" y="662.1" font-size="10.1" fill="#111" text-anchor="middle" stroke="#111" stroke-width="0.25">10.90</text>
<text x="604.5" y="663.3" font-size="12.2" fill="#e4564e" font-style="italic" stroke="#e4564e" stroke-width="0.25">FhKRP7</text>
<rect x="472.1" y="669.5" width="62.0" height="18.5" fill="#df5145" rx="3.4"/>
<rect x="536.4" y="669.5" width="61.8" height="18.5" fill="#49b1c9" rx="3.4"/>
<text x="504.6" y="682.7" font-size="10.1" fill="#111" text-anchor="middle" stroke="#111" stroke-width="0.25">1.86</text>
<text x="568.0" y="682.7" font-size="10.1" fill="#111" text-anchor="middle" stroke="#111" stroke-width="0.25">0.02</text>
<text x="604.5" y="683.9" font-size="12.2" fill="#e4564e" font-style="italic" stroke="#e4564e" stroke-width="0.25">FhCDKA1</text>
<rect x="472.1" y="690.0" width="62.0" height="18.5" fill="#49b1c9" rx="3.4"/>
<rect x="536.4" y="690.0" width="61.8" height="18.5" fill="#df5145" rx="3.4"/>
<text x="504.6" y="703.3" font-size="10.1" fill="#111" text-anchor="middle" stroke="#111" stroke-width="0.25">1146.51</text>
<text x="568.0" y="703.3" font-size="10.1" fill="#111" text-anchor="middle" stroke="#111" stroke-width="0.25">1479.16</text>
<text x="604.5" y="704.5" font-size="12.2" fill="#e4564e" font-style="italic" stroke="#e4564e" stroke-width="0.25">FhDRM1</text>
<rect x="472.1" y="710.6" width="62.0" height="18.5" fill="#df5145" rx="3.4"/>
<rect x="536.4" y="710.6" width="61.8" height="18.5" fill="#49b1c9" rx="3.4"/>
<text x="504.6" y="723.9" font-size="10.1" fill="#111" text-anchor="middle" stroke="#111" stroke-width="0.25">11.18</text>
<text x="568.0" y="723.9" font-size="10.1" fill="#111" text-anchor="middle" stroke="#111" stroke-width="0.25">7.33</text>
<text x="604.5" y="725.1" font-size="12.2" fill="#e4564e" font-style="italic" stroke="#e4564e" stroke-width="0.25">FhBMI1A</text>
<rect x="472.1" y="731.2" width="62.0" height="18.5" fill="#808084" rx="3.4"/>
<rect x="536.4" y="731.2" width="61.8" height="18.5" fill="#808084" rx="3.4"/>
<text x="504.6" y="744.5" font-size="10.1" fill="#111" text-anchor="middle" stroke="#111" stroke-width="0.25">#NA</text>
<text x="568.0" y="744.5" font-size="10.1" fill="#111" text-anchor="middle" stroke="#111" stroke-width="0.25">#NA</text>
<text x="604.5" y="745.7" font-size="12.2" fill="#111" font-style="italic" stroke="#111" stroke-width="0.25">FhCMT3</text>
<text x="503.3" y="763.9" font-size="9.6" fill="#111" font-weight="bold" text-anchor="middle" stroke="#111" stroke-width="0.25">MO</text>
<text x="564.8" y="763.9" font-size="9.6" fill="#111" font-weight="bold" text-anchor="middle" stroke="#111" stroke-width="0.25">PO</text>
<defs><linearGradient id="ge" x1="0" y1="0" x2="0" y2="1"><stop offset="0" stop-color="#ee4a40"/><stop offset="0.125" stop-color="#c4554b"/><stop offset="0.25" stop-color="#8d695b"/><stop offset="0.375" stop-color="#528872"/><stop offset="0.5" stop-color="#2c9d88"/><stop offset="0.75" stop-color="#3aa9a8"/><stop offset="1" stop-color="#55b3d8"/></linearGradient></defs>
<rect x="660.3" y="385.0" width="17.4" height="130.8" fill="url(#ge)"/>
<line x1="678.0" y1="384.6" x2="678.0" y2="516.2" stroke="#000" stroke-width="1.1"/>
<line x1="678.0" y1="385.4" x2="681.2" y2="385.4" stroke="#000" stroke-width="1.0"/>
<text x="682.0" y="388.9" font-size="10.0" fill="#111" stroke="#111" stroke-width="0.25">0.80</text>
<line x1="678.0" y1="401.7" x2="681.2" y2="401.7" stroke="#000" stroke-width="1.0"/>
<text x="682.0" y="405.2" font-size="10.0" fill="#111" stroke="#111" stroke-width="0.25">0.60</text>
<line x1="678.0" y1="418.0" x2="681.2" y2="418.0" stroke="#000" stroke-width="1.0"/>
<text x="682.0" y="421.5" font-size="10.0" fill="#111" stroke="#111" stroke-width="0.25">0.40</text>
<line x1="678.0" y1="434.3" x2="681.2" y2="434.3" stroke="#000" stroke-width="1.0"/>
<text x="682.0" y="437.8" font-size="10.0" fill="#111" stroke="#111" stroke-width="0.25">0.20</text>
<line x1="678.0" y1="450.6" x2="681.2" y2="450.6" stroke="#000" stroke-width="1.0"/>
<text x="682.0" y="454.1" font-size="10.0" fill="#111" stroke="#111" stroke-width="0.25">-0.00</text>
<line x1="678.0" y1="466.8" x2="681.2" y2="466.8" stroke="#000" stroke-width="1.0"/>
<text x="682.0" y="470.4" font-size="10.0" fill="#111" stroke="#111" stroke-width="0.25">-0.20</text>
<line x1="678.0" y1="483.1" x2="681.2" y2="483.1" stroke="#000" stroke-width="1.0"/>
<text x="682.0" y="486.7" font-size="10.0" fill="#111" stroke="#111" stroke-width="0.25">-0.40</text>
<line x1="678.0" y1="499.4" x2="681.2" y2="499.4" stroke="#000" stroke-width="1.0"/>
<text x="682.0" y="503.0" font-size="10.0" fill="#111" stroke="#111" stroke-width="0.25">-0.60</text>
<line x1="678.0" y1="515.7" x2="681.2" y2="515.7" stroke="#000" stroke-width="1.0"/>
<text x="682.0" y="519.3" font-size="10.0" fill="#111" stroke="#111" stroke-width="0.25">-0.80</text>
</g>
<g id="panel-f">
<text x="706.3" y="367.6" font-size="18" fill="#111">(f)</text>
<text x="722.3" y="407.0" font-size="10.6" fill="#1a1a1a" stroke="#1a1a1a" stroke-width="0.25">[0 - 100]</text>
<text x="833.0" y="407.2" font-size="11.4" fill="#1a1a1a" stroke="#1a1a1a" stroke-width="0.25">PO-ATAC</text>
<path d="M721.7 416.4 L721.7 412.6 L723.2 412.6 L723.2 411.8 L724.7 411.8 L724.7 411.9 L726.2 411.9 L726.2 412.3 L727.7 412.3 L727.7 412.1 L729.2 412.1 L729.2 412.1 L730.7 412.1 L730.7 411.8 L732.2 411.8 L732.2 411.7 L733.7 411.7 L733.7 412.3 L735.2 412.3 L735.2 412.4 L736.7 412.4 L736.7 411.5 L738.2 411.5 L738.2 411.9 L739.7 411.9 L739.7 411.6 L741.2 411.6 L741.2 412.3 L742.7 412.3 L742.7 411.8 L744.2 411.8 L744.2 411.5 L745.7 411.5 L745.7 412.0 L747.2 412.0 L747.2 411.2 L748.7 411.2 L748.7 411.2 L750.2 411.2 L750.2 412.1 L751.7 412.1 L751.7 412.0 L753.2 412.0 L753.2 411.5 L754.7 411.5 L754.7 411.1 L756.2 411.1 L756.2 411.6 L757.7 411.6 L757.7 411.7 L759.2 411.7 L759.2 411.5 L760.7 411.5 L760.7 411.9 L762.2 411.9 L762.2 411.7 L763.7 411.7 L763.7 411.5 L765.2 411.5 L765.2 411.4 L766.7 411.4 L766.7 411.7 L768.2 411.7 L768.2 411.7 L769.7 411.7 L769.7 411.7 L771.2 411.7 L771.2 411.5 L772.7 411.5 L772.7 411.7 L774.2 411.7 L774.2 412.0 L775.7 412.0 L775.7 411.2 L777.2 411.2 L777.2 411.5 L778.7 411.5 L778.7 411.4 L780.2 411.4 L780.2 411.8 L781.7 411.8 L781.7 411.1 L783.2 411.1 L783.2 411.2 L784.7 411.2 L784.7 411.9 L786.2 411.9 L786.2 411.7 L787.7 411.7 L787.7 411.4 L789.2 411.4 L789.2 411.4 L790.7 411.4 L790.7 411.2 L792.2 411.2 L792.2 411.8 L793.7 411.8 L793.7 411.5 L795.2 411.5 L795.2 411.7 L796.7 411.7 L796.7 412.2 L798.2 412.2 L798.2 412.0 L799.7 412.0 L799.7 411.8 L801.2 411.8 L801.2 411.9 L802.7 411.9 L802.7 412.4 L804.2 412.4 L804.2 412.4 L805.7 412.4 L805.7 413.0 L807.2 413.0 L807.2 412.9 L808.7 412.9 L808.7 412.4 L810.2 412.4 L810.2 412.9 L811.7 412.9 L811.7 413.2 L813.2 413.2 L813.2 412.9 L814.7 412.9 L814.7 412.8 L816.2 412.8 L816.2 412.8 L817.7 412.8 L817.7 413.2 L819.2 413.2 L819.2 413.2 L820.7 413.2 L820.7 413.1 L822.2 413.1 L822.2 412.9 L823.7 412.9 L823.7 413.2 L825.2 413.2 L825.2 413.4 L826.7 413.4 L826.7 413.4 L828.2 413.4 L828.2 413.9 L829.7 413.9 L829.7 413.9 L831.2 413.9 L831.2 413.3 L832.7 413.3 L832.7 413.1 L834.2 413.1 L834.2 413.5 L835.7 413.5 L835.7 413.8 L837.2 413.8 L837.2 414.0 L838.7 414.0 L838.7 413.8 L840.2 413.8 L840.2 413.3 L841.7 413.3 L841.7 413.5 L843.2 413.5 L843.2 413.8 L844.7 413.8 L844.7 413.5 L846.2 413.5 L846.2 414.1 L847.7 414.1 L847.7 413.9 L849.2 413.9 L849.2 413.4 L850.7 413.4 L850.7 413.8 L852.2 413.8 L852.2 414.0 L853.7 414.0 L853.7 414.2 L855.2 414.2 L855.2 413.9 L856.7 413.9 L856.7 413.5 L858.2 413.5 L858.2 414.5 L859.7 414.5 L859.7 413.7 L861.2 413.7 L861.2 413.7 L862.7 413.7 L862.7 413.6 L864.2 413.6 L864.2 413.8 L865.7 413.8 L865.7 413.7 L867.2 413.7 L867.2 414.1 L868.7 414.1 L868.7 414.0 L870.2 414.0 L870.2 414.2 L871.7 414.2 L871.7 414.6 L873.2 414.6 L873.2 413.8 L874.7 413.8 L874.7 414.1 L876.2 414.1 L876.2 414.5 L877.7 414.5 L877.7 414.2 L879.2 414.2 L879.2 414.2 L880.7 414.2 L880.7 414.3 L882.2 414.3 L882.2 414.4 L883.7 414.4 L883.7 414.2 L885.2 414.2 L885.2 414.1 L886.7 414.1 L886.7 414.1 L888.2 414.1 L888.2 414.2 L889.7 414.2 L889.7 414.7 L891.2 414.7 L891.2 414.5 L892.7 414.5 L892.7 414.5 L894.2 414.5 L894.2 414.1 L895.7 414.1 L895.7 413.8 L897.2 413.8 L897.2 413.9 L898.7 413.9 L898.7 413.9 L900.2 413.9 L900.2 413.9 L901.7 413.9 L901.7 414.4 L903.2 414.4 L903.2 413.9 L904.7 413.9 L904.7 414.0 L906.2 414.0 L906.2 414.6 L907.7 414.6 L907.7 414.7 L909.2 414.7 L909.2 414.7 L910.7 414.7 L910.7 413.9 L912.2 413.9 L912.2 414.5 L913.7 414.5 L913.7 414.6 L915.2 414.6 L915.2 414.1 L916.7 414.1 L916.7 414.4 L918.2 414.4 L918.2 414.6 L919.7 414.6 L919.7 414.5 L921.2 414.5 L921.2 414.2 L922.7 414.2 L922.7 414.5 L924.2 414.5 L924.2 414.4 L925.7 414.4 L925.7 414.0 L927.2 414.0 L927.2 414.2 L928.7 414.2 L928.7 414.4 L930.2 414.4 L930.2 414.2 L931.7 414.2 L931.7 414.6 L933.2 414.6 L933.2 414.2 L934.7 414.2 L934.7 414.2 L936.2 414.2 L936.2 414.4 L937.7 414.4 L937.7 414.4 L939.2 414.4 L939.2 413.6 L940.7 413.6 L940.7 414.0 L942.2 414.0 L942.2 414.2 L943.7 414.2 L943.7 413.8 L945.2 413.8 L945.2 413.6 L946.7 413.6 L946.7 414.3 L948.2 414.3 L948.2 414.3 L949.7 414.3 L949.7 414.2 L951.2 414.2 L951.2 413.6 L952.7 413.6 L952.7 414.1 L954.2 414.1 L954.2 413.5 L955.7 413.5 L955.7 413.5 L957.2 413.5 L957.2 413.6 L958.7 413.6 L958.7 413.9 L960.2 413.9 L960.2 413.1 L961.7 413.1 L961.7 413.3 L963.2 413.3 L963.2 413.5 L964.7 413.5 L964.7 413.8 L966.2 413.8 L966.2 413.4 L967.7 413.4 L967.7 413.6 L969.2 413.6 L969.2 413.4 L970.7 413.4 L970.7 413.6 L972.2 413.6 L972.2 413.3 L973.7 413.3 L973.7 413.8 L975.2 413.8 L975.2 413.6 L976.7 413.6 L976.7 412.9 L978.2 412.9 L978.2 412.9 L979.7 412.9 L979.7 413.5 L981.2 413.5 L981.2 412.9 L982.7 412.9 L982.7 413.4 L984.2 413.4 L984.2 412.8 L985.7 412.8 L985.7 413.0 L987.2 413.0 L987.2 413.4 L988.7 413.4 L988.7 413.6 L990.2 413.6 L990.2 413.9 L991.7 413.9 L991.7 413.1 L993.2 413.1 L993.2 414.0 L994.7 414.0 L994.7 413.3 L996.2 413.3 L996.2 413.3 L997.3 413.3 L997.3 416.4 Z" fill="#df5145"/>
<text x="722.3" y="429.5" font-size="10.6" fill="#1a1a1a" stroke="#1a1a1a" stroke-width="0.25">[0 - 100]</text>
<text x="833.0" y="429.2" font-size="11.4" fill="#1a1a1a" stroke="#1a1a1a" stroke-width="0.25">MO-ATAC</text>
<path d="M721.7 435.5 L721.7 433.6 L723.2 433.6 L723.2 433.6 L724.7 433.6 L724.7 434.1 L726.2 434.1 L726.2 434.1 L727.7 434.1 L727.7 433.6 L729.2 433.6 L729.2 433.6 L730.7 433.6 L730.7 433.7 L732.2 433.7 L732.2 433.9 L733.7 433.9 L733.7 433.7 L735.2 433.7 L735.2 433.6 L736.7 433.6 L736.7 433.6 L738.2 433.6 L738.2 433.9 L739.7 433.9 L739.7 433.7 L741.2 433.7 L741.2 433.7 L742.7 433.7 L742.7 433.5 L744.2 433.5 L744.2 433.3 L745.7 433.3 L745.7 433.3 L747.2 433.3 L747.2 433.5 L748.7 433.5 L748.7 433.6 L750.2 433.6 L750.2 433.7 L751.7 433.7 L751.7 433.8 L753.2 433.8 L753.2 433.8 L754.7 433.8 L754.7 433.5 L756.2 433.5 L756.2 433.6 L757.7 433.6 L757.7 433.6 L759.2 433.6 L759.2 433.2 L760.7 433.2 L760.7 433.4 L762.2 433.4 L762.2 433.4 L763.7 433.4 L763.7 433.6 L765.2 433.6 L765.2 433.8 L766.7 433.8 L766.7 433.6 L768.2 433.6 L768.2 433.7 L769.7 433.7 L769.7 433.4 L771.2 433.4 L771.2 433.1 L772.7 433.1 L772.7 433.3 L774.2 433.3 L774.2 433.6 L775.7 433.6 L775.7 433.1 L777.2 433.1 L777.2 433.2 L778.7 433.2 L778.7 433.2 L780.2 433.2 L780.2 433.1 L781.7 433.1 L781.7 433.3 L783.2 433.3 L783.2 433.3 L784.7 433.3 L784.7 433.7 L786.2 433.7 L786.2 433.3 L787.7 433.3 L787.7 433.4 L789.2 433.4 L789.2 433.9 L790.7 433.9 L790.7 433.6 L792.2 433.6 L792.2 433.7 L793.7 433.7 L793.7 433.9 L795.2 433.9 L795.2 433.9 L796.7 433.9 L796.7 434.0 L798.2 434.0 L798.2 433.8 L799.7 433.8 L799.7 434.1 L801.2 434.1 L801.2 433.9 L802.7 433.9 L802.7 434.2 L804.2 434.2 L804.2 433.9 L805.7 433.9 L805.7 433.9 L807.2 433.9 L807.2 434.1 L808.7 434.1 L808.7 434.1 L810.2 434.1 L810.2 433.9 L811.7 433.9 L811.7 434.0 L813.2 434.0 L813.2 434.1 L814.7 434.1 L814.7 434.2 L816.2 434.2 L816.2 434.2 L817.7 434.2 L817.7 434.0 L819.2 434.0 L819.2 434.3 L820.7 434.3 L820.7 433.9 L822.2 433.9 L822.2 434.2 L823.7 434.2 L823.7 433.9 L825.2 433.9 L825.2 434.2 L826.7 434.2 L826.7 433.9 L828.2 433.9 L828.2 434.0 L829.7 434.0 L829.7 434.1 L831.2 434.1 L831.2 434.1 L832.7 434.1 L832.7 434.0 L834.2 434.0 L834.2 434.1 L835.7 434.1 L835.7 434.2 L837.2 434.2 L837.2 434.3 L838.7 434.3 L838.7 434.1 L840.2 434.1 L840.2 433.9 L841.7 433.9 L841.7 434.0 L843.2 434.0 L843.2 434.3 L844.7 434.3 L844.7 433.9 L846.2 433.9 L846.2 434.0 L847.7 434.0 L847.7 433.9 L849.2 433.9 L849.2 434.3 L850.7 434.3 L850.7 434.0 L852.2 434.0 L852.2 434.3 L853.7 434.3 L853.7 434.0 L855.2 434.0 L855.2 434.2 L856.7 434.2 L856.7 434.2 L858.2 434.2 L858.2 433.9 L859.7 433.9 L859.7 434.3 L861.2 434.3 L861.2 434.1 L862.7 434.1 L862.7 433.9 L864.2 433.9 L864.2 434.2 L865.7 434.2 L865.7 434.3 L867.2 434.3 L867.2 433.9 L868.7 433.9 L868.7 434.1 L870.2 434.1 L870.2 434.0 L871.7 434.0 L871.7 434.4 L873.2 434.4 L873.2 434.2 L874.7 434.2 L874.7 434.3 L876.2 434.3 L876.2 434.0 L877.7 434.0 L877.7 434.3 L879.2 434.3 L879.2 433.9 L880.7 433.9 L880.7 434.4 L882.2 434.4 L882.2 434.0 L883.7 434.0 L883.7 434.4 L885.2 434.4 L885.2 434.2 L886.7 434.2 L886.7 433.9 L888.2 433.9 L888.2 434.3 L889.7 434.3 L889.7 434.3 L891.2 434.3 L891.2 434.0 L892.7 434.0 L892.7 434.2 L894.2 434.2 L894.2 434.3 L895.7 434.3 L895.7 433.8 L897.2 433.8 L897.2 434.3 L898.7 434.3 L898.7 434.3 L900.2 434.3 L900.2 434.2 L901.7 434.2 L901.7 434.0 L903.2 434.0 L903.2 434.0 L904.7 434.0 L904.7 434.3 L906.2 434.3 L906.2 434.2 L907.7 434.2 L907.7 434.4 L909.2 434.4 L909.2 434.1 L910.7 434.1 L910.7 434.0 L912.2 434.0 L912.2 434.0 L913.7 434.0 L913.7 433.9 L915.2 433.9 L915.2 434.0 L916.7 434.0 L916.7 433.9 L918.2 433.9 L918.2 434.0 L919.7 434.0 L919.7 434.1 L921.2 434.1 L921.2 434.2 L922.7 434.2 L922.7 434.0 L924.2 434.0 L924.2 434.2 L925.7 434.2 L925.7 434.3 L927.2 434.3 L927.2 434.1 L928.7 434.1 L928.7 433.9 L930.2 433.9 L930.2 434.3 L931.7 434.3 L931.7 434.1 L933.2 434.1 L933.2 434.2 L934.7 434.2 L934.7 434.1 L936.2 434.1 L936.2 434.3 L937.7 434.3 L937.7 433.9 L939.2 433.9 L939.2 434.2 L940.7 434.2 L940.7 434.0 L942.2 434.0 L942.2 434.1 L943.7 434.1 L943.7 434.4 L945.2 434.4 L945.2 434.1 L946.7 434.1 L946.7 434.3 L948.2 434.3 L948.2 434.3 L949.7 434.3 L949.7 434.4 L951.2 434.4 L951.2 434.3 L952.7 434.3 L952.7 434.3 L954.2 434.3 L954.2 434.0 L955.7 434.0 L955.7 434.1 L957.2 434.1 L957.2 433.8 L958.7 433.8 L958.7 433.9 L960.2 433.9 L960.2 433.8 L961.7 433.8 L961.7 434.2 L963.2 434.2 L963.2 434.1 L964.7 434.1 L964.7 434.2 L966.2 434.2 L966.2 434.1 L967.7 434.1 L967.7 434.0 L969.2 434.0 L969.2 433.9 L970.7 433.9 L970.7 434.0 L972.2 434.0 L972.2 434.2 L973.7 434.2 L973.7 434.1 L975.2 434.1 L975.2 434.1 L976.7 434.1 L976.7 434.4 L978.2 434.4 L978.2 434.3 L979.7 434.3 L979.7 434.1 L981.2 434.1 L981.2 434.3 L982.7 434.3 L982.7 434.0 L984.2 434.0 L984.2 434.2 L985.7 434.2 L985.7 434.3 L987.2 434.3 L987.2 434.3 L988.7 434.3 L988.7 434.2 L990.2 434.2 L990.2 434.3 L991.7 434.3 L991.7 434.1 L993.2 434.1 L993.2 434.1 L994.7 434.1 L994.7 434.2 L996.2 434.2 L996.2 434.0 L997.3 434.0 L997.3 435.5 Z" fill="#49b1c9"/>
<rect x="721.7" y="457.5" width="131.9" height="4.8" fill="#df5145"/>
<rect x="754.5" y="456.2" width="99.1" height="7.3" fill="#df5145"/>
<path d="M739.2 458.8 L738.0 459.9 L739.2 461.0" fill="none" stroke="#fff" stroke-width="0.7"/>
<path d="M753.8 458.8 L752.6 459.9 L753.8 461.0" fill="none" stroke="#fff" stroke-width="0.7"/>
<path d="M768.5 458.8 L767.3 459.9 L768.5 461.0" fill="none" stroke="#fff" stroke-width="0.7"/>
<path d="M782.6 458.8 L781.4 459.9 L782.6 461.0" fill="none" stroke="#fff" stroke-width="0.7"/>
<path d="M797.2 458.8 L796.0 459.9 L797.2 461.0" fill="none" stroke="#fff" stroke-width="0.7"/>
<path d="M811.8 458.8 L810.6 459.9 L811.8 461.0" fill="none" stroke="#fff" stroke-width="0.7"/>
<path d="M825.8 458.8 L824.6 459.9 L825.8 461.0" fill="none" stroke="#fff" stroke-width="0.7"/>
<path d="M840.6 458.8 L839.4 459.9 L840.6 461.0" fill="none" stroke="#fff" stroke-width="0.7"/>
<text x="758.0" y="481.4" font-size="14.2" fill="#111" font-style="italic" stroke="#111" stroke-width="0.25">FhBBM</text>
<text x="724.6" y="529.9" font-size="10.6" fill="#1a1a1a" stroke="#1a1a1a" stroke-width="0.25">[0 - 80]</text>
<text x="832.5" y="533.0" font-size="11.4" fill="#1a1a1a" stroke="#1a1a1a" stroke-width="0.25">PO-ATAC</text>
<path d="M724.1 542.3 L724.1 536.2 L726.0 536.2 L726.0 535.6 L727.9 535.6 L727.9 536.3 L729.8 536.3 L729.8 535.8 L731.7 535.8 L731.7 535.9 L733.6 535.9 L733.6 537.6 L735.5 537.6 L735.5 537.8 L737.4 537.8 L737.4 535.6 L739.3 535.6 L739.3 537.4 L741.2 537.4 L741.2 537.6 L743.1 537.6 L743.1 535.6 L745.0 535.6 L745.0 537.2 L746.9 537.2 L746.9 536.2 L748.8 536.2 L748.8 537.3 L750.7 537.3 L750.7 536.9 L752.6 536.9 L752.6 538.3 L754.5 538.3 L754.5 537.0 L756.4 537.0 L756.4 536.4 L758.3 536.4 L758.3 537.4 L760.2 537.4 L760.2 536.8 L762.1 536.8 L762.1 536.9 L764.0 536.9 L764.0 538.5 L765.9 538.5 L765.9 536.4 L767.8 536.4 L767.8 536.7 L769.7 536.7 L769.7 537.4 L771.6 537.4 L771.6 538.0 L773.5 538.0 L773.5 535.6 L775.4 535.6 L775.4 536.6 L777.3 536.6 L777.3 536.0 L779.2 536.0 L779.2 535.7 L781.1 535.7 L781.1 536.2 L783.0 536.2 L783.0 535.7 L784.9 535.7 L784.9 537.3 L786.8 537.3 L786.8 536.3 L788.7 536.3 L788.7 537.4 L790.6 537.4 L790.6 536.0 L792.5 536.0 L792.5 536.1 L794.4 536.1 L794.4 538.1 L796.3 538.1 L796.3 537.9 L798.2 537.9 L798.2 537.5 L800.1 537.5 L800.1 535.3 L802.0 535.3 L802.0 536.7 L803.9 536.7 L803.9 536.0 L805.8 536.0 L805.8 536.9 L807.7 536.9 L807.7 536.4 L809.6 536.4 L809.6 536.8 L811.5 536.8 L811.5 536.9 L813.4 536.9 L813.4 536.3 L815.3 536.3 L815.3 536.4 L817.2 536.4 L817.2 535.5 L819.1 535.5 L819.1 536.2 L821.0 536.2 L821.0 535.6 L822.9 535.6 L822.9 535.8 L824.8 535.8 L824.8 535.5 L826.7 535.5 L826.7 536.4 L828.6 536.4 L828.6 537.9 L830.5 537.9 L830.5 535.9 L832.4 535.9 L832.4 535.7 L834.3 535.7 L834.3 535.9 L836.2 535.9 L836.2 536.8 L838.1 536.8 L838.1 536.4 L840.0 536.4 L840.0 537.9 L841.9 537.9 L841.9 536.1 L843.8 536.1 L843.8 536.9 L845.7 536.9 L845.7 537.6 L847.6 537.6 L847.6 538.0 L849.5 538.0 L849.5 535.6 L851.4 535.6 L851.4 535.0 L853.3 535.0 L853.3 537.3 L855.2 537.3 L855.2 535.1 L857.1 535.1 L857.1 536.0 L859.0 536.0 L859.0 536.7 L860.9 536.7 L860.9 536.3 L862.8 536.3 L862.8 534.9 L864.7 534.9 L864.7 534.7 L866.6 534.7 L866.6 537.0 L868.5 537.0 L868.5 535.4 L870.4 535.4 L870.4 537.0 L872.3 537.0 L872.3 535.1 L874.2 535.1 L874.2 536.2 L876.1 536.2 L876.1 535.4 L878.0 535.4 L878.0 536.5 L879.9 536.5 L879.9 539.2 L881.8 539.2 L881.8 538.0 L883.7 538.0 L883.7 540.1 L885.6 540.1 L885.6 540.5 L887.5 540.5 L887.5 539.6 L889.4 539.6 L889.4 540.5 L891.3 540.5 L891.3 539.9 L893.2 539.9 L893.2 538.8 L895.1 538.8 L895.1 537.8 L897.0 537.8 L897.0 538.7 L898.9 538.7 L898.9 538.8 L900.8 538.8 L900.8 536.1 L902.7 536.1 L902.7 537.4 L904.6 537.4 L904.6 535.3 L906.5 535.3 L906.5 535.2 L908.4 535.2 L908.4 536.4 L910.3 536.4 L910.3 536.0 L912.2 536.0 L912.2 535.6 L914.1 535.6 L914.1 535.0 L916.0 535.0 L916.0 535.0 L917.9 535.0 L917.9 535.0 L919.8 535.0 L919.8 534.7 L921.7 534.7 L921.7 533.7 L923.6 533.7 L923.6 534.8 L925.5 534.8 L925.5 534.7 L927.4 534.7 L927.4 533.4 L929.3 533.4 L929.3 534.2 L931.2 534.2 L931.2 533.5 L933.1 533.5 L933.1 531.0 L935.0 531.0 L935.0 531.7 L936.9 531.7 L936.9 531.3 L938.8 531.3 L938.8 532.4 L940.7 532.4 L940.7 530.9 L942.6 530.9 L942.6 530.1 L944.5 530.1 L944.5 531.2 L946.4 531.2 L946.4 529.7 L948.3 529.7 L948.3 529.9 L950.2 529.9 L950.2 531.8 L952.1 531.8 L952.1 530.4 L954.0 530.4 L954.0 529.9 L955.9 529.9 L955.9 528.3 L957.8 528.3 L957.8 528.3 L959.7 528.3 L959.7 527.5 L961.6 527.5 L961.6 527.6 L963.5 527.6 L963.5 529.9 L965.4 529.9 L965.4 529.7 L967.3 529.7 L967.3 526.4 L969.2 526.4 L969.2 525.0 L971.1 525.0 L971.1 527.0 L973.0 527.0 L973.0 526.4 L974.9 526.4 L974.9 526.0 L976.8 526.0 L976.8 526.8 L978.7 526.8 L978.7 526.7 L980.6 526.7 L980.6 526.8 L982.5 526.8 L982.5 527.0 L984.4 527.0 L984.4 527.8 L986.3 527.8 L986.3 530.1 L988.2 530.1 L988.2 531.1 L990.1 531.1 L990.1 531.3 L992.0 531.3 L992.0 534.6 L993.9 534.6 L993.9 534.4 L995.8 534.4 L995.8 535.2 L997.7 535.2 L997.7 537.6 L998.0 537.6 L998.0 542.3 Z" fill="#df5145"/>
<text x="724.6" y="554.8" font-size="10.6" fill="#1a1a1a" stroke="#1a1a1a" stroke-width="0.25">[0 - 80]</text>
<text x="832.5" y="554.1" font-size="11.4" fill="#1a1a1a" stroke="#1a1a1a" stroke-width="0.25">MO-ATAC</text>
<path d="M724.1 565.2 L724.1 562.1 L726.0 562.1 L726.0 562.2 L727.9 562.2 L727.9 561.3 L729.8 561.3 L729.8 561.7 L731.7 561.7 L731.7 561.8 L733.6 561.8 L733.6 560.7 L735.5 560.7 L735.5 559.2 L737.4 559.2 L737.4 559.3 L739.3 559.3 L739.3 559.2 L741.2 559.2 L741.2 560.5 L743.1 560.5 L743.1 559.6 L745.0 559.6 L745.0 560.3 L746.9 560.3 L746.9 560.5 L748.8 560.5 L748.8 560.6 L750.7 560.6 L750.7 560.4 L752.6 560.4 L752.6 558.9 L754.5 558.9 L754.5 559.4 L756.4 559.4 L756.4 559.7 L758.3 559.7 L758.3 560.0 L760.2 560.0 L760.2 561.8 L762.1 561.8 L762.1 561.5 L764.0 561.5 L764.0 560.6 L765.9 560.6 L765.9 560.3 L767.8 560.3 L767.8 559.9 L769.7 559.9 L769.7 559.8 L771.6 559.8 L771.6 561.8 L773.5 561.8 L773.5 560.5 L775.4 560.5 L775.4 560.2 L777.3 560.2 L777.3 560.6 L779.2 560.6 L779.2 561.5 L781.1 561.5 L781.1 560.6 L783.0 560.6 L783.0 561.6 L784.9 561.6 L784.9 559.4 L786.8 559.4 L786.8 559.5 L788.7 559.5 L788.7 560.3 L790.6 560.3 L790.6 560.9 L792.5 560.9 L792.5 559.3 L794.4 559.3 L794.4 560.1 L796.3 560.1 L796.3 559.3 L798.2 559.3 L798.2 559.3 L800.1 559.3 L800.1 560.2 L802.0 560.2 L802.0 560.4 L803.9 560.4 L803.9 559.9 L805.8 559.9 L805.8 560.4 L807.7 560.4 L807.7 561.1 L809.6 561.1 L809.6 560.7 L811.5 560.7 L811.5 559.4 L813.4 559.4 L813.4 561.4 L815.3 561.4 L815.3 561.4 L817.2 561.4 L817.2 559.9 L819.1 559.9 L819.1 560.8 L821.0 560.8 L821.0 560.1 L822.9 560.1 L822.9 560.4 L824.8 560.4 L824.8 560.8 L826.7 560.8 L826.7 559.2 L828.6 559.2 L828.6 561.3 L830.5 561.3 L830.5 560.8 L832.4 560.8 L832.4 561.5 L834.3 561.5 L834.3 560.4 L836.2 560.4 L836.2 561.4 L838.1 561.4 L838.1 561.3 L840.0 561.3 L840.0 560.4 L841.9 560.4 L841.9 561.4 L843.8 561.4 L843.8 560.7 L845.7 560.7 L845.7 559.7 L847.6 559.7 L847.6 561.7 L849.5 561.7 L849.5 561.7 L851.4 561.7 L851.4 561.1 L853.3 561.1 L853.3 559.6 L855.2 559.6 L855.2 559.9 L857.1 559.9 L857.1 560.8 L859.0 560.8 L859.0 560.5 L860.9 560.5 L860.9 560.9 L862.8 560.9 L862.8 560.2 L864.7 560.2 L864.7 561.4 L866.6 561.4 L866.6 559.8 L868.5 559.8 L868.5 559.3 L870.4 559.3 L870.4 559.2 L872.3 559.2 L872.3 559.9 L874.2 559.9 L874.2 559.4 L876.1 559.4 L876.1 561.9 L878.0 561.9 L878.0 561.3 L879.9 561.3 L879.9 559.6 L881.8 559.6 L881.8 559.9 L883.7 559.9 L883.7 560.6 L885.6 560.6 L885.6 559.1 L887.5 559.1 L887.5 559.7 L889.4 559.7 L889.4 559.0 L891.3 559.0 L891.3 560.1 L893.2 560.1 L893.2 560.2 L895.1 560.2 L895.1 559.4 L897.0 559.4 L897.0 560.3 L898.9 560.3 L898.9 559.9 L900.8 559.9 L900.8 558.5 L902.7 558.5 L902.7 560.4 L904.6 560.4 L904.6 561.4 L906.5 561.4 L906.5 561.5 L908.4 561.5 L908.4 561.3 L910.3 561.3 L910.3 559.8 L912.2 559.8 L912.2 560.8 L914.1 560.8 L914.1 560.9 L916.0 560.9 L916.0 561.3 L917.9 561.3 L917.9 559.0 L919.8 559.0 L919.8 560.3 L921.7 560.3 L921.7 560.8 L923.6 560.8 L923.6 561.1 L925.5 561.1 L925.5 561.0 L927.4 561.0 L927.4 560.6 L929.3 560.6 L929.3 559.2 L931.2 559.2 L931.2 560.5 L933.1 560.5 L933.1 560.7 L935.0 560.7 L935.0 559.5 L936.9 559.5 L936.9 560.1 L938.8 560.1 L938.8 558.1 L940.7 558.1 L940.7 560.4 L942.6 560.4 L942.6 559.3 L944.5 559.3 L944.5 558.6 L946.4 558.6 L946.4 559.5 L948.3 559.5 L948.3 558.0 L950.2 558.0 L950.2 559.3 L952.1 559.3 L952.1 560.0 L954.0 560.0 L954.0 559.8 L955.9 559.8 L955.9 560.9 L957.8 560.9 L957.8 560.0 L959.7 560.0 L959.7 560.6 L961.6 560.6 L961.6 559.1 L963.5 559.1 L963.5 559.4 L965.4 559.4 L965.4 560.4 L967.3 560.4 L967.3 561.6 L969.2 561.6 L969.2 561.0 L971.1 561.0 L971.1 561.0 L973.0 561.0 L973.0 561.1 L974.9 561.1 L974.9 561.0 L976.8 561.0 L976.8 559.3 L978.7 559.3 L978.7 561.2 L980.6 561.2 L980.6 561.4 L982.5 561.4 L982.5 559.1 L984.4 559.1 L984.4 560.0 L986.3 560.0 L986.3 559.1 L988.2 559.1 L988.2 560.8 L990.1 560.8 L990.1 559.7 L992.0 559.7 L992.0 560.6 L993.9 560.6 L993.9 560.4 L995.8 560.4 L995.8 560.7 L997.7 560.7 L997.7 561.6 L998.0 561.6 L998.0 565.2 Z" fill="#49b1c9"/>
<rect x="968.4" y="568.6" width="18.5" height="5.3" fill="#df5145"/>
<text x="931.0" y="585.5" font-size="10.5" fill="#1a1a1a" stroke="#1a1a1a" stroke-width="0.25">po_peak_326</text>
<rect x="721.7" y="586.5" width="155.3" height="5.0" fill="#df5145"/>
<rect x="721.7" y="585.2" width="31.7" height="7.6" fill="#df5145"/>
<rect x="780.3" y="585.2" width="8.8" height="7.6" fill="#df5145"/>
<rect x="797.9" y="585.2" width="36.6" height="7.6" fill="#df5145"/>
<path d="M738.3 587.9 L737.1 589.0 L738.3 590.1" fill="none" stroke="#fff" stroke-width="0.7"/>
<path d="M763.8 587.9 L762.6 589.0 L763.8 590.1" fill="none" stroke="#fff" stroke-width="0.7"/>
<path d="M808.8 587.9 L807.6 589.0 L808.8 590.1" fill="none" stroke="#fff" stroke-width="0.7"/>
<path d="M816.3 587.9 L815.1 589.0 L816.3 590.1" fill="none" stroke="#fff" stroke-width="0.7"/>
<path d="M832.8 587.9 L831.6 589.0 L832.8 590.1" fill="none" stroke="#fff" stroke-width="0.7"/>
<rect x="834.5" y="586.0" width="42.5" height="6.0" fill="#df5145"/>
<text x="775.0" y="607.4" font-size="14.2" fill="#111" font-style="italic" stroke="#111" stroke-width="0.25">FhWUS</text>
<text x="721.7" y="660.5" font-size="10.6" fill="#1a1a1a" stroke="#1a1a1a" stroke-width="0.25">[0 - 160]</text>
<text x="826.3" y="663.0" font-size="11.4" fill="#1a1a1a" stroke="#1a1a1a" stroke-width="0.25">PO-ATAC</text>
<path d="M721.7 671.4 L721.7 665.1 L723.4 665.1 L723.4 665.2 L725.1 665.2 L725.1 665.4 L726.8 665.4 L726.8 665.5 L728.5 665.5 L728.5 666.0 L730.2 666.0 L730.2 665.8 L731.9 665.8 L731.9 667.2 L733.6 667.2 L733.6 666.6 L735.3 666.6 L735.3 665.9 L737.0 665.9 L737.0 666.4 L738.7 666.4 L738.7 666.0 L740.4 666.0 L740.4 667.3 L742.1 667.3 L742.1 666.8 L743.8 666.8 L743.8 667.2 L745.5 667.2 L745.5 666.7 L747.2 666.7 L747.2 666.6 L748.9 666.6 L748.9 667.4 L750.6 667.4 L750.6 667.0 L752.3 667.0 L752.3 666.9 L754.0 666.9 L754.0 665.8 L755.7 665.8 L755.7 665.9 L757.4 665.9 L757.4 666.8 L759.1 666.8 L759.1 665.8 L760.8 665.8 L760.8 666.8 L762.5 666.8 L762.5 666.2 L764.2 666.2 L764.2 667.1 L765.9 667.1 L765.9 667.4 L767.6 667.4 L767.6 666.1 L769.3 666.1 L769.3 667.3 L771.0 667.3 L771.0 667.4 L772.7 667.4 L772.7 666.3 L774.4 666.3 L774.4 666.6 L776.1 666.6 L776.1 667.6 L777.8 667.6 L777.8 666.7 L779.5 666.7 L779.5 667.6 L781.2 667.6 L781.2 667.5 L782.9 667.5 L782.9 668.4 L784.6 668.4 L784.6 667.4 L786.3 667.4 L786.3 667.9 L788.0 667.9 L788.0 667.7 L789.7 667.7 L789.7 667.9 L791.4 667.9 L791.4 669.0 L793.1 669.0 L793.1 668.9 L794.8 668.9 L794.8 669.3 L796.5 669.3 L796.5 669.4 L798.2 669.4 L798.2 669.6 L799.9 669.6 L799.9 669.3 L801.6 669.3 L801.6 668.8 L803.3 668.8 L803.3 669.6 L805.0 669.6 L805.0 668.7 L806.7 668.7 L806.7 669.3 L808.4 669.3 L808.4 669.3 L810.1 669.3 L810.1 668.5 L811.8 668.5 L811.8 669.0 L813.5 669.0 L813.5 669.3 L815.2 669.3 L815.2 669.0 L816.9 669.0 L816.9 668.7 L818.6 668.7 L818.6 669.6 L820.3 669.6 L820.3 668.2 L822.0 668.2 L822.0 669.6 L823.7 669.6 L823.7 668.6 L825.4 668.6 L825.4 668.4 L827.1 668.4 L827.1 669.6 L828.8 669.6 L828.8 668.5 L830.5 668.5 L830.5 669.2 L832.2 669.2 L832.2 668.9 L833.9 668.9 L833.9 669.6 L835.6 669.6 L835.6 669.6 L837.3 669.6 L837.3 669.5 L839.0 669.5 L839.0 668.3 L840.7 668.3 L840.7 669.5 L842.4 669.5 L842.4 668.6 L844.1 668.6 L844.1 668.3 L845.8 668.3 L845.8 668.3 L847.5 668.3 L847.5 669.2 L849.2 669.2 L849.2 669.2 L850.9 669.2 L850.9 669.0 L852.6 669.0 L852.6 668.6 L854.3 668.6 L854.3 669.6 L856.0 669.6 L856.0 668.6 L857.7 668.6 L857.7 668.5 L859.4 668.5 L859.4 668.4 L861.1 668.4 L861.1 669.6 L862.8 669.6 L862.8 668.3 L864.5 668.3 L864.5 669.6 L866.2 669.6 L866.2 669.3 L867.9 669.3 L867.9 668.8 L869.6 668.8 L869.6 668.3 L871.3 668.3 L871.3 669.3 L873.0 669.3 L873.0 668.3 L874.7 668.3 L874.7 668.9 L876.4 668.9 L876.4 669.3 L878.1 669.3 L878.1 669.3 L879.8 669.3 L879.8 669.5 L881.5 669.5 L881.5 669.6 L883.2 669.6 L883.2 669.5 L884.9 669.5 L884.9 668.6 L886.6 668.6 L886.6 668.0 L888.3 668.0 L888.3 669.3 L890.0 669.3 L890.0 669.4 L891.7 669.4 L891.7 667.9 L893.4 667.9 L893.4 668.5 L895.1 668.5 L895.1 668.7 L896.8 668.7 L896.8 668.9 L898.5 668.9 L898.5 668.3 L900.2 668.3 L900.2 667.9 L901.9 667.9 L901.9 668.3 L903.6 668.3 L903.6 668.2 L905.3 668.2 L905.3 668.7 L907.0 668.7 L907.0 667.2 L908.7 667.2 L908.7 668.5 L910.4 668.5 L910.4 667.6 L912.1 667.6 L912.1 666.9 L913.8 666.9 L913.8 667.9 L915.5 667.9 L915.5 666.7 L917.2 666.7 L917.2 666.1 L918.9 666.1 L918.9 666.3 L920.6 666.3 L920.6 665.7 L922.3 665.7 L922.3 666.5 L924.0 666.5 L924.0 665.7 L925.7 665.7 L925.7 665.9 L927.4 665.9 L927.4 664.5 L929.1 664.5 L929.1 664.8 L930.8 664.8 L930.8 664.0 L932.5 664.0 L932.5 662.5 L934.2 662.5 L934.2 662.2 L935.9 662.2 L935.9 661.4 L937.6 661.4 L937.6 661.6 L939.3 661.6 L939.3 661.0 L941.0 661.0 L941.0 660.0 L942.7 660.0 L942.7 659.9 L944.4 659.9 L944.4 659.6 L946.1 659.6 L946.1 658.9 L947.8 658.9 L947.8 659.1 L949.5 659.1 L949.5 659.1 L951.2 659.1 L951.2 658.4 L952.9 658.4 L952.9 658.8 L954.6 658.8 L954.6 659.6 L956.3 659.6 L956.3 660.1 L958.0 660.1 L958.0 660.6 L959.7 660.6 L959.7 661.3 L961.4 661.3 L961.4 661.2 L963.1 661.2 L963.1 660.7 L964.8 660.7 L964.8 660.8 L966.5 660.8 L966.5 662.2 L968.2 662.2 L968.2 662.2 L969.9 662.2 L969.9 662.9 L971.6 662.9 L971.6 663.7 L973.3 663.7 L973.3 664.5 L975.0 664.5 L975.0 665.0 L976.7 665.0 L976.7 666.1 L978.4 666.1 L978.4 666.0 L980.1 666.0 L980.1 667.2 L981.8 667.2 L981.8 667.4 L983.5 667.4 L983.5 667.1 L985.2 667.1 L985.2 667.3 L986.9 667.3 L986.9 668.1 L988.6 668.1 L988.6 667.2 L990.3 667.2 L990.3 667.8 L992.0 667.8 L992.0 667.9 L993.7 667.9 L993.7 668.9 L995.4 668.9 L995.4 668.1 L997.1 668.1 L997.1 668.6 L998.0 668.6 L998.0 671.4 Z" fill="#df5145"/>
<text x="721.7" y="686.9" font-size="10.6" fill="#1a1a1a" stroke="#1a1a1a" stroke-width="0.25">[0 - 160]</text>
<text x="826.3" y="684.6" font-size="11.4" fill="#1a1a1a" stroke="#1a1a1a" stroke-width="0.25">MO-ATAC</text>
<path d="M721.7 694.3 L721.7 692.2 L723.0 692.2 L723.0 692.0 L724.3 692.0 L724.3 692.2 L725.6 692.2 L725.6 692.3 L726.9 692.3 L726.9 692.4 L728.2 692.4 L728.2 691.6 L729.5 691.6 L729.5 691.7 L730.8 691.7 L730.8 691.3 L732.1 691.3 L732.1 691.5 L733.4 691.5 L733.4 691.0 L734.7 691.0 L734.7 691.4 L736.0 691.4 L736.0 690.7 L737.3 690.7 L737.3 690.7 L738.6 690.7 L738.6 691.0 L739.9 691.0 L739.9 690.8 L741.2 690.8 L741.2 690.5 L742.5 690.5 L742.5 690.9 L743.8 690.9 L743.8 690.5 L745.1 690.5 L745.1 690.2 L746.4 690.2 L746.4 690.6 L747.7 690.6 L747.7 690.0 L749.0 690.0 L749.0 690.2 L750.3 690.2 L750.3 690.1 L751.6 690.1 L751.6 690.6 L752.9 690.6 L752.9 691.0 L754.2 691.0 L754.2 690.3 L755.5 690.3 L755.5 690.4 L756.8 690.4 L756.8 690.8 L758.1 690.8 L758.1 691.2 L759.4 691.2 L759.4 691.2 L760.7 691.2 L760.7 690.8 L762.0 690.8 L762.0 691.3 L763.3 691.3 L763.3 690.8 L764.6 690.8 L764.6 691.3 L765.9 691.3 L765.9 691.8 L767.2 691.8 L767.2 691.5 L768.5 691.5 L768.5 691.9 L769.8 691.9 L769.8 691.5 L771.1 691.5 L771.1 691.7 L772.4 691.7 L772.4 692.2 L773.7 692.2 L773.7 692.2 L775.0 692.2 L775.0 692.3 L776.3 692.3 L776.3 692.3 L777.6 692.3 L777.6 692.2 L778.9 692.2 L778.9 693.0 L780.2 693.0 L780.2 692.8 L781.5 692.8 L781.5 692.6 L782.8 692.6 L782.8 692.9 L784.1 692.9 L784.1 692.7 L785.4 692.7 L785.4 693.1 L786.7 693.1 L786.7 692.5 L788.0 692.5 L788.0 692.8 L789.3 692.8 L789.3 693.2 L790.6 693.2 L790.6 692.8 L791.9 692.8 L791.9 693.0 L793.2 693.0 L793.2 693.1 L794.5 693.1 L794.5 692.9 L795.8 692.9 L795.8 693.2 L797.1 693.2 L797.1 693.1 L798.4 693.1 L798.4 692.6 L799.7 692.6 L799.7 692.7 L801.0 692.7 L801.0 693.2 L802.3 693.2 L802.3 692.7 L803.6 692.7 L803.6 693.2 L804.9 693.2 L804.9 693.0 L806.2 693.0 L806.2 692.6 L807.5 692.6 L807.5 692.8 L808.8 692.8 L808.8 693.0 L810.1 693.0 L810.1 693.0 L811.4 693.0 L811.4 693.0 L812.7 693.0 L812.7 693.2 L814.0 693.2 L814.0 692.5 L815.3 692.5 L815.3 693.2 L816.6 693.2 L816.6 692.9 L817.9 692.9 L817.9 692.7 L819.2 692.7 L819.2 693.0 L820.5 693.0 L820.5 692.5 L821.8 692.5 L821.8 693.1 L823.1 693.1 L823.1 692.5 L824.4 692.5 L824.4 692.6 L825.7 692.6 L825.7 692.7 L827.0 692.7 L827.0 692.6 L828.3 692.6 L828.3 692.9 L829.6 692.9 L829.6 692.6 L830.9 692.6 L830.9 692.6 L832.2 692.6 L832.2 692.8 L833.5 692.8 L833.5 692.9 L834.8 692.9 L834.8 692.7 L836.1 692.7 L836.1 692.9 L837.4 692.9 L837.4 693.2 L838.7 693.2 L838.7 692.7 L840.0 692.7 L840.0 693.0 L841.3 693.0 L841.3 692.9 L842.6 692.9 L842.6 692.6 L843.9 692.6 L843.9 693.1 L845.2 693.1 L845.2 693.2 L846.5 693.2 L846.5 693.1 L847.8 693.1 L847.8 692.8 L849.1 692.8 L849.1 693.0 L850.4 693.0 L850.4 693.0 L851.7 693.0 L851.7 692.9 L853.0 692.9 L853.0 692.5 L854.3 692.5 L854.3 693.0 L855.6 693.0 L855.6 692.9 L856.9 692.9 L856.9 692.5 L858.2 692.5 L858.2 692.7 L859.5 692.7 L859.5 693.0 L860.8 693.0 L860.8 692.8 L862.1 692.8 L862.1 692.8 L863.4 692.8 L863.4 693.1 L864.7 693.1 L864.7 692.9 L866.0 692.9 L866.0 693.0 L867.3 693.0 L867.3 692.6 L868.6 692.6 L868.6 693.0 L869.9 693.0 L869.9 692.7 L871.2 692.7 L871.2 692.4 L872.5 692.4 L872.5 692.5 L873.8 692.5 L873.8 692.9 L875.1 692.9 L875.1 692.7 L876.4 692.7 L876.4 693.0 L877.7 693.0 L877.7 692.9 L879.0 692.9 L879.0 692.8 L880.3 692.8 L880.3 692.6 L881.6 692.6 L881.6 692.5 L882.9 692.5 L882.9 693.0 L884.2 693.0 L884.2 693.2 L885.5 693.2 L885.5 692.8 L886.8 692.8 L886.8 693.2 L888.1 693.2 L888.1 693.2 L889.4 693.2 L889.4 692.6 L890.7 692.6 L890.7 693.1 L892.0 693.1 L892.0 692.5 L893.3 692.5 L893.3 692.8 L894.6 692.8 L894.6 692.2 L895.9 692.2 L895.9 692.2 L897.2 692.2 L897.2 692.9 L898.5 692.9 L898.5 692.7 L899.8 692.7 L899.8 691.9 L901.1 691.9 L901.1 692.2 L902.4 692.2 L902.4 692.3 L903.7 692.3 L903.7 691.9 L905.0 691.9 L905.0 691.8 L906.3 691.8 L906.3 692.0 L907.6 692.0 L907.6 691.9 L908.9 691.9 L908.9 692.1 L910.2 692.1 L910.2 691.8 L911.5 691.8 L911.5 691.8 L912.8 691.8 L912.8 691.2 L914.1 691.2 L914.1 691.1 L915.4 691.1 L915.4 691.5 L916.7 691.5 L916.7 690.9 L918.0 690.9 L918.0 691.3 L919.3 691.3 L919.3 691.2 L920.6 691.2 L920.6 690.5 L921.9 690.5 L921.9 690.6 L923.2 690.6 L923.2 690.1 L924.5 690.1 L924.5 690.3 L925.8 690.3 L925.8 690.1 L927.1 690.1 L927.1 690.6 L928.4 690.6 L928.4 689.8 L929.7 689.8 L929.7 690.4 L931.0 690.4 L931.0 689.8 L932.3 689.8 L932.3 689.4 L933.6 689.4 L933.6 689.3 L934.9 689.3 L934.9 689.3 L936.2 689.3 L936.2 689.6 L937.5 689.6 L937.5 689.3 L938.8 689.3 L938.8 689.1 L940.1 689.1 L940.1 689.7 L941.4 689.7 L941.4 688.9 L942.7 688.9 L942.7 688.9 L944.0 688.9 L944.0 689.4 L945.3 689.4 L945.3 689.1 L946.6 689.1 L946.6 689.4 L947.9 689.4 L947.9 689.6 L949.2 689.6 L949.2 689.2 L950.5 689.2 L950.5 689.9 L951.8 689.9 L951.8 689.2 L953.1 689.2 L953.1 689.0 L954.4 689.0 L954.4 689.7 L955.7 689.7 L955.7 689.1 L957.0 689.1 L957.0 690.1 L958.3 690.1 L958.3 689.4 L959.6 689.4 L959.6 690.1 L960.9 690.1 L960.9 689.5 L962.2 689.5 L962.2 690.1 L963.5 690.1 L963.5 689.8 L964.8 689.8 L964.8 690.8 L966.1 690.8 L966.1 690.8 L967.4 690.8 L967.4 690.2 L968.7 690.2 L968.7 690.5 L970.0 690.5 L970.0 690.7 L971.3 690.7 L971.3 691.3 L972.6 691.3 L972.6 691.3 L973.9 691.3 L973.9 691.3 L975.2 691.3 L975.2 691.8 L976.5 691.8 L976.5 691.0 L977.8 691.0 L977.8 691.4 L979.1 691.4 L979.1 691.3 L980.4 691.3 L980.4 691.7 L981.7 691.7 L981.7 692.1 L983.0 692.1 L983.0 692.5 L984.3 692.5 L984.3 691.9 L985.6 691.9 L985.6 692.5 L986.9 692.5 L986.9 692.2 L988.2 692.2 L988.2 692.3 L989.5 692.3 L989.5 692.3 L990.8 692.3 L990.8 692.8 L992.1 692.8 L992.1 692.8 L993.4 692.8 L993.4 692.5 L994.7 692.5 L994.7 693.0 L996.0 693.0 L996.0 692.6 L997.3 692.6 L997.3 693.0 L998.0 693.0 L998.0 694.3 Z" fill="#49b1c9"/>
<rect x="937.7" y="698.0" width="32.2" height="5.6" fill="#df5145"/>
<text x="912.0" y="714.6" font-size="10.5" fill="#1a1a1a" stroke="#1a1a1a" stroke-width="0.25">po_peak_47144</text>
<rect x="725.2" y="721.6" width="205.4" height="5.6" fill="#df5145"/>
<rect x="734.9" y="720.0" width="41.0" height="8.8" fill="#df5145"/>
<rect x="804.3" y="720.0" width="8.8" height="8.8" fill="#df5145"/>
<rect x="860.9" y="720.0" width="61.5" height="8.8" fill="#df5145"/>
<path d="M751.8 723.3 L750.6 724.4 L751.8 725.5" fill="none" stroke="#fff" stroke-width="0.7"/>
<path d="M769.3 723.3 L768.1 724.4 L769.3 725.5" fill="none" stroke="#fff" stroke-width="0.7"/>
<path d="M790.8 723.3 L789.6 724.4 L790.8 725.5" fill="none" stroke="#fff" stroke-width="0.7"/>
<path d="M825.8 723.3 L824.6 724.4 L825.8 725.5" fill="none" stroke="#fff" stroke-width="0.7"/>
<path d="M842.8 723.3 L841.6 724.4 L842.8 725.5" fill="none" stroke="#fff" stroke-width="0.7"/>
<path d="M858.8 723.3 L857.6 724.4 L858.8 725.5" fill="none" stroke="#fff" stroke-width="0.7"/>
<path d="M879.3 723.3 L878.1 724.4 L879.3 725.5" fill="none" stroke="#fff" stroke-width="0.7"/>
<path d="M896.8 723.3 L895.6 724.4 L896.8 725.5" fill="none" stroke="#fff" stroke-width="0.7"/>
<path d="M914.3 723.3 L913.1 724.4 L914.3 725.5" fill="none" stroke="#fff" stroke-width="0.7"/>
<text x="804.0" y="744.7" font-size="14.2" fill="#111" font-style="italic" stroke="#111" stroke-width="0.25">FhKRP7</text>
</g>
</svg>
</body>
</html>
